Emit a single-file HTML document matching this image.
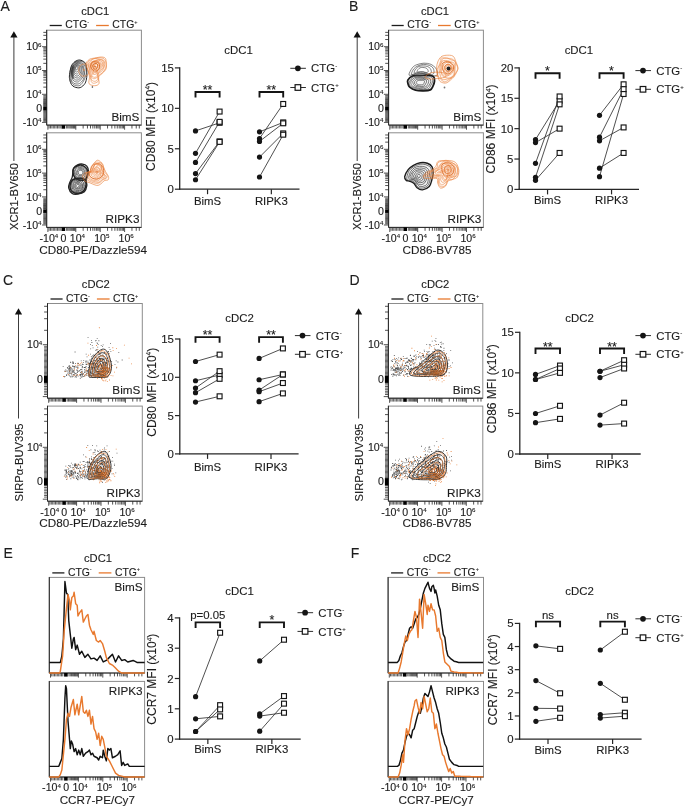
<!DOCTYPE html>
<html><head><meta charset="utf-8"><style>
html,body{margin:0;padding:0;background:#fff;overflow:hidden;}
svg{display:block;font-family:'Liberation Sans',sans-serif;will-change:transform;}
text{stroke:#1c1c1c;stroke-width:0.12px;}
</style></head><body>
<svg width="685" height="808" viewBox="0 0 685 808">
<rect width="685" height="808" fill="#fff"/>
<text x="0.4" y="10.8" font-size="14" text-anchor="start" fill="#1c1c1c" >A</text>
<text x="95.2" y="15" font-size="11.2" text-anchor="middle" fill="#1c1c1c" >cDC1</text>
<line x1="49.7" y1="25.5" x2="61.8" y2="25.5" stroke="#1c1c1c" stroke-width="1.3" />
<text x="65.3" y="28.4" font-size="10.4" text-anchor="start" fill="#1c1c1c" >CTG<tspan font-size="5.5" dy="-4.4">-</tspan></text>
<line x1="96.1" y1="25.5" x2="108.8" y2="25.5" stroke="#E8792E" stroke-width="1.3" />
<text x="112.3" y="28.4" font-size="10.4" text-anchor="start" fill="#1c1c1c" >CTG<tspan font-size="5.5" dy="-4.4">+</tspan></text>
<rect x="46.7" y="30.2" width="94.7" height="94.9" fill="none" stroke="#8c8c8c" stroke-width="1"/>
<line x1="46.7" y1="29.9" x2="46.7" y2="125.1" stroke="#262626" stroke-width="1" />
<line x1="46.7" y1="125.1" x2="141.4" y2="125.1" stroke="#262626" stroke-width="1" />
<path d="M43.3,39.54h3.4M43.3,35.34h3.4M43.3,32.37h3.4M43.3,63.34h3.4M43.3,59.14h3.4M43.3,56.17h3.4M43.3,53.86h3.4M43.3,51.98h3.4M43.3,50.39h3.4M43.3,49.01h3.4M43.3,47.79h3.4M43.3,87.14h3.4M43.3,82.94h3.4M43.3,79.97h3.4M43.3,77.66h3.4M43.3,75.78h3.4M43.3,74.19h3.4M43.3,72.81h3.4M43.3,71.59h3.4" stroke="#262626" stroke-width="0.8" fill="none"/>
<path d="M42,46.7h4.7M42,70.5h4.7M42,94.3h4.7M42,122.4h4.7" stroke="#262626" stroke-width="0.8" fill="none"/>
<path d="M43.3,95.6h3.4M43.3,96.8h3.4M43.3,97.8h3.4M43.3,98.7h3.4M43.3,99.5h3.4M43.3,100.3h3.4M43.3,101h3.4M43.3,101.7h3.4M43.3,102.3h3.4M43.3,102.9h3.4M43.3,103.5h3.4M43.3,104.1h3.4M43.3,104.7h3.4M43.3,105.3h3.4M43.3,105.9h3.4M43.3,106.5h3.4M43.3,110.4h3.4M43.3,111.4h3.4M43.3,112.3h3.4M43.3,113.2h3.4M43.3,114.1h3.4M43.3,115h3.4M43.3,115.9h3.4M43.3,116.8h3.4M43.3,117.7h3.4M43.3,118.6h3.4M43.3,119.5h3.4M43.3,120.4h3.4M43.3,121.3h3.4" stroke="#333" stroke-width="0.8" fill="none"/>
<rect x="43.2" y="106.9" width="3.5" height="3.4" fill="#000"/>
<text x="41.5" y="50.4" font-size="10.6" text-anchor="end" fill="#1c1c1c" >10<tspan font-size="6.2" dy="-3.8">6</tspan></text>
<text x="41.5" y="74.2" font-size="10.6" text-anchor="end" fill="#1c1c1c" >10<tspan font-size="6.2" dy="-3.8">5</tspan></text>
<text x="41.5" y="98" font-size="10.6" text-anchor="end" fill="#1c1c1c" >10<tspan font-size="6.2" dy="-3.8">4</tspan></text>
<text x="42.1" y="112.3" font-size="10.6" text-anchor="end" fill="#1c1c1c" >0</text>
<text x="41.5" y="126.1" font-size="10.6" text-anchor="end" fill="#1c1c1c" >-10<tspan font-size="6.2" dy="-3.8">4</tspan></text>
<path d="M83.15,125.1v3.4M87.44,125.1v3.4M90.49,125.1v3.4M92.85,125.1v3.4M94.79,125.1v3.4M96.42,125.1v3.4M97.84,125.1v3.4M99.08,125.1v3.4M107.55,125.1v3.4M111.84,125.1v3.4M114.89,125.1v3.4M117.25,125.1v3.4M119.19,125.1v3.4M120.82,125.1v3.4M122.24,125.1v3.4M123.48,125.1v3.4M131.95,125.1v3.4M136.24,125.1v3.4M139.29,125.1v3.4" stroke="#262626" stroke-width="0.8" fill="none"/>
<path d="M75.8,125.1v4.6M100.2,125.1v4.6M124.6,125.1v4.6M47.9,125.1v4.6" stroke="#262626" stroke-width="0.8" fill="none"/>
<path d="M49.1,125.1v3.4M50.5,125.1v3.4M51.9,125.1v3.4M53.3,125.1v3.4M54.7,125.1v3.4M56.1,125.1v3.4M57.5,125.1v3.4M58.9,125.1v3.4M60.2,125.1v3.4M66.4,125.1v3.4M67.7,125.1v3.4M68.9,125.1v3.4M70,125.1v3.4M71,125.1v3.4M71.9,125.1v3.4M72.8,125.1v3.4M73.6,125.1v3.4M74.4,125.1v3.4M75.1,125.1v3.4" stroke="#333" stroke-width="0.8" fill="none"/>
<rect x="61.5" y="125.1" width="3.6" height="3.6" fill="#000"/>
<text x="139.4" y="120.5" font-size="11.7" text-anchor="end" fill="#1c1c1c" >BimS</text>
<rect x="46.7" y="132.8" width="94.7" height="94.6" fill="none" stroke="#8c8c8c" stroke-width="1"/>
<line x1="46.7" y1="132.5" x2="46.7" y2="227.4" stroke="#262626" stroke-width="1" />
<line x1="46.7" y1="227.4" x2="141.4" y2="227.4" stroke="#262626" stroke-width="1" />
<path d="M43.3,142.14h3.4M43.3,137.94h3.4M43.3,134.97h3.4M43.3,165.94h3.4M43.3,161.74h3.4M43.3,158.77h3.4M43.3,156.46h3.4M43.3,154.58h3.4M43.3,152.99h3.4M43.3,151.61h3.4M43.3,150.39h3.4M43.3,189.74h3.4M43.3,185.54h3.4M43.3,182.57h3.4M43.3,180.26h3.4M43.3,178.38h3.4M43.3,176.79h3.4M43.3,175.41h3.4M43.3,174.19h3.4" stroke="#262626" stroke-width="0.8" fill="none"/>
<path d="M42,149.3h4.7M42,173.1h4.7M42,196.9h4.7M42,225h4.7" stroke="#262626" stroke-width="0.8" fill="none"/>
<path d="M43.3,198.2h3.4M43.3,199.4h3.4M43.3,200.4h3.4M43.3,201.3h3.4M43.3,202.1h3.4M43.3,202.9h3.4M43.3,203.6h3.4M43.3,204.3h3.4M43.3,204.9h3.4M43.3,205.5h3.4M43.3,206.1h3.4M43.3,206.7h3.4M43.3,207.3h3.4M43.3,207.9h3.4M43.3,208.5h3.4M43.3,209.1h3.4M43.3,213h3.4M43.3,214h3.4M43.3,214.9h3.4M43.3,215.8h3.4M43.3,216.7h3.4M43.3,217.6h3.4M43.3,218.5h3.4M43.3,219.4h3.4M43.3,220.3h3.4M43.3,221.2h3.4M43.3,222.1h3.4M43.3,223h3.4M43.3,223.9h3.4" stroke="#333" stroke-width="0.8" fill="none"/>
<rect x="43.2" y="209.5" width="3.5" height="3.4" fill="#000"/>
<text x="41.5" y="153" font-size="10.6" text-anchor="end" fill="#1c1c1c" >10<tspan font-size="6.2" dy="-3.8">6</tspan></text>
<text x="41.5" y="176.8" font-size="10.6" text-anchor="end" fill="#1c1c1c" >10<tspan font-size="6.2" dy="-3.8">5</tspan></text>
<text x="41.5" y="200.6" font-size="10.6" text-anchor="end" fill="#1c1c1c" >10<tspan font-size="6.2" dy="-3.8">4</tspan></text>
<text x="42.1" y="214.9" font-size="10.6" text-anchor="end" fill="#1c1c1c" >0</text>
<text x="41.5" y="228.7" font-size="10.6" text-anchor="end" fill="#1c1c1c" >-10<tspan font-size="6.2" dy="-3.8">4</tspan></text>
<path d="M83.15,227.4v3.4M87.44,227.4v3.4M90.49,227.4v3.4M92.85,227.4v3.4M94.79,227.4v3.4M96.42,227.4v3.4M97.84,227.4v3.4M99.08,227.4v3.4M107.55,227.4v3.4M111.84,227.4v3.4M114.89,227.4v3.4M117.25,227.4v3.4M119.19,227.4v3.4M120.82,227.4v3.4M122.24,227.4v3.4M123.48,227.4v3.4M131.95,227.4v3.4M136.24,227.4v3.4M139.29,227.4v3.4" stroke="#262626" stroke-width="0.8" fill="none"/>
<path d="M75.8,227.4v4.6M100.2,227.4v4.6M124.6,227.4v4.6M47.9,227.4v4.6" stroke="#262626" stroke-width="0.8" fill="none"/>
<path d="M49.1,227.4v3.4M50.5,227.4v3.4M51.9,227.4v3.4M53.3,227.4v3.4M54.7,227.4v3.4M56.1,227.4v3.4M57.5,227.4v3.4M58.9,227.4v3.4M60.2,227.4v3.4M66.4,227.4v3.4M67.7,227.4v3.4M68.9,227.4v3.4M70,227.4v3.4M71,227.4v3.4M71.9,227.4v3.4M72.8,227.4v3.4M73.6,227.4v3.4M74.4,227.4v3.4M75.1,227.4v3.4" stroke="#333" stroke-width="0.8" fill="none"/>
<rect x="61.5" y="227.4" width="3.6" height="3.6" fill="#000"/>
<text x="48.9" y="241.8" font-size="10.6" text-anchor="middle" fill="#1c1c1c" >-10<tspan font-size="6.2" dy="-3.8">4</tspan></text>
<text x="63.5" y="241.8" font-size="10.6" text-anchor="middle" fill="#1c1c1c" >0</text>
<text x="77.4" y="241.8" font-size="10.6" text-anchor="middle" fill="#1c1c1c" >10<tspan font-size="6.2" dy="-3.8">4</tspan></text>
<text x="101.8" y="241.8" font-size="10.6" text-anchor="middle" fill="#1c1c1c" >10<tspan font-size="6.2" dy="-3.8">5</tspan></text>
<text x="126.2" y="241.8" font-size="10.6" text-anchor="middle" fill="#1c1c1c" >10<tspan font-size="6.2" dy="-3.8">6</tspan></text>
<text x="139.4" y="222.8" font-size="11.7" text-anchor="end" fill="#1c1c1c" >RIPK3</text>
<line x1="13.9" y1="36.2" x2="13.9" y2="161" stroke="#3c3c3c" stroke-width="1" />
<path d="M10.3,37.5 L13.9,31.2 L17.5,37.5 Z" fill="#111"/>
<text x="0" y="0" font-size="11.2" text-anchor="middle" fill="#1c1c1c" transform="translate(17.9,196.5) rotate(-90)">XCR1-BV650</text>
<text x="93.2" y="253.9" font-size="11.7" text-anchor="middle" fill="#1c1c1c" >CD80-PE/Dazzle594</text>
<text x="349.1" y="10.8" font-size="14" text-anchor="start" fill="#1c1c1c" >B</text>
<text x="435" y="15" font-size="11.2" text-anchor="middle" fill="#1c1c1c" >cDC1</text>
<line x1="391.6" y1="25.5" x2="403.7" y2="25.5" stroke="#1c1c1c" stroke-width="1.3" />
<text x="407.2" y="28.4" font-size="10.4" text-anchor="start" fill="#1c1c1c" >CTG<tspan font-size="5.5" dy="-4.4">-</tspan></text>
<line x1="438" y1="25.5" x2="450.7" y2="25.5" stroke="#E8792E" stroke-width="1.3" />
<text x="454.2" y="28.4" font-size="10.4" text-anchor="start" fill="#1c1c1c" >CTG<tspan font-size="5.5" dy="-4.4">+</tspan></text>
<rect x="388.6" y="30.2" width="94.8" height="94.9" fill="none" stroke="#8c8c8c" stroke-width="1"/>
<line x1="388.6" y1="29.9" x2="388.6" y2="125.1" stroke="#262626" stroke-width="1" />
<line x1="388.6" y1="125.1" x2="483.4" y2="125.1" stroke="#262626" stroke-width="1" />
<path d="M385.2,39.54h3.4M385.2,35.34h3.4M385.2,32.37h3.4M385.2,63.34h3.4M385.2,59.14h3.4M385.2,56.17h3.4M385.2,53.86h3.4M385.2,51.98h3.4M385.2,50.39h3.4M385.2,49.01h3.4M385.2,47.79h3.4M385.2,87.14h3.4M385.2,82.94h3.4M385.2,79.97h3.4M385.2,77.66h3.4M385.2,75.78h3.4M385.2,74.19h3.4M385.2,72.81h3.4M385.2,71.59h3.4" stroke="#262626" stroke-width="0.8" fill="none"/>
<path d="M383.9,46.7h4.7M383.9,70.5h4.7M383.9,94.3h4.7M383.9,122.4h4.7" stroke="#262626" stroke-width="0.8" fill="none"/>
<path d="M385.2,95.6h3.4M385.2,96.8h3.4M385.2,97.8h3.4M385.2,98.7h3.4M385.2,99.5h3.4M385.2,100.3h3.4M385.2,101h3.4M385.2,101.7h3.4M385.2,102.3h3.4M385.2,102.9h3.4M385.2,103.5h3.4M385.2,104.1h3.4M385.2,104.7h3.4M385.2,105.3h3.4M385.2,105.9h3.4M385.2,106.5h3.4M385.2,110.4h3.4M385.2,111.4h3.4M385.2,112.3h3.4M385.2,113.2h3.4M385.2,114.1h3.4M385.2,115h3.4M385.2,115.9h3.4M385.2,116.8h3.4M385.2,117.7h3.4M385.2,118.6h3.4M385.2,119.5h3.4M385.2,120.4h3.4M385.2,121.3h3.4" stroke="#333" stroke-width="0.8" fill="none"/>
<rect x="385.1" y="106.9" width="3.5" height="3.4" fill="#000"/>
<text x="383.4" y="50.4" font-size="10.6" text-anchor="end" fill="#1c1c1c" >10<tspan font-size="6.2" dy="-3.8">6</tspan></text>
<text x="383.4" y="74.2" font-size="10.6" text-anchor="end" fill="#1c1c1c" >10<tspan font-size="6.2" dy="-3.8">5</tspan></text>
<text x="383.4" y="98" font-size="10.6" text-anchor="end" fill="#1c1c1c" >10<tspan font-size="6.2" dy="-3.8">4</tspan></text>
<text x="384" y="112.3" font-size="10.6" text-anchor="end" fill="#1c1c1c" >0</text>
<text x="383.4" y="126.1" font-size="10.6" text-anchor="end" fill="#1c1c1c" >-10<tspan font-size="6.2" dy="-3.8">4</tspan></text>
<path d="M425.05,125.1v3.4M429.34,125.1v3.4M432.39,125.1v3.4M434.75,125.1v3.4M436.69,125.1v3.4M438.32,125.1v3.4M439.74,125.1v3.4M440.98,125.1v3.4M449.45,125.1v3.4M453.74,125.1v3.4M456.79,125.1v3.4M459.15,125.1v3.4M461.09,125.1v3.4M462.72,125.1v3.4M464.14,125.1v3.4M465.38,125.1v3.4M473.85,125.1v3.4M478.14,125.1v3.4M481.19,125.1v3.4" stroke="#262626" stroke-width="0.8" fill="none"/>
<path d="M417.7,125.1v4.6M442.1,125.1v4.6M466.5,125.1v4.6M389.8,125.1v4.6" stroke="#262626" stroke-width="0.8" fill="none"/>
<path d="M391,125.1v3.4M392.4,125.1v3.4M393.8,125.1v3.4M395.2,125.1v3.4M396.6,125.1v3.4M398,125.1v3.4M399.4,125.1v3.4M400.8,125.1v3.4M402.1,125.1v3.4M408.3,125.1v3.4M409.6,125.1v3.4M410.8,125.1v3.4M411.9,125.1v3.4M412.9,125.1v3.4M413.8,125.1v3.4M414.7,125.1v3.4M415.5,125.1v3.4M416.3,125.1v3.4M417,125.1v3.4" stroke="#333" stroke-width="0.8" fill="none"/>
<rect x="403.4" y="125.1" width="3.6" height="3.6" fill="#000"/>
<text x="481.3" y="120.5" font-size="11.7" text-anchor="end" fill="#1c1c1c" >BimS</text>
<rect x="388.6" y="132.8" width="94.8" height="94.6" fill="none" stroke="#8c8c8c" stroke-width="1"/>
<line x1="388.6" y1="132.5" x2="388.6" y2="227.4" stroke="#262626" stroke-width="1" />
<line x1="388.6" y1="227.4" x2="483.4" y2="227.4" stroke="#262626" stroke-width="1" />
<path d="M385.2,142.14h3.4M385.2,137.94h3.4M385.2,134.97h3.4M385.2,165.94h3.4M385.2,161.74h3.4M385.2,158.77h3.4M385.2,156.46h3.4M385.2,154.58h3.4M385.2,152.99h3.4M385.2,151.61h3.4M385.2,150.39h3.4M385.2,189.74h3.4M385.2,185.54h3.4M385.2,182.57h3.4M385.2,180.26h3.4M385.2,178.38h3.4M385.2,176.79h3.4M385.2,175.41h3.4M385.2,174.19h3.4" stroke="#262626" stroke-width="0.8" fill="none"/>
<path d="M383.9,149.3h4.7M383.9,173.1h4.7M383.9,196.9h4.7M383.9,225h4.7" stroke="#262626" stroke-width="0.8" fill="none"/>
<path d="M385.2,198.2h3.4M385.2,199.4h3.4M385.2,200.4h3.4M385.2,201.3h3.4M385.2,202.1h3.4M385.2,202.9h3.4M385.2,203.6h3.4M385.2,204.3h3.4M385.2,204.9h3.4M385.2,205.5h3.4M385.2,206.1h3.4M385.2,206.7h3.4M385.2,207.3h3.4M385.2,207.9h3.4M385.2,208.5h3.4M385.2,209.1h3.4M385.2,213h3.4M385.2,214h3.4M385.2,214.9h3.4M385.2,215.8h3.4M385.2,216.7h3.4M385.2,217.6h3.4M385.2,218.5h3.4M385.2,219.4h3.4M385.2,220.3h3.4M385.2,221.2h3.4M385.2,222.1h3.4M385.2,223h3.4M385.2,223.9h3.4" stroke="#333" stroke-width="0.8" fill="none"/>
<rect x="385.1" y="209.5" width="3.5" height="3.4" fill="#000"/>
<text x="383.4" y="153" font-size="10.6" text-anchor="end" fill="#1c1c1c" >10<tspan font-size="6.2" dy="-3.8">6</tspan></text>
<text x="383.4" y="176.8" font-size="10.6" text-anchor="end" fill="#1c1c1c" >10<tspan font-size="6.2" dy="-3.8">5</tspan></text>
<text x="383.4" y="200.6" font-size="10.6" text-anchor="end" fill="#1c1c1c" >10<tspan font-size="6.2" dy="-3.8">4</tspan></text>
<text x="384" y="214.9" font-size="10.6" text-anchor="end" fill="#1c1c1c" >0</text>
<text x="383.4" y="228.7" font-size="10.6" text-anchor="end" fill="#1c1c1c" >-10<tspan font-size="6.2" dy="-3.8">4</tspan></text>
<path d="M425.05,227.4v3.4M429.34,227.4v3.4M432.39,227.4v3.4M434.75,227.4v3.4M436.69,227.4v3.4M438.32,227.4v3.4M439.74,227.4v3.4M440.98,227.4v3.4M449.45,227.4v3.4M453.74,227.4v3.4M456.79,227.4v3.4M459.15,227.4v3.4M461.09,227.4v3.4M462.72,227.4v3.4M464.14,227.4v3.4M465.38,227.4v3.4M473.85,227.4v3.4M478.14,227.4v3.4M481.19,227.4v3.4" stroke="#262626" stroke-width="0.8" fill="none"/>
<path d="M417.7,227.4v4.6M442.1,227.4v4.6M466.5,227.4v4.6M389.8,227.4v4.6" stroke="#262626" stroke-width="0.8" fill="none"/>
<path d="M391,227.4v3.4M392.4,227.4v3.4M393.8,227.4v3.4M395.2,227.4v3.4M396.6,227.4v3.4M398,227.4v3.4M399.4,227.4v3.4M400.8,227.4v3.4M402.1,227.4v3.4M408.3,227.4v3.4M409.6,227.4v3.4M410.8,227.4v3.4M411.9,227.4v3.4M412.9,227.4v3.4M413.8,227.4v3.4M414.7,227.4v3.4M415.5,227.4v3.4M416.3,227.4v3.4M417,227.4v3.4" stroke="#333" stroke-width="0.8" fill="none"/>
<rect x="403.4" y="227.4" width="3.6" height="3.6" fill="#000"/>
<text x="390.8" y="241.8" font-size="10.6" text-anchor="middle" fill="#1c1c1c" >-10<tspan font-size="6.2" dy="-3.8">4</tspan></text>
<text x="405.4" y="241.8" font-size="10.6" text-anchor="middle" fill="#1c1c1c" >0</text>
<text x="419.3" y="241.8" font-size="10.6" text-anchor="middle" fill="#1c1c1c" >10<tspan font-size="6.2" dy="-3.8">4</tspan></text>
<text x="443.7" y="241.8" font-size="10.6" text-anchor="middle" fill="#1c1c1c" >10<tspan font-size="6.2" dy="-3.8">5</tspan></text>
<text x="468.1" y="241.8" font-size="10.6" text-anchor="middle" fill="#1c1c1c" >10<tspan font-size="6.2" dy="-3.8">6</tspan></text>
<text x="481.3" y="222.8" font-size="11.7" text-anchor="end" fill="#1c1c1c" >RIPK3</text>
<line x1="357.2" y1="36.2" x2="357.2" y2="161" stroke="#3c3c3c" stroke-width="1" />
<path d="M353.6,37.5 L357.2,31.2 L360.8,37.5 Z" fill="#111"/>
<text x="0" y="0" font-size="11.2" text-anchor="middle" fill="#1c1c1c" transform="translate(361.2,196.5) rotate(-90)">XCR1-BV650</text>
<text x="437" y="253.9" font-size="11.7" text-anchor="middle" fill="#1c1c1c" >CD86-BV785</text>
<text x="2.9" y="285.2" font-size="14" text-anchor="start" fill="#1c1c1c" >C</text>
<text x="95.8" y="288.2" font-size="11.2" text-anchor="middle" fill="#1c1c1c" >cDC2</text>
<line x1="50.5" y1="299" x2="62.6" y2="299" stroke="#1c1c1c" stroke-width="1.3" />
<text x="66.1" y="301.9" font-size="10.4" text-anchor="start" fill="#1c1c1c" >CTG<tspan font-size="5.5" dy="-4.4">-</tspan></text>
<line x1="96.9" y1="299" x2="109.6" y2="299" stroke="#E8792E" stroke-width="1.3" />
<text x="113.1" y="301.9" font-size="10.4" text-anchor="start" fill="#1c1c1c" >CTG<tspan font-size="5.5" dy="-4.4">+</tspan></text>
<rect x="47.5" y="303.5" width="94.8" height="94.7" fill="none" stroke="#8c8c8c" stroke-width="1"/>
<line x1="47.5" y1="303.2" x2="47.5" y2="398.2" stroke="#262626" stroke-width="1" />
<line x1="47.5" y1="398.2" x2="142.3" y2="398.2" stroke="#262626" stroke-width="1" />
<path d="M44.1,306.3h3.4M44.1,312h3.4M44.1,318.7h3.4M44.1,330.3h3.4" stroke="#262626" stroke-width="0.8" fill="none"/>
<path d="M42.8,344.7h4.7M42.8,396.6h4.7" stroke="#262626" stroke-width="0.8" fill="none"/>
<path d="M44.1,346.3h3.4M44.1,347.8h3.4M44.1,349.2h3.4M44.1,350.6h3.4M44.1,351.9h3.4M44.1,353.2h3.4M44.1,354.4h3.4M44.1,355.6h3.4M44.1,356.8h3.4M44.1,358h3.4M44.1,359.2h3.4M44.1,360.4h3.4M44.1,361.6h3.4M44.1,362.8h3.4M44.1,364h3.4M44.1,365.2h3.4M44.1,366.4h3.4M44.1,367.6h3.4M44.1,368.8h3.4M44.1,370h3.4M44.1,371.2h3.4M44.1,372.4h3.4M44.1,373.6h3.4M44.1,374.8h3.4M44.1,383.3h3.4M44.1,384.9h3.4M44.1,386.5h3.4M44.1,388.1h3.4M44.1,389.7h3.4M44.1,391.3h3.4M44.1,392.9h3.4M44.1,394.5h3.4" stroke="#333" stroke-width="0.8" fill="none"/>
<rect x="44" y="375.5" width="3.5" height="7.4" fill="#000"/>
<text x="42.3" y="348.4" font-size="10.6" text-anchor="end" fill="#1c1c1c" >10<tspan font-size="6.2" dy="-3.8">4</tspan></text>
<text x="42.9" y="382.8" font-size="10.6" text-anchor="end" fill="#1c1c1c" >0</text>
<path d="M83.95,398.2v3.4M88.24,398.2v3.4M91.29,398.2v3.4M93.65,398.2v3.4M95.59,398.2v3.4M97.22,398.2v3.4M98.64,398.2v3.4M99.88,398.2v3.4M108.35,398.2v3.4M112.64,398.2v3.4M115.69,398.2v3.4M118.05,398.2v3.4M119.99,398.2v3.4M121.62,398.2v3.4M123.04,398.2v3.4M124.28,398.2v3.4M132.75,398.2v3.4M137.04,398.2v3.4M140.09,398.2v3.4" stroke="#262626" stroke-width="0.8" fill="none"/>
<path d="M76.6,398.2v4.6M101,398.2v4.6M125.4,398.2v4.6M48.7,398.2v4.6" stroke="#262626" stroke-width="0.8" fill="none"/>
<path d="M49.9,398.2v3.4M51.3,398.2v3.4M52.7,398.2v3.4M54.1,398.2v3.4M55.5,398.2v3.4M56.9,398.2v3.4M58.3,398.2v3.4M59.7,398.2v3.4M61,398.2v3.4M67.2,398.2v3.4M68.5,398.2v3.4M69.7,398.2v3.4M70.8,398.2v3.4M71.8,398.2v3.4M72.7,398.2v3.4M73.6,398.2v3.4M74.4,398.2v3.4M75.2,398.2v3.4M75.9,398.2v3.4" stroke="#333" stroke-width="0.8" fill="none"/>
<rect x="62.3" y="398.2" width="3.6" height="3.6" fill="#000"/>
<text x="140.3" y="393.6" font-size="11.7" text-anchor="end" fill="#1c1c1c" >BimS</text>
<rect x="47.5" y="406.1" width="94.8" height="95.1" fill="none" stroke="#8c8c8c" stroke-width="1"/>
<line x1="47.5" y1="405.8" x2="47.5" y2="501.2" stroke="#262626" stroke-width="1" />
<line x1="47.5" y1="501.2" x2="142.3" y2="501.2" stroke="#262626" stroke-width="1" />
<path d="M44.1,408.9h3.4M44.1,414.6h3.4M44.1,421.3h3.4M44.1,432.9h3.4" stroke="#262626" stroke-width="0.8" fill="none"/>
<path d="M42.8,447.3h4.7M42.8,499.2h4.7" stroke="#262626" stroke-width="0.8" fill="none"/>
<path d="M44.1,448.9h3.4M44.1,450.4h3.4M44.1,451.8h3.4M44.1,453.2h3.4M44.1,454.5h3.4M44.1,455.8h3.4M44.1,457h3.4M44.1,458.2h3.4M44.1,459.4h3.4M44.1,460.6h3.4M44.1,461.8h3.4M44.1,463h3.4M44.1,464.2h3.4M44.1,465.4h3.4M44.1,466.6h3.4M44.1,467.8h3.4M44.1,469h3.4M44.1,470.2h3.4M44.1,471.4h3.4M44.1,472.6h3.4M44.1,473.8h3.4M44.1,475h3.4M44.1,476.2h3.4M44.1,477.4h3.4M44.1,485.9h3.4M44.1,487.5h3.4M44.1,489.1h3.4M44.1,490.7h3.4M44.1,492.3h3.4M44.1,493.9h3.4M44.1,495.5h3.4M44.1,497.1h3.4" stroke="#333" stroke-width="0.8" fill="none"/>
<rect x="44" y="478.1" width="3.5" height="7.4" fill="#000"/>
<text x="42.3" y="451" font-size="10.6" text-anchor="end" fill="#1c1c1c" >10<tspan font-size="6.2" dy="-3.8">4</tspan></text>
<text x="42.9" y="485.4" font-size="10.6" text-anchor="end" fill="#1c1c1c" >0</text>
<path d="M83.95,501.2v3.4M88.24,501.2v3.4M91.29,501.2v3.4M93.65,501.2v3.4M95.59,501.2v3.4M97.22,501.2v3.4M98.64,501.2v3.4M99.88,501.2v3.4M108.35,501.2v3.4M112.64,501.2v3.4M115.69,501.2v3.4M118.05,501.2v3.4M119.99,501.2v3.4M121.62,501.2v3.4M123.04,501.2v3.4M124.28,501.2v3.4M132.75,501.2v3.4M137.04,501.2v3.4M140.09,501.2v3.4" stroke="#262626" stroke-width="0.8" fill="none"/>
<path d="M76.6,501.2v4.6M101,501.2v4.6M125.4,501.2v4.6M48.7,501.2v4.6" stroke="#262626" stroke-width="0.8" fill="none"/>
<path d="M49.9,501.2v3.4M51.3,501.2v3.4M52.7,501.2v3.4M54.1,501.2v3.4M55.5,501.2v3.4M56.9,501.2v3.4M58.3,501.2v3.4M59.7,501.2v3.4M61,501.2v3.4M67.2,501.2v3.4M68.5,501.2v3.4M69.7,501.2v3.4M70.8,501.2v3.4M71.8,501.2v3.4M72.7,501.2v3.4M73.6,501.2v3.4M74.4,501.2v3.4M75.2,501.2v3.4M75.9,501.2v3.4" stroke="#333" stroke-width="0.8" fill="none"/>
<rect x="62.3" y="501.2" width="3.6" height="3.6" fill="#000"/>
<text x="49.7" y="515.6" font-size="10.6" text-anchor="middle" fill="#1c1c1c" >-10<tspan font-size="6.2" dy="-3.8">4</tspan></text>
<text x="64.3" y="515.6" font-size="10.6" text-anchor="middle" fill="#1c1c1c" >0</text>
<text x="78.2" y="515.6" font-size="10.6" text-anchor="middle" fill="#1c1c1c" >10<tspan font-size="6.2" dy="-3.8">4</tspan></text>
<text x="102.6" y="515.6" font-size="10.6" text-anchor="middle" fill="#1c1c1c" >10<tspan font-size="6.2" dy="-3.8">5</tspan></text>
<text x="127" y="515.6" font-size="10.6" text-anchor="middle" fill="#1c1c1c" >10<tspan font-size="6.2" dy="-3.8">6</tspan></text>
<text x="140.3" y="496.6" font-size="11.7" text-anchor="end" fill="#1c1c1c" >RIPK3</text>
<line x1="18.5" y1="313.2" x2="18.5" y2="418.5" stroke="#3c3c3c" stroke-width="1" />
<path d="M14.9,314.5 L18.5,308.2 L22.1,314.5 Z" fill="#111"/>
<text x="0" y="0" font-size="11.2" text-anchor="middle" fill="#1c1c1c" transform="translate(22.5,462.4) rotate(-90)">SIRPα-BUV395</text>
<text x="93.2" y="526.8" font-size="11.7" text-anchor="middle" fill="#1c1c1c" >CD80-PE/Dazzle594</text>
<text x="349.4" y="285.2" font-size="14" text-anchor="start" fill="#1c1c1c" >D</text>
<text x="435.3" y="287.8" font-size="11.2" text-anchor="middle" fill="#1c1c1c" >cDC2</text>
<line x1="391.4" y1="299" x2="403.5" y2="299" stroke="#1c1c1c" stroke-width="1.3" />
<text x="407" y="301.9" font-size="10.4" text-anchor="start" fill="#1c1c1c" >CTG<tspan font-size="5.5" dy="-4.4">-</tspan></text>
<line x1="437.8" y1="299" x2="450.5" y2="299" stroke="#E8792E" stroke-width="1.3" />
<text x="454" y="301.9" font-size="10.4" text-anchor="start" fill="#1c1c1c" >CTG<tspan font-size="5.5" dy="-4.4">+</tspan></text>
<rect x="388.4" y="303.5" width="94.4" height="94.7" fill="none" stroke="#8c8c8c" stroke-width="1"/>
<line x1="388.4" y1="303.2" x2="388.4" y2="398.2" stroke="#262626" stroke-width="1" />
<line x1="388.4" y1="398.2" x2="482.8" y2="398.2" stroke="#262626" stroke-width="1" />
<path d="M385,306.3h3.4M385,312h3.4M385,318.7h3.4M385,330.3h3.4" stroke="#262626" stroke-width="0.8" fill="none"/>
<path d="M383.7,344.7h4.7M383.7,396.6h4.7" stroke="#262626" stroke-width="0.8" fill="none"/>
<path d="M385,346.3h3.4M385,347.8h3.4M385,349.2h3.4M385,350.6h3.4M385,351.9h3.4M385,353.2h3.4M385,354.4h3.4M385,355.6h3.4M385,356.8h3.4M385,358h3.4M385,359.2h3.4M385,360.4h3.4M385,361.6h3.4M385,362.8h3.4M385,364h3.4M385,365.2h3.4M385,366.4h3.4M385,367.6h3.4M385,368.8h3.4M385,370h3.4M385,371.2h3.4M385,372.4h3.4M385,373.6h3.4M385,374.8h3.4M385,383.3h3.4M385,384.9h3.4M385,386.5h3.4M385,388.1h3.4M385,389.7h3.4M385,391.3h3.4M385,392.9h3.4M385,394.5h3.4" stroke="#333" stroke-width="0.8" fill="none"/>
<rect x="384.9" y="375.5" width="3.5" height="7.4" fill="#000"/>
<text x="383.2" y="348.4" font-size="10.6" text-anchor="end" fill="#1c1c1c" >10<tspan font-size="6.2" dy="-3.8">4</tspan></text>
<text x="383.8" y="382.8" font-size="10.6" text-anchor="end" fill="#1c1c1c" >0</text>
<path d="M424.85,398.2v3.4M429.14,398.2v3.4M432.19,398.2v3.4M434.55,398.2v3.4M436.49,398.2v3.4M438.12,398.2v3.4M439.54,398.2v3.4M440.78,398.2v3.4M449.25,398.2v3.4M453.54,398.2v3.4M456.59,398.2v3.4M458.95,398.2v3.4M460.89,398.2v3.4M462.52,398.2v3.4M463.94,398.2v3.4M465.18,398.2v3.4M473.65,398.2v3.4M477.94,398.2v3.4M480.99,398.2v3.4" stroke="#262626" stroke-width="0.8" fill="none"/>
<path d="M417.5,398.2v4.6M441.9,398.2v4.6M466.3,398.2v4.6M389.6,398.2v4.6" stroke="#262626" stroke-width="0.8" fill="none"/>
<path d="M390.8,398.2v3.4M392.2,398.2v3.4M393.6,398.2v3.4M395,398.2v3.4M396.4,398.2v3.4M397.8,398.2v3.4M399.2,398.2v3.4M400.6,398.2v3.4M401.9,398.2v3.4M408.1,398.2v3.4M409.4,398.2v3.4M410.6,398.2v3.4M411.7,398.2v3.4M412.7,398.2v3.4M413.6,398.2v3.4M414.5,398.2v3.4M415.3,398.2v3.4M416.1,398.2v3.4M416.8,398.2v3.4" stroke="#333" stroke-width="0.8" fill="none"/>
<rect x="403.2" y="398.2" width="3.6" height="3.6" fill="#000"/>
<text x="480.8" y="393.6" font-size="11.7" text-anchor="end" fill="#1c1c1c" >BimS</text>
<rect x="388.4" y="406.1" width="94.4" height="95.1" fill="none" stroke="#8c8c8c" stroke-width="1"/>
<line x1="388.4" y1="405.8" x2="388.4" y2="501.2" stroke="#262626" stroke-width="1" />
<line x1="388.4" y1="501.2" x2="482.8" y2="501.2" stroke="#262626" stroke-width="1" />
<path d="M385,408.9h3.4M385,414.6h3.4M385,421.3h3.4M385,432.9h3.4" stroke="#262626" stroke-width="0.8" fill="none"/>
<path d="M383.7,447.3h4.7M383.7,499.2h4.7" stroke="#262626" stroke-width="0.8" fill="none"/>
<path d="M385,448.9h3.4M385,450.4h3.4M385,451.8h3.4M385,453.2h3.4M385,454.5h3.4M385,455.8h3.4M385,457h3.4M385,458.2h3.4M385,459.4h3.4M385,460.6h3.4M385,461.8h3.4M385,463h3.4M385,464.2h3.4M385,465.4h3.4M385,466.6h3.4M385,467.8h3.4M385,469h3.4M385,470.2h3.4M385,471.4h3.4M385,472.6h3.4M385,473.8h3.4M385,475h3.4M385,476.2h3.4M385,477.4h3.4M385,485.9h3.4M385,487.5h3.4M385,489.1h3.4M385,490.7h3.4M385,492.3h3.4M385,493.9h3.4M385,495.5h3.4M385,497.1h3.4" stroke="#333" stroke-width="0.8" fill="none"/>
<rect x="384.9" y="478.1" width="3.5" height="7.4" fill="#000"/>
<text x="383.2" y="451" font-size="10.6" text-anchor="end" fill="#1c1c1c" >10<tspan font-size="6.2" dy="-3.8">4</tspan></text>
<text x="383.8" y="485.4" font-size="10.6" text-anchor="end" fill="#1c1c1c" >0</text>
<path d="M424.85,501.2v3.4M429.14,501.2v3.4M432.19,501.2v3.4M434.55,501.2v3.4M436.49,501.2v3.4M438.12,501.2v3.4M439.54,501.2v3.4M440.78,501.2v3.4M449.25,501.2v3.4M453.54,501.2v3.4M456.59,501.2v3.4M458.95,501.2v3.4M460.89,501.2v3.4M462.52,501.2v3.4M463.94,501.2v3.4M465.18,501.2v3.4M473.65,501.2v3.4M477.94,501.2v3.4M480.99,501.2v3.4" stroke="#262626" stroke-width="0.8" fill="none"/>
<path d="M417.5,501.2v4.6M441.9,501.2v4.6M466.3,501.2v4.6M389.6,501.2v4.6" stroke="#262626" stroke-width="0.8" fill="none"/>
<path d="M390.8,501.2v3.4M392.2,501.2v3.4M393.6,501.2v3.4M395,501.2v3.4M396.4,501.2v3.4M397.8,501.2v3.4M399.2,501.2v3.4M400.6,501.2v3.4M401.9,501.2v3.4M408.1,501.2v3.4M409.4,501.2v3.4M410.6,501.2v3.4M411.7,501.2v3.4M412.7,501.2v3.4M413.6,501.2v3.4M414.5,501.2v3.4M415.3,501.2v3.4M416.1,501.2v3.4M416.8,501.2v3.4" stroke="#333" stroke-width="0.8" fill="none"/>
<rect x="403.2" y="501.2" width="3.6" height="3.6" fill="#000"/>
<text x="390.6" y="515.6" font-size="10.6" text-anchor="middle" fill="#1c1c1c" >-10<tspan font-size="6.2" dy="-3.8">4</tspan></text>
<text x="405.2" y="515.6" font-size="10.6" text-anchor="middle" fill="#1c1c1c" >0</text>
<text x="419.1" y="515.6" font-size="10.6" text-anchor="middle" fill="#1c1c1c" >10<tspan font-size="6.2" dy="-3.8">4</tspan></text>
<text x="443.5" y="515.6" font-size="10.6" text-anchor="middle" fill="#1c1c1c" >10<tspan font-size="6.2" dy="-3.8">5</tspan></text>
<text x="467.9" y="515.6" font-size="10.6" text-anchor="middle" fill="#1c1c1c" >10<tspan font-size="6.2" dy="-3.8">6</tspan></text>
<text x="480.8" y="496.6" font-size="11.7" text-anchor="end" fill="#1c1c1c" >RIPK3</text>
<line x1="358.6" y1="313.2" x2="358.6" y2="418.5" stroke="#3c3c3c" stroke-width="1" />
<path d="M355,314.5 L358.6,308.2 L362.2,314.5 Z" fill="#111"/>
<text x="0" y="0" font-size="11.2" text-anchor="middle" fill="#1c1c1c" transform="translate(362.6,462.4) rotate(-90)">SIRPα-BUV395</text>
<text x="437" y="526.8" font-size="11.7" text-anchor="middle" fill="#1c1c1c" >CD86-BV785</text>
<text x="3.4" y="558.3" font-size="14" text-anchor="start" fill="#1c1c1c" >E</text>
<text x="98" y="562.4" font-size="11.2" text-anchor="middle" fill="#1c1c1c" >cDC1</text>
<line x1="52.3" y1="572.9" x2="64.4" y2="572.9" stroke="#1c1c1c" stroke-width="1.3" />
<text x="67.9" y="575.8" font-size="10.4" text-anchor="start" fill="#1c1c1c" >CTG<tspan font-size="5.5" dy="-4.4">-</tspan></text>
<line x1="98.7" y1="572.9" x2="111.4" y2="572.9" stroke="#E8792E" stroke-width="1.3" />
<text x="114.9" y="575.8" font-size="10.4" text-anchor="start" fill="#1c1c1c" >CTG<tspan font-size="5.5" dy="-4.4">+</tspan></text>
<rect x="49.3" y="577.4" width="95.3" height="95.6" fill="none" stroke="#8c8c8c" stroke-width="1"/>
<line x1="49.3" y1="577.1" x2="49.3" y2="673" stroke="#262626" stroke-width="1" />
<line x1="49.3" y1="673" x2="144.6" y2="673" stroke="#262626" stroke-width="1" />
<path d="M85.75,673v3.4M90.04,673v3.4M93.09,673v3.4M95.45,673v3.4M97.39,673v3.4M99.02,673v3.4M100.44,673v3.4M101.68,673v3.4M110.15,673v3.4M114.44,673v3.4M117.49,673v3.4M119.85,673v3.4M121.79,673v3.4M123.42,673v3.4M124.84,673v3.4M126.08,673v3.4M134.55,673v3.4M138.84,673v3.4M141.89,673v3.4" stroke="#262626" stroke-width="0.8" fill="none"/>
<path d="M78.4,673v4.6M102.8,673v4.6M127.2,673v4.6M50.5,673v4.6" stroke="#262626" stroke-width="0.8" fill="none"/>
<path d="M51.7,673v3.4M53.1,673v3.4M54.5,673v3.4M55.9,673v3.4M57.3,673v3.4M58.7,673v3.4M60.1,673v3.4M61.5,673v3.4M62.8,673v3.4M69,673v3.4M70.3,673v3.4M71.5,673v3.4M72.6,673v3.4M73.6,673v3.4M74.5,673v3.4M75.4,673v3.4M76.2,673v3.4M77,673v3.4M77.7,673v3.4" stroke="#333" stroke-width="0.8" fill="none"/>
<rect x="64.1" y="673" width="3.6" height="3.6" fill="#000"/>
<text x="142.5" y="591" font-size="11.7" text-anchor="end" fill="#1c1c1c" >BimS</text>
<rect x="49.3" y="681.4" width="95.3" height="95.6" fill="none" stroke="#8c8c8c" stroke-width="1"/>
<line x1="49.3" y1="681.1" x2="49.3" y2="777" stroke="#262626" stroke-width="1" />
<line x1="49.3" y1="777" x2="144.6" y2="777" stroke="#262626" stroke-width="1" />
<path d="M85.75,777v3.4M90.04,777v3.4M93.09,777v3.4M95.45,777v3.4M97.39,777v3.4M99.02,777v3.4M100.44,777v3.4M101.68,777v3.4M110.15,777v3.4M114.44,777v3.4M117.49,777v3.4M119.85,777v3.4M121.79,777v3.4M123.42,777v3.4M124.84,777v3.4M126.08,777v3.4M134.55,777v3.4M138.84,777v3.4M141.89,777v3.4" stroke="#262626" stroke-width="0.8" fill="none"/>
<path d="M78.4,777v4.6M102.8,777v4.6M127.2,777v4.6M50.5,777v4.6" stroke="#262626" stroke-width="0.8" fill="none"/>
<path d="M51.7,777v3.4M53.1,777v3.4M54.5,777v3.4M55.9,777v3.4M57.3,777v3.4M58.7,777v3.4M60.1,777v3.4M61.5,777v3.4M62.8,777v3.4M69,777v3.4M70.3,777v3.4M71.5,777v3.4M72.6,777v3.4M73.6,777v3.4M74.5,777v3.4M75.4,777v3.4M76.2,777v3.4M77,777v3.4M77.7,777v3.4" stroke="#333" stroke-width="0.8" fill="none"/>
<rect x="64.1" y="777" width="3.6" height="3.6" fill="#000"/>
<text x="51.5" y="791.4" font-size="10.6" text-anchor="middle" fill="#1c1c1c" >-10<tspan font-size="6.2" dy="-3.8">4</tspan></text>
<text x="66.1" y="791.4" font-size="10.6" text-anchor="middle" fill="#1c1c1c" >0</text>
<text x="80" y="791.4" font-size="10.6" text-anchor="middle" fill="#1c1c1c" >10<tspan font-size="6.2" dy="-3.8">4</tspan></text>
<text x="104.4" y="791.4" font-size="10.6" text-anchor="middle" fill="#1c1c1c" >10<tspan font-size="6.2" dy="-3.8">5</tspan></text>
<text x="128.8" y="791.4" font-size="10.6" text-anchor="middle" fill="#1c1c1c" >10<tspan font-size="6.2" dy="-3.8">6</tspan></text>
<text x="142.5" y="695" font-size="11.7" text-anchor="end" fill="#1c1c1c" >RIPK3</text>
<text x="97.3" y="804.3" font-size="11.7" text-anchor="middle" fill="#1c1c1c" >CCR7-PE/Cy7</text>
<text x="350.8" y="558.3" font-size="14" text-anchor="start" fill="#1c1c1c" >F</text>
<text x="437" y="562.4" font-size="11.2" text-anchor="middle" fill="#1c1c1c" >cDC2</text>
<line x1="391.1" y1="572.9" x2="403.2" y2="572.9" stroke="#1c1c1c" stroke-width="1.3" />
<text x="406.7" y="575.8" font-size="10.4" text-anchor="start" fill="#1c1c1c" >CTG<tspan font-size="5.5" dy="-4.4">-</tspan></text>
<line x1="437.5" y1="572.9" x2="450.2" y2="572.9" stroke="#E8792E" stroke-width="1.3" />
<text x="453.7" y="575.8" font-size="10.4" text-anchor="start" fill="#1c1c1c" >CTG<tspan font-size="5.5" dy="-4.4">+</tspan></text>
<rect x="388.1" y="577.4" width="95.4" height="95.6" fill="none" stroke="#8c8c8c" stroke-width="1"/>
<line x1="388.1" y1="577.1" x2="388.1" y2="673" stroke="#262626" stroke-width="1" />
<line x1="388.1" y1="673" x2="483.5" y2="673" stroke="#262626" stroke-width="1" />
<path d="M424.55,673v3.4M428.84,673v3.4M431.89,673v3.4M434.25,673v3.4M436.19,673v3.4M437.82,673v3.4M439.24,673v3.4M440.48,673v3.4M448.95,673v3.4M453.24,673v3.4M456.29,673v3.4M458.65,673v3.4M460.59,673v3.4M462.22,673v3.4M463.64,673v3.4M464.88,673v3.4M473.35,673v3.4M477.64,673v3.4M480.69,673v3.4" stroke="#262626" stroke-width="0.8" fill="none"/>
<path d="M417.2,673v4.6M441.6,673v4.6M466,673v4.6M389.3,673v4.6" stroke="#262626" stroke-width="0.8" fill="none"/>
<path d="M390.5,673v3.4M391.9,673v3.4M393.3,673v3.4M394.7,673v3.4M396.1,673v3.4M397.5,673v3.4M398.9,673v3.4M400.3,673v3.4M401.6,673v3.4M407.8,673v3.4M409.1,673v3.4M410.3,673v3.4M411.4,673v3.4M412.4,673v3.4M413.3,673v3.4M414.2,673v3.4M415,673v3.4M415.8,673v3.4M416.5,673v3.4" stroke="#333" stroke-width="0.8" fill="none"/>
<rect x="402.9" y="673" width="3.6" height="3.6" fill="#000"/>
<text x="479.2" y="591" font-size="11.7" text-anchor="end" fill="#1c1c1c" >BimS</text>
<rect x="388.1" y="681.4" width="95.4" height="95.6" fill="none" stroke="#8c8c8c" stroke-width="1"/>
<line x1="388.1" y1="681.1" x2="388.1" y2="777" stroke="#262626" stroke-width="1" />
<line x1="388.1" y1="777" x2="483.5" y2="777" stroke="#262626" stroke-width="1" />
<path d="M424.55,777v3.4M428.84,777v3.4M431.89,777v3.4M434.25,777v3.4M436.19,777v3.4M437.82,777v3.4M439.24,777v3.4M440.48,777v3.4M448.95,777v3.4M453.24,777v3.4M456.29,777v3.4M458.65,777v3.4M460.59,777v3.4M462.22,777v3.4M463.64,777v3.4M464.88,777v3.4M473.35,777v3.4M477.64,777v3.4M480.69,777v3.4" stroke="#262626" stroke-width="0.8" fill="none"/>
<path d="M417.2,777v4.6M441.6,777v4.6M466,777v4.6M389.3,777v4.6" stroke="#262626" stroke-width="0.8" fill="none"/>
<path d="M390.5,777v3.4M391.9,777v3.4M393.3,777v3.4M394.7,777v3.4M396.1,777v3.4M397.5,777v3.4M398.9,777v3.4M400.3,777v3.4M401.6,777v3.4M407.8,777v3.4M409.1,777v3.4M410.3,777v3.4M411.4,777v3.4M412.4,777v3.4M413.3,777v3.4M414.2,777v3.4M415,777v3.4M415.8,777v3.4M416.5,777v3.4" stroke="#333" stroke-width="0.8" fill="none"/>
<rect x="402.9" y="777" width="3.6" height="3.6" fill="#000"/>
<text x="390.3" y="791.4" font-size="10.6" text-anchor="middle" fill="#1c1c1c" >-10<tspan font-size="6.2" dy="-3.8">4</tspan></text>
<text x="404.9" y="791.4" font-size="10.6" text-anchor="middle" fill="#1c1c1c" >0</text>
<text x="418.8" y="791.4" font-size="10.6" text-anchor="middle" fill="#1c1c1c" >10<tspan font-size="6.2" dy="-3.8">4</tspan></text>
<text x="443.2" y="791.4" font-size="10.6" text-anchor="middle" fill="#1c1c1c" >10<tspan font-size="6.2" dy="-3.8">5</tspan></text>
<text x="467.6" y="791.4" font-size="10.6" text-anchor="middle" fill="#1c1c1c" >10<tspan font-size="6.2" dy="-3.8">6</tspan></text>
<text x="479.2" y="695" font-size="11.7" text-anchor="end" fill="#1c1c1c" >RIPK3</text>
<text x="436.2" y="804.3" font-size="11.7" text-anchor="middle" fill="#1c1c1c" >CCR7-PE/Cy7</text>
<path d="M69.55,74.46 C69.84,72.16 70.51,68.11 71.42,65.97 C72.33,63.82 73.63,62.58 75.01,61.59 C76.38,60.6 78.08,59.89 79.68,60.01 C81.29,60.13 83.51,61.24 84.63,62.29 C85.75,63.34 86.02,64.63 86.39,66.3 C86.77,67.97 86.84,70.44 86.89,72.31 C86.94,74.18 87.01,75.68 86.69,77.54 C86.38,79.4 86.07,81.79 84.98,83.46 C83.89,85.14 81.87,87.02 80.15,87.62 C78.43,88.21 76.1,87.52 74.66,87.02 C73.22,86.51 72.36,85.77 71.53,84.56 C70.7,83.35 70.02,81.43 69.69,79.74 C69.36,78.06 69.26,76.76 69.55,74.46Z" fill="none" stroke="#262626" stroke-width="1.0"/>
<path d="M69.85,73.69 C70.07,71.68 70.6,68.37 71.48,66.46 C72.37,64.54 73.8,63.14 75.16,62.21 C76.53,61.28 78.24,60.86 79.66,60.88 C81.08,60.9 82.58,61.31 83.68,62.34 C84.78,63.37 85.76,65.48 86.24,67.05 C86.72,68.61 86.7,70.13 86.55,71.75 C86.4,73.36 85.86,75.17 85.36,76.73 C84.85,78.29 84.44,79.64 83.53,81.1 C82.62,82.55 81.24,84.73 79.9,85.45 C78.55,86.18 76.71,85.75 75.46,85.44 C74.21,85.13 73.28,84.76 72.4,83.6 C71.52,82.45 70.61,80.17 70.18,78.52 C69.76,76.86 69.63,75.7 69.85,73.69Z" fill="none" stroke="#3a3a3a" stroke-width="0.65"/>
<path d="M71.28,73.03 C71.53,71.15 71.85,67.92 72.46,66.21 C73.07,64.5 73.77,63.6 74.95,62.78 C76.13,61.96 78.26,61.25 79.54,61.28 C80.82,61.31 81.67,62 82.6,62.94 C83.54,63.88 84.78,65.57 85.16,66.9 C85.54,68.23 85.04,69.47 84.88,70.92 C84.72,72.36 84.51,74.13 84.22,75.59 C83.94,77.06 83.98,78.38 83.17,79.71 C82.36,81.04 80.72,82.87 79.36,83.55 C78.01,84.22 76.24,84.08 75.04,83.78 C73.85,83.47 72.86,82.74 72.18,81.69 C71.5,80.65 71.11,78.94 70.96,77.49 C70.81,76.05 71.03,74.91 71.28,73.03Z" fill="none" stroke="#3a3a3a" stroke-width="0.65"/>
<path d="M71.42,72.21 C71.54,70.6 72.3,68.1 72.95,66.65 C73.59,65.21 74.33,64.29 75.3,63.53 C76.27,62.78 77.59,62.1 78.77,62.13 C79.95,62.16 81.62,62.88 82.4,63.71 C83.19,64.55 83.24,66.01 83.5,67.14 C83.75,68.27 83.89,69.23 83.93,70.51 C83.97,71.79 84.08,73.53 83.76,74.8 C83.44,76.07 82.86,77 82.01,78.15 C81.16,79.3 79.81,81.1 78.68,81.69 C77.56,82.28 76.23,82.01 75.26,81.7 C74.29,81.4 73.38,80.73 72.88,79.83 C72.37,78.94 72.47,77.59 72.23,76.32 C71.99,75.05 71.3,73.82 71.42,72.21Z" fill="none" stroke="#3a3a3a" stroke-width="0.65"/>
<path d="M72.34,71.92 C72.45,70.45 72.38,67.69 72.96,66.38 C73.54,65.06 74.92,64.65 75.84,64.04 C76.76,63.43 77.53,62.68 78.48,62.74 C79.43,62.81 80.83,63.68 81.52,64.42 C82.2,65.16 82.29,66.18 82.59,67.17 C82.89,68.15 83.32,69.22 83.31,70.3 C83.3,71.38 82.91,72.5 82.54,73.65 C82.17,74.8 81.77,76.19 81.09,77.22 C80.41,78.24 79.41,79.36 78.47,79.8 C77.53,80.24 76.26,80.17 75.44,79.87 C74.61,79.58 74.03,78.8 73.51,78.03 C73,77.26 72.54,76.26 72.34,75.25 C72.15,74.23 72.24,73.4 72.34,71.92Z" fill="none" stroke="#3a3a3a" stroke-width="0.65"/>
<path d="M72.75,70.89 C72.88,69.69 73.21,68.01 73.72,66.91 C74.23,65.82 74.99,64.89 75.79,64.32 C76.59,63.75 77.74,63.47 78.5,63.52 C79.26,63.56 79.8,64.03 80.34,64.57 C80.88,65.11 81.48,65.9 81.74,66.76 C81.99,67.62 81.87,68.75 81.85,69.73 C81.84,70.72 81.87,71.7 81.65,72.68 C81.43,73.66 81.04,74.77 80.52,75.62 C80,76.48 79.32,77.45 78.53,77.8 C77.75,78.16 76.63,78.03 75.83,77.77 C75.04,77.5 74.24,76.82 73.76,76.21 C73.28,75.6 73.1,74.99 72.93,74.1 C72.76,73.21 72.62,72.09 72.75,70.89Z" fill="none" stroke="#3a3a3a" stroke-width="0.65"/>
<path d="M73.73,70.54 C73.76,69.6 73.67,67.84 74.03,66.94 C74.39,66.03 75.23,65.5 75.87,65.12 C76.51,64.73 77.25,64.58 77.87,64.61 C78.5,64.63 79.13,64.8 79.63,65.25 C80.13,65.69 80.62,66.55 80.86,67.25 C81.09,67.95 81.08,68.65 81.06,69.44 C81.05,70.24 80.97,71.26 80.75,72.01 C80.54,72.77 80.19,73.33 79.75,73.98 C79.31,74.63 78.76,75.6 78.11,75.92 C77.46,76.24 76.43,76.08 75.85,75.89 C75.26,75.69 74.91,75.31 74.58,74.76 C74.25,74.22 74.01,73.32 73.86,72.62 C73.72,71.91 73.7,71.49 73.73,70.54Z" fill="none" stroke="#3a3a3a" stroke-width="0.65"/>
<path d="M74.35,69.71 C74.39,68.97 74.33,67.73 74.63,67.07 C74.94,66.41 75.67,66.06 76.18,65.73 C76.69,65.4 77.19,65.09 77.68,65.1 C78.16,65.11 78.76,65.42 79.1,65.79 C79.44,66.16 79.62,66.76 79.73,67.29 C79.84,67.83 79.81,68.41 79.78,69 C79.74,69.59 79.63,70.29 79.51,70.85 C79.38,71.4 79.33,71.81 79.02,72.31 C78.71,72.8 78.16,73.54 77.67,73.81 C77.17,74.08 76.53,74.1 76.06,73.94 C75.59,73.79 75.12,73.28 74.85,72.87 C74.57,72.46 74.47,72.03 74.39,71.5 C74.3,70.97 74.31,70.45 74.35,69.71Z" fill="none" stroke="#3a3a3a" stroke-width="0.65"/>
<path d="M74.93,68.93 C74.99,68.44 75.19,67.65 75.39,67.21 C75.6,66.77 75.86,66.5 76.16,66.28 C76.47,66.06 76.89,65.9 77.22,65.9 C77.56,65.9 77.91,66.04 78.18,66.29 C78.44,66.53 78.68,67.01 78.81,67.37 C78.94,67.73 78.95,68.06 78.93,68.45 C78.92,68.85 78.82,69.34 78.7,69.75 C78.57,70.15 78.39,70.51 78.16,70.87 C77.94,71.24 77.66,71.75 77.34,71.93 C77.01,72.11 76.55,72.07 76.22,71.95 C75.89,71.84 75.55,71.54 75.36,71.24 C75.17,70.94 75.15,70.56 75.07,70.17 C75,69.79 74.88,69.42 74.93,68.93Z" fill="none" stroke="#3a3a3a" stroke-width="0.65"/>
<path d="M75.64,68.32 C75.66,68.04 75.75,67.57 75.86,67.32 C75.97,67.07 76.11,66.94 76.3,66.82 C76.48,66.7 76.79,66.6 76.98,66.59 C77.16,66.59 77.28,66.66 77.41,66.78 C77.54,66.91 77.71,67.11 77.78,67.32 C77.85,67.54 77.84,67.8 77.82,68.05 C77.8,68.29 77.75,68.58 77.68,68.79 C77.61,69.01 77.53,69.14 77.4,69.32 C77.28,69.49 77.09,69.75 76.91,69.84 C76.74,69.93 76.54,69.92 76.36,69.87 C76.18,69.82 75.96,69.69 75.86,69.55 C75.75,69.4 75.77,69.2 75.74,68.99 C75.7,68.79 75.62,68.6 75.64,68.32Z" fill="none" stroke="#3a3a3a" stroke-width="0.65"/>
<path d="M70.3,73 C70.3,68 72,65.5 73.8,65.5 L73.8,79 C72,79 70.3,77 70.3,73Z" fill="#222" fill-opacity="0.45"/>
<path d="M86.5,64 C89,59.5 95,57.5 101,57 C105.5,59 107,63.5 106,69.5 C104,72.5 100,74 96,75 C92,75 88,73 87.2,70 Z" fill="#E8792E" fill-opacity="0.1"/>
<path d="M85.83,64.38 C85.97,62.33 87.84,60.51 89.27,59.46 C90.7,58.41 92.37,58.49 94.43,58.09 C96.49,57.68 99.77,56.96 101.62,57.02 C103.46,57.09 104.78,57.44 105.51,58.47 C106.24,59.51 105.9,61.55 106.01,63.24 C106.12,64.94 106.74,67.02 106.17,68.64 C105.6,70.26 103.87,71.72 102.59,72.96 C101.3,74.21 99.06,74.33 98.47,76.08 C97.87,77.84 99.61,81.87 99,83.48 C98.38,85.09 96.4,85.7 94.75,85.73 C93.1,85.76 89.94,85.07 89.07,83.66 C88.19,82.24 89.61,79.22 89.5,77.23 C89.38,75.24 89.01,73.88 88.4,71.74 C87.79,69.59 85.69,66.43 85.83,64.38Z" fill="none" stroke="#E8792E" stroke-width="0.6"/>
<path d="M86.89,64.67 C87.03,62.98 87.72,61.9 89.07,60.85 C90.43,59.8 93.17,58.89 95.02,58.39 C96.87,57.89 98.7,57.75 100.19,57.82 C101.67,57.89 102.88,57.92 103.93,58.81 C104.98,59.7 106.23,61.57 106.49,63.19 C106.74,64.8 106.15,66.81 105.44,68.5 C104.72,70.19 103.25,72.02 102.2,73.3 C101.15,74.58 99.85,74.83 99.14,76.19 C98.43,77.56 98.87,80.32 97.93,81.5 C97,82.68 94.66,83.29 93.54,83.28 C92.42,83.27 91.65,82.44 91.22,81.45 C90.79,80.45 91.44,79.05 90.95,77.31 C90.45,75.57 88.92,73.12 88.24,71.02 C87.57,68.91 86.75,66.37 86.89,64.67Z" fill="none" stroke="#EC8845" stroke-width="0.6"/>
<path d="M88.44,64.03 C88.7,62.4 90.26,61.42 91.27,60.49 C92.27,59.56 92.96,58.62 94.47,58.45 C95.97,58.28 98.78,59.17 100.28,59.48 C101.78,59.78 102.73,59.47 103.47,60.26 C104.22,61.05 104.75,62.8 104.74,64.21 C104.74,65.62 104.09,67.44 103.44,68.72 C102.78,69.99 101.74,71.02 100.81,71.89 C99.88,72.76 98.44,72.6 97.86,73.93 C97.28,75.26 97.95,78.62 97.34,79.85 C96.72,81.08 95.24,81.38 94.18,81.3 C93.12,81.21 91.63,80.27 90.97,79.34 C90.31,78.41 90.4,77.24 90.2,75.73 C89.99,74.23 90.04,72.27 89.74,70.32 C89.45,68.37 88.19,65.67 88.44,64.03Z" fill="none" stroke="#EC8845" stroke-width="0.6"/>
<path d="M89.78,64.56 C89.95,63.13 90.87,62.54 91.77,61.88 C92.68,61.21 93.82,60.92 95.19,60.56 C96.57,60.19 98.73,59.62 100.03,59.67 C101.34,59.73 102.45,60.24 102.99,60.9 C103.54,61.56 103.27,62.52 103.32,63.63 C103.38,64.75 103.96,66.34 103.32,67.61 C102.69,68.87 100.32,70.28 99.5,71.21 C98.68,72.13 98.7,72.24 98.42,73.15 C98.14,74.06 98.51,75.73 97.82,76.65 C97.14,77.57 95.31,78.54 94.31,78.68 C93.3,78.82 92.36,78.34 91.8,77.49 C91.25,76.65 91.16,74.81 90.99,73.64 C90.81,72.46 90.95,71.94 90.75,70.43 C90.55,68.91 89.61,65.98 89.78,64.56Z" fill="none" stroke="#EC8845" stroke-width="0.6"/>
<path d="M90.82,64.4 C90.9,63.34 90.92,62.94 91.69,62.37 C92.46,61.79 94.35,61.33 95.45,60.95 C96.56,60.57 97.27,59.91 98.33,60.07 C99.4,60.23 101.11,61.19 101.85,61.89 C102.59,62.59 102.79,63.29 102.76,64.25 C102.73,65.22 102.15,66.78 101.66,67.68 C101.18,68.58 100.5,69.01 99.85,69.67 C99.2,70.33 98.16,70.79 97.76,71.64 C97.37,72.5 97.91,73.84 97.46,74.79 C97.01,75.73 95.97,77.1 95.06,77.31 C94.15,77.52 92.44,76.77 92,76.03 C91.56,75.29 92.56,74.09 92.43,72.88 C92.3,71.66 91.48,70.16 91.21,68.75 C90.94,67.33 90.74,65.46 90.82,64.4Z" fill="none" stroke="#EC8845" stroke-width="0.6"/>
<path d="M91.46,64.96 C91.72,63.93 92.48,62.72 93.1,62.08 C93.71,61.44 94.35,61.25 95.15,61.1 C95.95,60.96 97.07,60.96 97.9,61.2 C98.73,61.44 99.55,62.07 100.12,62.53 C100.68,62.99 101.2,63.21 101.3,63.95 C101.4,64.68 101.14,66.15 100.72,66.94 C100.31,67.74 99.41,68.16 98.81,68.72 C98.2,69.29 97.42,69.51 97.09,70.33 C96.76,71.15 97.15,72.99 96.82,73.63 C96.49,74.28 95.68,74.08 95.11,74.18 C94.54,74.29 93.7,74.73 93.39,74.26 C93.07,73.79 93.52,72.37 93.21,71.37 C92.91,70.36 91.85,69.31 91.55,68.25 C91.26,67.18 91.2,65.99 91.46,64.96Z" fill="none" stroke="#EC8845" stroke-width="0.6"/>
<path d="M92.24,64.83 C92.23,64.12 92.69,63.56 93.23,63.16 C93.76,62.76 94.72,62.66 95.46,62.42 C96.2,62.19 97.03,61.72 97.68,61.77 C98.33,61.81 98.93,62.26 99.36,62.69 C99.8,63.11 100.23,63.64 100.28,64.31 C100.32,64.97 99.92,66.09 99.63,66.67 C99.33,67.25 98.91,67.34 98.5,67.79 C98.09,68.24 97.43,68.68 97.16,69.36 C96.89,70.03 97.23,71.33 96.9,71.86 C96.56,72.4 95.65,72.56 95.14,72.58 C94.63,72.59 94.15,72.37 93.84,71.93 C93.54,71.49 93.42,70.69 93.33,69.94 C93.23,69.19 93.45,68.28 93.26,67.43 C93.08,66.58 92.25,65.54 92.24,64.83Z" fill="none" stroke="#EC8845" stroke-width="0.6"/>
<path d="M93.47,65 C93.49,64.39 93.66,63.67 94.01,63.37 C94.35,63.08 94.96,63.31 95.53,63.24 C96.09,63.16 96.92,62.93 97.41,62.92 C97.91,62.92 98.25,62.94 98.5,63.22 C98.74,63.49 98.88,64.11 98.89,64.59 C98.91,65.07 98.81,65.69 98.57,66.1 C98.34,66.5 97.83,66.71 97.49,67.04 C97.15,67.36 96.72,67.59 96.54,68.04 C96.35,68.49 96.53,69.33 96.38,69.72 C96.23,70.1 95.97,70.37 95.65,70.37 C95.33,70.37 94.67,70.07 94.44,69.73 C94.21,69.39 94.37,68.77 94.28,68.32 C94.18,67.87 94.02,67.59 93.89,67.03 C93.76,66.48 93.45,65.61 93.47,65Z" fill="none" stroke="#EC8845" stroke-width="0.6"/>
<path d="M94.45,64.84 C94.5,64.52 94.69,64.39 94.95,64.24 C95.2,64.09 95.66,64.02 95.97,63.96 C96.27,63.9 96.54,63.84 96.79,63.88 C97.04,63.92 97.32,64.05 97.48,64.21 C97.63,64.37 97.72,64.56 97.71,64.83 C97.7,65.1 97.56,65.55 97.42,65.8 C97.28,66.05 97.01,66.12 96.87,66.31 C96.72,66.5 96.62,66.73 96.55,66.94 C96.48,67.15 96.6,67.37 96.45,67.55 C96.3,67.73 95.87,67.99 95.64,68.02 C95.41,68.05 95.17,67.94 95.07,67.74 C94.97,67.54 95.11,67.08 95.04,66.82 C94.97,66.56 94.76,66.51 94.67,66.18 C94.57,65.85 94.4,65.17 94.45,64.84Z" fill="none" stroke="#EC8845" stroke-width="0.6"/>
<path d="M92.46,62.14 C93.45,61.48 95.4,61.75 96.52,62 C97.64,62.25 98.75,62.48 99.18,63.62 C99.62,64.76 99.78,67.58 99.15,68.85 C98.52,70.11 96.59,71.24 95.39,71.23 C94.19,71.23 92.76,69.7 91.96,68.82 C91.16,67.94 90.52,67.05 90.6,65.93 C90.68,64.82 91.47,62.8 92.46,62.14Z" fill="none" stroke="#d9661c" stroke-width="0.9"/>
<path d="M93.42,64.5 C94.01,64.08 95.52,63.34 96.24,63.45 C96.95,63.56 97.58,64.44 97.73,65.15 C97.88,65.86 97.56,67.03 97.13,67.73 C96.71,68.43 95.84,69.29 95.2,69.35 C94.55,69.4 93.69,68.61 93.29,68.05 C92.88,67.49 92.72,66.57 92.74,65.98 C92.76,65.38 92.84,64.92 93.42,64.5Z" fill="none" stroke="#d9661c" stroke-width="0.9"/>
<path d="M94.66,66.03 C94.8,65.96 95.07,65.92 95.21,65.95 C95.35,65.99 95.46,66.09 95.52,66.23 C95.57,66.38 95.63,66.67 95.53,66.82 C95.44,66.97 95.11,67.15 94.96,67.14 C94.8,67.13 94.69,66.89 94.6,66.76 C94.51,66.64 94.4,66.51 94.41,66.38 C94.42,66.26 94.53,66.1 94.66,66.03Z" fill="none" stroke="#d9661c" stroke-width="0.9"/>
<path d="M80.42,65.45 C81.7,64.3 84.95,63.67 86.39,64.08 C87.84,64.5 88.82,66.17 89.09,67.92 C89.36,69.68 89.26,73.29 88.03,74.63 C86.8,75.97 83.24,76.56 81.69,75.94 C80.14,75.33 78.93,72.7 78.72,70.96 C78.51,69.21 79.15,66.59 80.42,65.45Z" fill="none" stroke="#E58A4A" stroke-width="0.6"/>
<path d="M83.46,69.35 C83.6,69.22 84.08,69.26 84.27,69.33 C84.45,69.4 84.57,69.59 84.6,69.79 C84.63,69.99 84.6,70.39 84.46,70.55 C84.33,70.7 83.97,70.8 83.79,70.73 C83.62,70.66 83.47,70.36 83.42,70.13 C83.36,69.9 83.32,69.48 83.46,69.35Z" fill="none" stroke="#E58A4A" stroke-width="0.6"/>
<circle cx="92.4" cy="87" r="0.8" fill="#333"/>
<path d="M74,169 C74.62,167.83 75.83,166.62 77,166 C78.17,165.38 79.67,165.22 81,165.3 C82.33,165.38 83.87,165.72 85,166.5 C86.13,167.28 87.38,168.58 87.8,170 C88.22,171.42 87.88,173.5 87.5,175 C87.12,176.5 86.42,178.17 85.5,179 C84.58,179.83 83.42,179.92 82,180 C80.58,180.08 78.33,180 77,179.5 C75.67,179 74.62,178.08 74,177 C73.38,175.92 73.3,174.33 73.3,173 C73.3,171.67 73.38,170.17 74,169Z" fill="#000" fill-opacity="0.03" stroke="none"/>
<path d="M73.51,168.61 C74.16,167.5 75.71,166.8 76.89,166.18 C78.08,165.57 79.33,164.82 80.64,164.91 C81.95,165.01 83.6,165.87 84.73,166.76 C85.87,167.65 86.96,168.93 87.45,170.24 C87.94,171.55 87.98,173.19 87.66,174.64 C87.34,176.09 86.49,177.97 85.54,178.95 C84.58,179.92 83.4,180.48 81.91,180.5 C80.42,180.51 77.84,179.62 76.59,179.02 C75.35,178.42 75.04,177.93 74.44,176.9 C73.84,175.87 73.15,174.21 73,172.83 C72.84,171.45 72.86,169.72 73.51,168.61Z" fill="none" stroke="#222" stroke-width="1.5"/>
<path d="M74.79,169.88 C75.26,168.88 76.21,167.26 77.24,166.67 C78.28,166.08 79.75,166.19 81,166.35 C82.26,166.51 83.82,167.01 84.76,167.63 C85.7,168.26 86.31,168.86 86.65,170.1 C87,171.34 87.19,173.7 86.81,175.07 C86.43,176.44 85.18,177.62 84.4,178.29 C83.61,178.96 83.3,179 82.11,179.08 C80.92,179.16 78.41,179.27 77.25,178.78 C76.08,178.28 75.58,177.12 75.11,176.11 C74.64,175.09 74.48,173.73 74.43,172.69 C74.38,171.65 74.33,170.89 74.79,169.88Z" fill="none" stroke="#444" stroke-width="0.7"/>
<path d="M75.49,169.86 C75.96,169.02 76.95,168.13 77.86,167.75 C78.77,167.36 79.93,167.43 80.97,167.56 C82,167.69 83.21,167.96 84.07,168.52 C84.93,169.08 85.89,169.98 86.11,170.91 C86.33,171.83 85.72,173.02 85.4,174.07 C85.08,175.12 84.8,176.62 84.19,177.21 C83.57,177.8 82.78,177.5 81.71,177.61 C80.63,177.71 78.73,178.13 77.76,177.84 C76.79,177.56 76.35,176.72 75.89,175.88 C75.44,175.04 75.09,173.79 75.02,172.79 C74.96,171.78 75.02,170.7 75.49,169.86Z" fill="none" stroke="#444" stroke-width="0.7"/>
<path d="M76.97,170.56 C77.39,169.86 78.12,168.9 78.76,168.55 C79.39,168.21 80.04,168.39 80.76,168.5 C81.48,168.6 82.41,168.8 83.08,169.19 C83.75,169.58 84.56,169.99 84.77,170.83 C84.98,171.67 84.59,173.35 84.33,174.23 C84.06,175.11 83.69,175.64 83.18,176.09 C82.67,176.55 82.03,176.9 81.27,176.97 C80.52,177.05 79.43,176.83 78.68,176.55 C77.92,176.26 77.14,175.92 76.73,175.28 C76.32,174.64 76.16,173.5 76.2,172.72 C76.24,171.93 76.54,171.25 76.97,170.56Z" fill="none" stroke="#444" stroke-width="0.7"/>
<path d="M77.69,171.02 C77.96,170.47 78.28,169.73 78.76,169.47 C79.24,169.2 79.93,169.33 80.56,169.43 C81.2,169.53 82.02,169.76 82.56,170.07 C83.11,170.38 83.64,170.67 83.83,171.29 C84.02,171.92 83.9,173.17 83.7,173.81 C83.5,174.46 83.07,174.83 82.63,175.14 C82.2,175.46 81.74,175.67 81.11,175.7 C80.47,175.74 79.42,175.56 78.82,175.38 C78.21,175.2 77.76,175.08 77.47,174.64 C77.19,174.21 77.1,173.37 77.13,172.77 C77.17,172.17 77.42,171.57 77.69,171.02Z" fill="none" stroke="#444" stroke-width="0.7"/>
<path d="M78.46,171.36 C78.65,170.99 79.2,170.66 79.55,170.49 C79.9,170.32 80.16,170.29 80.56,170.33 C80.95,170.36 81.53,170.47 81.91,170.71 C82.28,170.94 82.68,171.29 82.8,171.72 C82.91,172.16 82.74,172.85 82.61,173.32 C82.47,173.78 82.27,174.29 81.99,174.52 C81.71,174.74 81.38,174.61 80.94,174.64 C80.5,174.67 79.72,174.79 79.34,174.68 C78.95,174.58 78.78,174.32 78.62,173.98 C78.47,173.65 78.42,173.11 78.4,172.67 C78.37,172.24 78.27,171.72 78.46,171.36Z" fill="none" stroke="#444" stroke-width="0.7"/>
<path d="M73,180 C74.25,179.17 76.33,178.25 78,178 C79.67,177.75 81.7,177.83 83,178.5 C84.3,179.17 85.38,180.67 85.8,182 C86.22,183.33 85.97,185 85.5,186.5 C85.03,188 84.25,189.85 83,191 C81.75,192.15 79.75,193.23 78,193.4 C76.25,193.57 73.87,192.98 72.5,192 C71.13,191.02 70.13,189 69.8,187.5 C69.47,186 69.97,184.25 70.5,183 C71.03,181.75 71.75,180.83 73,180Z" fill="#000" fill-opacity="0.05" stroke="none"/>
<path d="M72.88,179.73 C74.05,178.95 75.97,178.59 77.67,178.41 C79.37,178.24 81.71,178.11 83.08,178.69 C84.44,179.27 85.41,180.57 85.85,181.88 C86.3,183.2 86.16,185.03 85.73,186.58 C85.3,188.12 84.51,190.03 83.28,191.16 C82.05,192.29 80.19,193.26 78.34,193.34 C76.48,193.42 73.54,192.68 72.16,191.65 C70.77,190.62 70.27,188.59 70.02,187.17 C69.77,185.75 70.18,184.36 70.65,183.12 C71.13,181.88 71.71,180.52 72.88,179.73Z" fill="none" stroke="#222" stroke-width="1.6"/>
<path d="M73.22,181.05 C74.28,180.32 75.97,179.68 77.53,179.38 C79.09,179.09 81.34,178.7 82.56,179.25 C83.79,179.81 84.63,181.51 84.89,182.73 C85.15,183.96 84.6,185.25 84.11,186.58 C83.62,187.91 82.94,189.65 81.94,190.69 C80.94,191.73 79.62,192.77 78.1,192.83 C76.57,192.89 73.97,191.95 72.78,191.04 C71.59,190.14 71.2,188.61 70.93,187.39 C70.66,186.18 70.78,184.79 71.16,183.74 C71.54,182.68 72.16,181.77 73.22,181.05Z" fill="none" stroke="#3a3a3a" stroke-width="0.75"/>
<path d="M74.45,181.45 C75.37,180.92 76.44,180.4 77.61,180.26 C78.78,180.12 80.47,180.16 81.47,180.62 C82.46,181.08 83.32,182.08 83.58,182.99 C83.84,183.9 83.36,184.96 83.02,186.1 C82.67,187.24 82.37,188.92 81.5,189.83 C80.64,190.75 79.09,191.47 77.81,191.61 C76.54,191.75 74.84,191.45 73.86,190.68 C72.89,189.91 72.26,188.17 71.97,186.97 C71.67,185.77 71.69,184.4 72.1,183.48 C72.52,182.56 73.54,181.99 74.45,181.45Z" fill="none" stroke="#3a3a3a" stroke-width="0.75"/>
<path d="M74.52,182.62 C75.32,182.15 77.02,181.52 78.02,181.35 C79.03,181.18 79.86,181.18 80.57,181.6 C81.27,182.01 81.95,183.02 82.26,183.83 C82.56,184.64 82.63,185.6 82.39,186.45 C82.16,187.3 81.6,188.24 80.87,188.95 C80.13,189.66 79.1,190.62 78.01,190.72 C76.92,190.82 75.18,190.18 74.35,189.56 C73.51,188.94 73.2,187.91 73.02,187.01 C72.84,186.11 73,184.9 73.25,184.17 C73.5,183.44 73.73,183.09 74.52,182.62Z" fill="none" stroke="#3a3a3a" stroke-width="0.75"/>
<path d="M75.62,183.1 C76.2,182.72 76.87,182.42 77.6,182.35 C78.32,182.29 79.35,182.36 79.96,182.69 C80.58,183.02 81.09,183.71 81.29,184.33 C81.49,184.95 81.36,185.73 81.18,186.41 C80.99,187.1 80.78,187.96 80.18,188.44 C79.59,188.92 78.47,189.26 77.6,189.3 C76.73,189.33 75.55,189.12 74.95,188.65 C74.35,188.18 74.12,187.17 73.98,186.5 C73.84,185.83 73.84,185.2 74.11,184.63 C74.38,184.06 75.04,183.48 75.62,183.1Z" fill="none" stroke="#3a3a3a" stroke-width="0.75"/>
<path d="M75.89,183.94 C76.28,183.69 77.02,183.44 77.58,183.39 C78.13,183.35 78.75,183.44 79.21,183.67 C79.66,183.89 80.14,184.32 80.3,184.74 C80.46,185.15 80.32,185.66 80.18,186.17 C80.05,186.68 79.89,187.44 79.49,187.8 C79.09,188.16 78.38,188.25 77.77,188.31 C77.17,188.37 76.33,188.45 75.86,188.15 C75.4,187.85 75.09,187.05 74.98,186.5 C74.87,185.96 75.07,185.32 75.22,184.89 C75.37,184.47 75.49,184.19 75.89,183.94Z" fill="none" stroke="#3a3a3a" stroke-width="0.75"/>
<path d="M76.65,184.86 C76.87,184.68 77.19,184.47 77.51,184.4 C77.84,184.34 78.34,184.32 78.62,184.47 C78.9,184.62 79.1,185.02 79.2,185.28 C79.29,185.55 79.29,185.76 79.18,186.06 C79.07,186.36 78.79,186.82 78.53,187.07 C78.27,187.32 77.95,187.53 77.62,187.55 C77.3,187.56 76.85,187.37 76.57,187.16 C76.3,186.94 76.05,186.55 75.98,186.26 C75.91,185.97 76.05,185.67 76.16,185.44 C76.27,185.2 76.42,185.03 76.65,184.86Z" fill="none" stroke="#3a3a3a" stroke-width="0.75"/>
<path d="M73.77,167.99 C74.56,166.66 76.12,165.48 77.58,164.84 C79.05,164.19 81.04,163.9 82.57,164.11 C84.11,164.32 85.81,165.01 86.78,166.12 C87.76,167.22 88.29,169.08 88.41,170.74 C88.54,172.41 87.92,174.53 87.54,176.12 C87.16,177.72 86.25,178.7 86.14,180.3 C86.02,181.89 87.13,183.81 86.84,185.71 C86.54,187.61 85.89,190.32 84.35,191.72 C82.8,193.12 79.6,193.82 77.57,194.11 C75.55,194.39 73.68,194.48 72.2,193.42 C70.72,192.36 69.08,189.58 68.67,187.75 C68.27,185.93 69.2,184.16 69.78,182.46 C70.35,180.77 71.58,179.2 72.09,177.59 C72.61,175.98 72.57,174.42 72.85,172.82 C73.13,171.22 72.98,169.32 73.77,167.99Z" fill="none" stroke="#222" stroke-width="1.3"/>
<path d="M98.3,160.2 C99.47,160.28 101.05,160.87 102,162 C102.95,163.13 103.53,165.33 104,167 C104.47,168.67 104.22,170.5 104.8,172 C105.38,173.5 106.97,174.73 107.5,176 C108.03,177.27 108.58,178.77 108,179.6 C107.42,180.43 105.33,180.27 104,181 C102.67,181.73 101.37,183.38 100,184 C98.63,184.62 97.47,184.87 95.8,184.7 C94.13,184.53 91.8,183.7 90,183 C88.2,182.3 86.12,181.67 85,180.5 C83.88,179.33 83.3,177.33 83.3,176 C83.3,174.67 83.97,173.33 85,172.5 C86.03,171.67 88.33,172.08 89.5,171 C90.67,169.92 91.08,167.58 92,166 C92.92,164.42 93.95,162.47 95,161.5 C96.05,160.53 97.13,160.12 98.3,160.2Z" fill="#E8792E" fill-opacity="0.05" stroke="none"/>
<path d="M97.79,160.2 C98.86,160.28 100.38,161.49 101.32,162.64 C102.27,163.79 102.74,165.58 103.46,167.1 C104.18,168.63 104.82,170.24 105.65,171.79 C106.48,173.35 108.03,175.12 108.44,176.46 C108.84,177.81 108.81,179.15 108.1,179.86 C107.39,180.57 105.36,180.06 104.17,180.72 C102.99,181.38 102.23,183.03 100.99,183.81 C99.76,184.59 98.76,185.62 96.77,185.41 C94.78,185.19 91.03,183.23 89.06,182.52 C87.09,181.8 86.02,182.18 84.96,181.13 C83.89,180.08 82.69,177.57 82.66,176.23 C82.62,174.89 83.45,173.86 84.73,173.07 C86.02,172.29 89.24,172.62 90.35,171.52 C91.46,170.43 90.63,168.08 91.39,166.52 C92.14,164.96 93.81,163.23 94.88,162.17 C95.94,161.12 96.71,160.13 97.79,160.2Z" fill="none" stroke="#E8792E" stroke-width="0.6"/>
<path d="M98.1,162.22 C99.27,162.39 101.36,162.69 102.32,163.68 C103.27,164.66 103.51,166.83 103.81,168.12 C104.11,169.41 103.54,170.19 104.11,171.42 C104.67,172.65 106.91,174.29 107.21,175.5 C107.51,176.7 106.62,177.98 105.93,178.65 C105.24,179.31 103.99,178.92 103.08,179.48 C102.17,180.03 101.56,181.34 100.49,181.99 C99.42,182.64 98.37,183.47 96.65,183.39 C94.94,183.32 91.93,182.29 90.2,181.54 C88.46,180.79 87.05,179.84 86.23,178.88 C85.41,177.93 85.12,176.81 85.28,175.83 C85.43,174.85 86.25,173.67 87.18,173.03 C88.1,172.39 89.81,173.01 90.83,171.99 C91.86,170.98 92.58,168.47 93.32,166.92 C94.06,165.37 94.49,163.48 95.29,162.7 C96.09,161.91 96.93,162.06 98.1,162.22Z" fill="none" stroke="#EC8845" stroke-width="0.6"/>
<path d="M98.5,163.46 C99.51,163.49 100.88,163.98 101.42,164.73 C101.95,165.48 101.55,166.74 101.72,167.98 C101.89,169.21 101.84,170.93 102.44,172.13 C103.04,173.34 104.7,174.32 105.31,175.21 C105.93,176.11 106.55,176.84 106.14,177.5 C105.72,178.16 104.02,178.39 102.82,179.15 C101.61,179.92 100.13,181.66 98.89,182.11 C97.65,182.56 96.58,182.08 95.37,181.85 C94.15,181.62 92.76,181.25 91.6,180.73 C90.43,180.21 89.17,179.7 88.39,178.71 C87.61,177.72 87.05,175.94 86.92,174.8 C86.79,173.65 86.87,172.46 87.61,171.84 C88.35,171.22 90.38,171.95 91.37,171.1 C92.36,170.24 92.87,167.81 93.54,166.72 C94.21,165.62 94.56,165.07 95.38,164.53 C96.21,163.98 97.5,163.43 98.5,163.46Z" fill="none" stroke="#EC8845" stroke-width="0.6"/>
<path d="M97.22,164.31 C98.15,164.5 99.83,164.88 100.59,165.6 C101.35,166.33 101.39,167.63 101.77,168.65 C102.14,169.67 102.42,170.67 102.84,171.71 C103.27,172.75 104,174.01 104.31,174.91 C104.61,175.8 105.22,176.48 104.68,177.06 C104.13,177.64 102.04,177.84 101.04,178.4 C100.05,178.96 99.41,180 98.71,180.42 C98.02,180.83 97.94,180.97 96.85,180.88 C95.76,180.78 93.52,180.42 92.18,179.85 C90.84,179.28 89.52,178.28 88.81,177.45 C88.1,176.63 87.85,175.73 87.92,174.89 C87.98,174.04 88.55,172.94 89.21,172.41 C89.87,171.87 91.15,172.37 91.85,171.66 C92.55,170.94 92.89,169.32 93.41,168.12 C93.94,166.93 94.36,165.11 95,164.47 C95.63,163.83 96.28,164.12 97.22,164.31Z" fill="none" stroke="#EC8845" stroke-width="0.6"/>
<path d="M98.14,165.07 C98.7,165.02 99.19,165.24 99.7,165.9 C100.22,166.56 101.02,168.03 101.22,169.01 C101.41,169.98 100.51,170.83 100.86,171.75 C101.22,172.67 103.07,173.69 103.36,174.53 C103.65,175.36 103.09,176.35 102.6,176.76 C102.12,177.18 101.09,176.64 100.44,177.02 C99.79,177.4 99.47,178.63 98.72,179.04 C97.97,179.45 96.91,179.58 95.93,179.48 C94.94,179.37 93.69,178.86 92.83,178.43 C91.97,177.99 91.43,177.53 90.76,176.86 C90.08,176.19 88.86,175.15 88.77,174.43 C88.68,173.71 89.48,173.11 90.21,172.54 C90.93,171.97 92.44,171.62 93.12,171 C93.8,170.38 93.74,169.59 94.28,168.8 C94.82,168.01 95.71,166.87 96.36,166.25 C97,165.63 97.58,165.13 98.14,165.07Z" fill="none" stroke="#EC8845" stroke-width="0.6"/>
<path d="M97.69,166.93 C98.09,167.07 98.52,167.33 98.94,167.82 C99.37,168.31 100.01,169.17 100.22,169.87 C100.43,170.57 99.96,171.41 100.2,172.02 C100.44,172.63 101.29,172.92 101.64,173.54 C102,174.15 102.6,175.38 102.35,175.73 C102.09,176.09 100.71,175.45 100.11,175.67 C99.52,175.89 99.39,176.7 98.79,177.06 C98.18,177.41 97.24,177.77 96.47,177.77 C95.7,177.78 94.97,177.41 94.17,177.09 C93.37,176.77 92.18,176.34 91.69,175.84 C91.21,175.34 91.3,174.65 91.27,174.09 C91.23,173.53 91.01,172.92 91.47,172.49 C91.93,172.07 93.54,172.13 94.03,171.54 C94.51,170.94 93.96,169.66 94.38,168.91 C94.79,168.16 95.97,167.34 96.52,167.01 C97.07,166.68 97.28,166.8 97.69,166.93Z" fill="none" stroke="#EC8845" stroke-width="0.6"/>
<path d="M97.65,167.78 C98.06,167.81 98.19,168 98.51,168.37 C98.84,168.74 99.41,169.38 99.59,170.02 C99.78,170.66 99.47,171.71 99.63,172.21 C99.8,172.71 100.46,172.59 100.59,173.03 C100.72,173.46 100.64,174.52 100.41,174.81 C100.19,175.1 99.64,174.53 99.24,174.78 C98.85,175.02 98.5,176.06 98.04,176.27 C97.57,176.49 97.06,176.16 96.46,176.07 C95.85,175.98 94.96,175.97 94.41,175.72 C93.85,175.48 93.42,174.98 93.11,174.61 C92.8,174.23 92.54,173.9 92.52,173.48 C92.49,173.06 92.69,172.39 92.96,172.09 C93.23,171.79 93.75,172 94.13,171.66 C94.51,171.33 94.92,170.66 95.24,170.08 C95.55,169.51 95.62,168.59 96.02,168.2 C96.42,167.82 97.23,167.75 97.65,167.78Z" fill="none" stroke="#EC8845" stroke-width="0.6"/>
<path d="M97.08,169.28 C97.34,169.28 97.7,169.47 97.95,169.72 C98.2,169.96 98.46,170.36 98.58,170.77 C98.7,171.19 98.51,171.87 98.65,172.19 C98.79,172.52 99.25,172.46 99.41,172.74 C99.56,173.02 99.7,173.62 99.57,173.87 C99.43,174.12 98.89,174.09 98.6,174.25 C98.32,174.41 98.2,174.74 97.85,174.84 C97.5,174.95 96.91,174.95 96.51,174.88 C96.1,174.8 95.77,174.52 95.39,174.38 C95.02,174.24 94.48,174.26 94.24,174.03 C94,173.81 93.95,173.37 93.97,173.04 C93.98,172.7 94.13,172.23 94.35,172.02 C94.58,171.81 95.06,172.03 95.33,171.77 C95.6,171.51 95.79,170.79 95.97,170.45 C96.15,170.1 96.21,169.88 96.39,169.68 C96.58,169.49 96.82,169.27 97.08,169.28Z" fill="none" stroke="#EC8845" stroke-width="0.6"/>
<path d="M97.21,170.52 C97.35,170.53 97.55,170.72 97.66,170.87 C97.78,171.01 97.85,171.21 97.88,171.39 C97.9,171.57 97.75,171.74 97.83,171.94 C97.9,172.13 98.26,172.44 98.32,172.58 C98.39,172.73 98.33,172.7 98.24,172.8 C98.15,172.9 97.96,173.06 97.8,173.19 C97.65,173.31 97.44,173.47 97.29,173.54 C97.15,173.61 97.09,173.64 96.92,173.61 C96.76,173.58 96.52,173.46 96.28,173.36 C96.04,173.26 95.65,173.14 95.49,173 C95.33,172.86 95.33,172.67 95.33,172.52 C95.34,172.37 95.42,172.23 95.52,172.12 C95.63,172 95.85,171.97 95.99,171.81 C96.12,171.66 96.19,171.36 96.33,171.2 C96.47,171.04 96.67,170.94 96.82,170.83 C96.97,170.72 97.07,170.51 97.21,170.52Z" fill="none" stroke="#EC8845" stroke-width="0.6"/>
<path d="M92.48,165.55 C94.07,163.58 97.4,163.43 99.23,163.98 C101.05,164.54 102.91,166.96 103.44,168.91 C103.97,170.85 103.58,173.99 102.42,175.66 C101.26,177.33 98.62,178.88 96.49,178.91 C94.37,178.94 90.35,178.07 89.68,175.85 C89.01,173.62 90.89,167.53 92.48,165.55Z" fill="none" stroke="#dd6a22" stroke-width="0.8"/>
<path d="M96.42,171.22 C96.59,170.97 97.02,170.92 97.23,170.98 C97.44,171.04 97.61,171.36 97.67,171.6 C97.73,171.85 97.69,172.25 97.57,172.45 C97.44,172.66 97.14,172.82 96.91,172.83 C96.69,172.84 96.29,172.8 96.2,172.53 C96.12,172.26 96.25,171.48 96.42,171.22Z" fill="none" stroke="#dd6a22" stroke-width="0.8"/>
<path d="M408.99,75.06 C408.51,73.98 411.01,69.55 412.31,67.82 C413.61,66.09 414.87,65.47 416.82,64.69 C418.77,63.92 421.64,63.22 423.99,63.16 C426.33,63.1 428.96,63.5 430.91,64.33 C432.85,65.16 434.54,66.49 435.67,68.13 C436.8,69.77 438.12,72.9 437.69,74.19 C437.27,75.47 435.43,75.93 433.13,75.84 C430.84,75.75 426.92,73.9 423.93,73.64 C420.95,73.39 417.72,74.06 415.23,74.3 C412.74,74.53 409.48,76.14 408.99,75.06Z" fill="none" stroke="#333" stroke-width="0.6"/>
<path d="M411.43,74.38 C411.02,73.63 412.76,70.21 413.87,68.78 C414.98,67.35 416.46,66.54 418.09,65.81 C419.73,65.08 421.82,64.45 423.7,64.38 C425.58,64.32 427.8,64.79 429.37,65.41 C430.94,66.03 432.37,66.82 433.13,68.1 C433.88,69.39 434.34,71.99 433.89,73.09 C433.43,74.19 432.08,74.62 430.41,74.71 C428.74,74.79 426.23,73.84 423.88,73.6 C421.53,73.36 418.41,73.16 416.34,73.29 C414.26,73.42 411.84,75.14 411.43,74.38Z" fill="none" stroke="#333" stroke-width="0.6"/>
<path d="M414.11,72.74 C413.81,72.11 415,69.93 415.83,68.87 C416.66,67.82 417.84,66.91 419.07,66.42 C420.3,65.93 421.81,65.92 423.19,65.93 C424.57,65.94 426.15,66.04 427.34,66.48 C428.53,66.92 429.68,67.56 430.34,68.56 C430.99,69.56 431.57,71.66 431.29,72.49 C431.02,73.32 429.98,73.57 428.68,73.54 C427.37,73.52 425.32,72.47 423.47,72.32 C421.63,72.17 419.18,72.55 417.62,72.62 C416.06,72.69 414.41,73.36 414.11,72.74Z" fill="none" stroke="#333" stroke-width="0.6"/>
<path d="M416.97,71.86 C416.78,71.48 417.58,70.05 418.11,69.38 C418.63,68.7 419.36,68.1 420.14,67.79 C420.92,67.47 421.86,67.45 422.78,67.47 C423.7,67.49 424.9,67.63 425.68,67.92 C426.47,68.22 427.05,68.65 427.47,69.24 C427.89,69.84 428.41,70.95 428.22,71.5 C428.02,72.04 427.18,72.53 426.28,72.54 C425.38,72.55 424.01,71.7 422.83,71.56 C421.65,71.42 420.17,71.65 419.19,71.7 C418.22,71.75 417.15,72.25 416.97,71.86Z" fill="none" stroke="#333" stroke-width="0.6"/>
<path d="M408,80 C408.88,78.58 411,76.33 413,75.5 C415,74.67 417.5,75 420,75 C422.5,75 425.67,75.17 428,75.5 C430.33,75.83 432.83,76.08 434,77 C435.17,77.92 435.17,79.5 435,81 C434.83,82.5 433.83,84.5 433,86 C432.17,87.5 431.5,89.18 430,90 C428.5,90.82 426.33,90.9 424,90.9 C421.67,90.9 418.33,90.57 416,90 C413.67,89.43 411.38,88.5 410,87.5 C408.62,86.5 408.03,85.25 407.7,84 C407.37,82.75 407.12,81.42 408,80Z" fill="#000" fill-opacity="0.04" stroke="none"/>
<path d="M407.82,80.12 C408.56,78.79 410.43,76.75 412.51,75.98 C414.59,75.21 417.78,75.63 420.32,75.5 C422.86,75.37 425.56,75 427.76,75.2 C429.97,75.4 432.43,75.7 433.55,76.69 C434.68,77.69 434.64,79.59 434.52,81.19 C434.41,82.8 433.58,84.87 432.87,86.32 C432.16,87.76 431.79,89.11 430.26,89.85 C428.73,90.59 426.12,90.7 423.67,90.75 C421.21,90.8 417.86,90.75 415.53,90.15 C413.2,89.55 410.93,88.18 409.69,87.15 C408.45,86.11 408.4,85.11 408.09,83.94 C407.78,82.77 407.09,81.45 407.82,80.12Z" fill="none" stroke="#1a1a1a" stroke-width="1.8"/>
<path d="M410.06,80.76 C410.89,79.5 412.52,77.09 414.12,76.26 C415.73,75.44 417.54,75.79 419.7,75.83 C421.86,75.87 425.06,76.24 427.08,76.49 C429.11,76.74 430.92,76.58 431.87,77.35 C432.81,78.13 432.95,79.79 432.77,81.12 C432.6,82.44 431.53,84 430.81,85.29 C430.08,86.59 429.65,88.13 428.42,88.88 C427.19,89.63 425.36,89.8 423.43,89.78 C421.51,89.76 418.92,89.3 416.86,88.77 C414.8,88.25 412.33,87.45 411.05,86.63 C409.77,85.81 409.34,84.83 409.18,83.86 C409.01,82.88 409.24,82.03 410.06,80.76Z" fill="none" stroke="#444" stroke-width="0.7"/>
<path d="M411.34,80.57 C411.96,79.57 413.21,78.2 414.67,77.64 C416.13,77.08 418.22,77.18 420.09,77.19 C421.96,77.2 424.3,77.53 425.91,77.72 C427.52,77.9 428.93,77.67 429.75,78.32 C430.56,78.96 430.84,80.45 430.78,81.56 C430.72,82.68 429.98,84 429.36,85.02 C428.74,86.05 428.1,87.07 427.06,87.72 C426.03,88.36 424.81,88.87 423.15,88.9 C421.49,88.92 418.89,88.33 417.12,87.88 C415.35,87.42 413.56,86.87 412.53,86.17 C411.5,85.47 411.13,84.6 410.94,83.67 C410.74,82.74 410.72,81.58 411.34,80.57Z" fill="none" stroke="#444" stroke-width="0.7"/>
<path d="M412.91,81.03 C413.42,80.17 414.97,78.83 416.15,78.33 C417.34,77.83 418.61,77.99 420.02,78.04 C421.43,78.1 423.28,78.4 424.63,78.65 C425.98,78.91 427.45,79.09 428.12,79.58 C428.78,80.07 428.73,80.78 428.65,81.6 C428.56,82.43 428.08,83.68 427.62,84.53 C427.17,85.38 426.83,86.26 425.9,86.73 C424.97,87.19 423.45,87.33 422.04,87.33 C420.63,87.32 418.72,87.01 417.43,86.7 C416.13,86.4 414.98,86.05 414.26,85.51 C413.54,84.97 413.33,84.22 413.1,83.47 C412.88,82.73 412.4,81.89 412.91,81.03Z" fill="none" stroke="#444" stroke-width="0.7"/>
<path d="M414.74,81.33 C415.15,80.72 416.06,79.68 416.91,79.33 C417.76,78.97 418.71,79.21 419.83,79.22 C420.94,79.22 422.5,79.19 423.58,79.34 C424.65,79.48 425.78,79.65 426.27,80.09 C426.76,80.54 426.64,81.35 426.52,81.99 C426.39,82.64 425.88,83.29 425.51,83.94 C425.14,84.59 424.96,85.46 424.32,85.88 C423.68,86.29 422.69,86.42 421.65,86.41 C420.61,86.39 419.08,86.04 418.07,85.78 C417.06,85.51 416.18,85.27 415.59,84.81 C414.99,84.35 414.62,83.59 414.48,83.01 C414.34,82.43 414.34,81.95 414.74,81.33Z" fill="none" stroke="#444" stroke-width="0.7"/>
<path d="M416.47,81.84 C416.73,81.42 417.34,80.79 417.92,80.52 C418.51,80.25 419.22,80.27 419.97,80.23 C420.71,80.2 421.68,80.21 422.4,80.29 C423.12,80.37 423.97,80.4 424.3,80.72 C424.63,81.03 424.44,81.72 424.37,82.17 C424.3,82.63 424.1,83.03 423.89,83.44 C423.68,83.86 423.57,84.42 423.12,84.66 C422.67,84.9 421.92,84.86 421.19,84.87 C420.45,84.89 419.38,84.91 418.69,84.74 C418.01,84.58 417.44,84.18 417.06,83.89 C416.68,83.6 416.49,83.34 416.39,82.99 C416.29,82.65 416.22,82.25 416.47,81.84Z" fill="none" stroke="#444" stroke-width="0.7"/>
<path d="M441,57 C442.25,56.1 444.17,55.6 446,55.6 C447.83,55.6 450.33,56.1 452,57 C453.67,57.9 455.05,59.33 456,61 C456.95,62.67 457.53,65 457.7,67 C457.87,69 457.62,71.17 457,73 C456.38,74.83 455.5,76.38 454,78 C452.5,79.62 450,82.03 448,82.7 C446,83.37 443.75,82.78 442,82 C440.25,81.22 438.45,79.67 437.5,78 C436.55,76.33 436.38,74 436.3,72 C436.22,70 436.63,67.83 437,66 C437.37,64.17 437.83,62.5 438.5,61 C439.17,59.5 439.75,57.9 441,57Z" fill="#E8792E" fill-opacity="0.05" stroke="none"/>
<path d="M441.02,56.87 C442.42,55.76 444.18,55.41 446.16,55.28 C448.15,55.14 451.32,54.97 452.94,56.05 C454.55,57.12 455.02,59.72 455.86,61.74 C456.7,63.75 457.91,66.33 458,68.14 C458.09,69.95 457.17,71.13 456.41,72.6 C455.65,74.07 455.05,75.28 453.45,76.97 C451.85,78.66 448.81,81.86 446.81,82.74 C444.81,83.61 442.77,82.78 441.43,82.22 C440.1,81.66 439.52,81.17 438.79,79.39 C438.07,77.6 437.43,73.57 437.08,71.53 C436.73,69.48 436.56,68.72 436.67,67.12 C436.79,65.51 437.03,63.61 437.75,61.91 C438.48,60.2 439.62,57.97 441.02,56.87Z" fill="none" stroke="#E8792E" stroke-width="0.6"/>
<path d="M441.19,58.14 C442.13,57.72 444.58,58 446.42,58.16 C448.25,58.33 450.8,58.56 452.19,59.11 C453.59,59.66 453.9,60.07 454.8,61.45 C455.7,62.83 457.31,65.7 457.61,67.38 C457.91,69.05 457.5,69.94 456.61,71.5 C455.73,73.07 453.81,75.27 452.3,76.77 C450.8,78.28 449.04,79.76 447.57,80.56 C446.11,81.35 445.09,82.33 443.5,81.56 C441.91,80.8 439.13,77.75 438.02,75.96 C436.92,74.17 436.73,72.49 436.87,70.83 C437,69.16 438.17,67.68 438.82,65.98 C439.48,64.28 440.4,61.93 440.79,60.63 C441.19,59.32 440.25,58.55 441.19,58.14Z" fill="none" stroke="#EC8845" stroke-width="0.6"/>
<path d="M442.73,58.73 C443.72,57.99 445.99,58.01 447.31,58.18 C448.63,58.34 449.35,59.14 450.66,59.71 C451.97,60.28 454.43,60.17 455.16,61.59 C455.9,63.01 455.12,66.62 455.09,68.21 C455.05,69.8 455.18,69.68 454.96,71.13 C454.73,72.57 454.9,75.59 453.73,76.89 C452.56,78.18 449.84,78.47 447.95,78.91 C446.06,79.36 443.64,79.97 442.4,79.56 C441.16,79.15 441.01,77.87 440.51,76.43 C440.01,74.99 439.64,72.53 439.4,70.91 C439.16,69.29 438.74,68.1 439.07,66.71 C439.39,65.33 440.73,63.92 441.34,62.59 C441.95,61.25 441.73,59.46 442.73,58.73Z" fill="none" stroke="#EC8845" stroke-width="0.6"/>
<path d="M443.5,60.59 C444.54,60.26 446.28,60.53 447.43,60.71 C448.58,60.89 449.31,61.23 450.42,61.66 C451.54,62.09 453.48,62.26 454.11,63.3 C454.74,64.33 454.17,66.44 454.2,67.84 C454.23,69.24 454.46,70.36 454.27,71.69 C454.09,73.01 454.07,74.71 453.11,75.77 C452.16,76.83 450.15,77.89 448.55,78.05 C446.95,78.21 444.66,77.36 443.52,76.75 C442.38,76.14 442.21,75.45 441.73,74.41 C441.26,73.36 440.91,71.68 440.67,70.48 C440.42,69.27 440.17,68.47 440.26,67.17 C440.35,65.87 440.64,63.77 441.18,62.67 C441.72,61.57 442.46,60.91 443.5,60.59Z" fill="none" stroke="#EC8845" stroke-width="0.6"/>
<path d="M445.08,61.9 C445.65,61.54 446.06,61.63 446.88,61.73 C447.7,61.83 449.11,62.03 450.01,62.52 C450.91,63.01 451.61,63.9 452.28,64.66 C452.95,65.41 453.91,65.89 454.05,67.05 C454.18,68.2 453.49,70.45 453.08,71.56 C452.66,72.67 452.49,72.99 451.57,73.71 C450.64,74.44 448.54,75.39 447.54,75.91 C446.54,76.43 446.42,77.13 445.56,76.83 C444.7,76.52 443.12,75.02 442.37,74.08 C441.63,73.13 441.11,72.26 441.09,71.16 C441.07,70.05 441.87,68.67 442.26,67.46 C442.66,66.25 442.99,64.82 443.46,63.89 C443.93,62.97 444.51,62.26 445.08,61.9Z" fill="none" stroke="#EC8845" stroke-width="0.6"/>
<path d="M445.37,63.29 C445.92,62.89 446.3,62.34 447.13,62.28 C447.96,62.22 449.63,62.48 450.35,62.93 C451.07,63.38 451.09,64.17 451.45,64.97 C451.82,65.78 452.46,66.73 452.55,67.75 C452.64,68.78 452.32,70.23 451.98,71.12 C451.63,72.02 451.03,72.53 450.47,73.15 C449.9,73.77 449.45,74.53 448.6,74.84 C447.74,75.15 446.11,75.4 445.32,75.01 C444.54,74.61 444.17,73.25 443.86,72.46 C443.56,71.66 443.64,71 443.49,70.25 C443.33,69.5 442.86,68.88 442.91,67.95 C442.97,67.02 443.42,65.46 443.83,64.68 C444.24,63.9 444.82,63.69 445.37,63.29Z" fill="none" stroke="#EC8845" stroke-width="0.6"/>
<path d="M446.39,64.83 C446.87,64.51 447.06,64.2 447.62,64.16 C448.17,64.12 449.19,64.28 449.7,64.6 C450.2,64.92 450.36,65.57 450.65,66.08 C450.95,66.6 451.39,67.03 451.49,67.67 C451.59,68.32 451.51,69.29 451.26,69.94 C451,70.58 450.46,71.01 449.95,71.52 C449.43,72.03 448.77,72.8 448.15,72.99 C447.53,73.18 446.78,72.9 446.22,72.66 C445.65,72.43 445.1,72.05 444.75,71.58 C444.41,71.11 444.16,70.55 444.15,69.84 C444.15,69.12 444.62,67.91 444.72,67.29 C444.82,66.66 444.46,66.51 444.74,66.1 C445.01,65.69 445.91,65.15 446.39,64.83Z" fill="none" stroke="#EC8845" stroke-width="0.6"/>
<path d="M446.69,65.64 C446.93,65.43 447.37,65.4 447.78,65.39 C448.19,65.37 448.75,65.28 449.14,65.55 C449.53,65.83 449.93,66.63 450.12,67.01 C450.32,67.4 450.28,67.42 450.29,67.85 C450.31,68.27 450.34,69.07 450.23,69.56 C450.12,70.06 449.94,70.44 449.65,70.82 C449.37,71.21 448.98,71.7 448.53,71.87 C448.09,72.03 447.37,72.07 446.99,71.84 C446.62,71.6 446.51,70.83 446.28,70.45 C446.06,70.06 445.68,69.97 445.62,69.54 C445.57,69.11 445.83,68.35 445.95,67.86 C446.07,67.38 446.22,67 446.34,66.63 C446.46,66.26 446.45,65.84 446.69,65.64Z" fill="none" stroke="#EC8845" stroke-width="0.6"/>
<path d="M447.72,66.98 C447.83,66.86 447.87,67.01 448.07,67.05 C448.26,67.09 448.65,67.11 448.89,67.21 C449.14,67.32 449.41,67.51 449.54,67.68 C449.67,67.86 449.66,68.04 449.65,68.25 C449.65,68.46 449.59,68.69 449.52,68.95 C449.46,69.21 449.48,69.59 449.27,69.81 C449.06,70.02 448.52,70.14 448.28,70.22 C448.04,70.29 448.02,70.38 447.83,70.28 C447.64,70.18 447.29,69.87 447.15,69.62 C447,69.37 446.99,68.98 446.97,68.77 C446.95,68.56 446.95,68.53 447.02,68.36 C447.09,68.19 447.28,67.99 447.39,67.76 C447.51,67.54 447.61,67.1 447.72,66.98Z" fill="none" stroke="#EC8845" stroke-width="0.6"/>
<path d="M424.99,76.57 C425.47,75.54 428.96,73.53 431.34,72.81 C433.72,72.08 436.92,72.09 439.28,72.24 C441.64,72.39 444.63,72.85 445.5,73.69 C446.37,74.54 446.19,76.46 444.51,77.29 C442.83,78.12 438.11,78.4 435.45,78.68 C432.78,78.96 430.24,79.31 428.5,78.96 C426.76,78.61 424.52,77.6 424.99,76.57Z" fill="none" stroke="#E8792E" stroke-width="0.6"/>
<path d="M435.58,76.08 C435.66,75.96 436.06,75.71 436.35,75.63 C436.63,75.55 437.02,75.54 437.3,75.57 C437.57,75.6 437.9,75.7 437.99,75.81 C438.07,75.92 438.01,76.15 437.81,76.25 C437.62,76.36 437.14,76.43 436.82,76.44 C436.5,76.46 436.09,76.41 435.88,76.35 C435.68,76.29 435.51,76.2 435.58,76.08Z" fill="none" stroke="#E8792E" stroke-width="0.6"/>
<path d="M442.64,62.99 C443.72,61.72 447.23,61.59 449.01,61.97 C450.78,62.35 452.7,63.84 453.31,65.29 C453.92,66.74 453.66,69.22 452.68,70.66 C451.7,72.1 449.1,74.11 447.41,73.93 C445.73,73.76 443.38,71.42 442.58,69.6 C441.79,67.78 441.57,64.26 442.64,62.99Z" fill="none" stroke="#d9661c" stroke-width="0.8"/>
<path d="M445.31,65.61 C445.9,64.8 447.63,64.21 448.57,64.35 C449.5,64.49 450.56,65.53 450.92,66.46 C451.28,67.38 451.31,69.08 450.74,69.89 C450.16,70.7 448.43,71.41 447.48,71.3 C446.54,71.19 445.42,70.18 445.06,69.23 C444.7,68.28 444.73,66.43 445.31,65.61Z" fill="none" stroke="#d9661c" stroke-width="0.8"/>
<path d="M447.84,67.85 C447.97,67.67 448.39,67.61 448.59,67.65 C448.78,67.69 448.95,67.9 449.03,68.1 C449.1,68.29 449.16,68.65 449.03,68.82 C448.9,68.99 448.46,69.15 448.26,69.14 C448.06,69.12 447.91,68.95 447.84,68.74 C447.77,68.52 447.72,68.03 447.84,67.85Z" fill="none" stroke="#d9661c" stroke-width="0.8"/>
<circle cx="448.5" cy="68.5" r="1.9" fill="#222"/>
<circle cx="444.5" cy="87.5" r="0.9" fill="#777"/>
<path d="M405.1,177 C405.43,175.33 406.68,172 408,170 C409.32,168 411,166.2 413,165 C415,163.8 417.67,163.05 420,162.8 C422.33,162.55 425,162.8 427,163.5 C429,164.2 430.97,165.42 432,167 C433.03,168.58 433.2,170.83 433.2,173 C433.2,175.17 432.7,177.67 432,180 C431.3,182.33 430.67,185.35 429,187 C427.33,188.65 424,189.73 422,189.9 C420,190.07 418.33,189.15 417,188 C415.67,186.85 415.17,184.17 414,183 C412.83,181.83 411.33,181.5 410,181 C408.67,180.5 406.82,180.67 406,180 C405.18,179.33 404.77,178.67 405.1,177Z" fill="#000" fill-opacity="0.05" stroke="none"/>
<path d="M404.68,176.67 C405,174.89 406.72,171.55 408.18,169.66 C409.64,167.77 411.44,166.49 413.45,165.34 C415.46,164.2 417.93,163.12 420.24,162.77 C422.56,162.42 425.35,162.56 427.33,163.24 C429.3,163.93 431.13,165.17 432.1,166.87 C433.08,168.57 433.25,171.23 433.19,173.46 C433.13,175.69 432.37,178.07 431.72,180.25 C431.06,182.44 430.8,184.99 429.27,186.59 C427.73,188.19 424.53,189.65 422.49,189.85 C420.46,190.05 418.45,188.87 417.04,187.8 C415.64,186.74 415.26,184.55 414.06,183.46 C412.86,182.37 411.14,181.75 409.85,181.23 C408.55,180.72 407.15,181.13 406.28,180.37 C405.42,179.61 404.37,178.46 404.68,176.67Z" fill="none" stroke="#1e1e1e" stroke-width="1.4"/>
<path d="M406.95,176.81 C407.24,175.28 408.07,172.34 409.18,170.65 C410.28,168.97 411.76,167.79 413.58,166.72 C415.4,165.65 418.07,164.55 420.1,164.21 C422.12,163.87 423.96,164.08 425.73,164.67 C427.49,165.26 429.76,166.34 430.68,167.75 C431.6,169.15 431.36,171.08 431.26,173.1 C431.15,175.12 430.64,177.78 430.04,179.88 C429.43,181.99 428.99,184.35 427.62,185.73 C426.26,187.12 423.54,188.01 421.85,188.17 C420.16,188.34 418.67,187.73 417.47,186.73 C416.27,185.73 415.67,183.21 414.66,182.18 C413.65,181.14 412.61,180.91 411.41,180.53 C410.2,180.14 408.18,180.46 407.43,179.85 C406.69,179.23 406.66,178.35 406.95,176.81Z" fill="none" stroke="#3a3a3a" stroke-width="0.7"/>
<path d="M408.71,177.09 C408.94,175.81 409.84,173.01 410.76,171.47 C411.69,169.93 412.84,168.72 414.27,167.86 C415.71,167 417.59,166.45 419.38,166.29 C421.17,166.14 423.52,166.42 425.02,166.93 C426.52,167.43 427.64,168.17 428.39,169.32 C429.15,170.47 429.52,172.28 429.54,173.83 C429.57,175.38 429.01,176.84 428.54,178.63 C428.06,180.41 427.96,183.19 426.68,184.54 C425.4,185.88 422.4,186.7 420.86,186.71 C419.33,186.73 418.39,185.55 417.45,184.61 C416.51,183.68 416.13,181.95 415.23,181.09 C414.33,180.23 413.02,179.78 412.04,179.45 C411.07,179.12 409.95,179.5 409.39,179.11 C408.84,178.71 408.48,178.36 408.71,177.09Z" fill="none" stroke="#3a3a3a" stroke-width="0.7"/>
<path d="M409.99,176.67 C410.17,175.72 411.09,173.8 411.91,172.56 C412.73,171.33 413.61,170.02 414.89,169.26 C416.18,168.51 418.16,168.16 419.62,168.02 C421.08,167.88 422.47,168.08 423.65,168.44 C424.83,168.8 426.03,169.19 426.71,170.18 C427.39,171.17 427.7,173.03 427.73,174.38 C427.75,175.73 427.34,176.89 426.85,178.29 C426.36,179.69 425.78,181.72 424.79,182.8 C423.8,183.87 422.12,184.62 420.91,184.74 C419.7,184.85 418.45,184.25 417.56,183.49 C416.66,182.73 416.26,180.9 415.52,180.19 C414.77,179.49 413.84,179.59 413.06,179.26 C412.27,178.93 411.32,178.64 410.81,178.21 C410.3,177.78 409.8,177.61 409.99,176.67Z" fill="none" stroke="#3a3a3a" stroke-width="0.7"/>
<path d="M411.87,176.73 C412.02,175.87 412.38,173.88 413.07,172.85 C413.76,171.82 414.94,171.08 416,170.54 C417.06,170 418.33,169.69 419.45,169.6 C420.56,169.52 421.77,169.73 422.71,170.03 C423.65,170.33 424.6,170.66 425.09,171.43 C425.59,172.2 425.68,173.55 425.67,174.64 C425.66,175.72 425.32,176.8 425.01,177.96 C424.71,179.12 424.67,180.78 423.86,181.58 C423.05,182.37 421.14,182.65 420.15,182.74 C419.16,182.83 418.55,182.67 417.91,182.14 C417.28,181.6 416.97,180.15 416.33,179.53 C415.69,178.91 414.77,178.66 414.08,178.41 C413.38,178.15 412.54,178.27 412.18,177.99 C411.81,177.71 411.72,177.58 411.87,176.73Z" fill="none" stroke="#3a3a3a" stroke-width="0.7"/>
<path d="M413.44,176.41 C413.54,175.82 414.1,174.72 414.59,173.95 C415.08,173.17 415.65,172.24 416.37,171.74 C417.09,171.25 418.03,171.04 418.92,170.98 C419.82,170.92 420.96,171.08 421.73,171.38 C422.5,171.67 423.16,172.18 423.54,172.75 C423.93,173.31 424.06,173.96 424.04,174.77 C424.01,175.59 423.66,176.75 423.4,177.63 C423.14,178.5 423.07,179.45 422.48,180.05 C421.9,180.65 420.66,181.17 419.88,181.24 C419.09,181.3 418.28,180.86 417.79,180.44 C417.3,180.02 417.33,179.16 416.93,178.72 C416.53,178.28 415.9,178 415.41,177.79 C414.92,177.59 414.32,177.74 413.99,177.51 C413.67,177.28 413.34,177.01 413.44,176.41Z" fill="none" stroke="#3a3a3a" stroke-width="0.7"/>
<path d="M415.33,176.36 C415.42,175.92 415.7,174.97 416.02,174.45 C416.34,173.93 416.8,173.52 417.26,173.24 C417.72,172.96 418.24,172.82 418.8,172.76 C419.36,172.7 420.11,172.72 420.63,172.87 C421.15,173.03 421.67,173.28 421.93,173.68 C422.19,174.09 422.2,174.77 422.19,175.32 C422.18,175.87 422.05,176.41 421.89,176.97 C421.72,177.53 421.6,178.24 421.18,178.66 C420.76,179.08 419.85,179.46 419.36,179.49 C418.86,179.52 418.54,179.12 418.22,178.84 C417.9,178.56 417.73,178.1 417.42,177.82 C417.11,177.53 416.7,177.27 416.37,177.14 C416.04,177.02 415.63,177.19 415.45,177.06 C415.28,176.93 415.24,176.79 415.33,176.36Z" fill="none" stroke="#3a3a3a" stroke-width="0.7"/>
<path d="M416.86,176.15 C416.88,175.96 417.04,175.59 417.2,175.34 C417.35,175.09 417.54,174.79 417.79,174.64 C418.05,174.48 418.44,174.43 418.72,174.4 C419,174.38 419.23,174.38 419.47,174.47 C419.71,174.57 420.04,174.78 420.17,174.96 C420.29,175.15 420.25,175.34 420.24,175.58 C420.24,175.83 420.22,176.15 420.14,176.43 C420.07,176.72 419.98,177.12 419.79,177.32 C419.59,177.52 419.2,177.61 418.97,177.62 C418.73,177.63 418.53,177.52 418.37,177.39 C418.2,177.26 418.12,176.96 417.97,176.82 C417.83,176.69 417.64,176.63 417.49,176.57 C417.33,176.51 417.16,176.55 417.05,176.48 C416.95,176.41 416.83,176.34 416.86,176.15Z" fill="none" stroke="#3a3a3a" stroke-width="0.7"/>
<path d="M438,162 C439.5,160.95 442.67,159.95 445,159.7 C447.33,159.45 450,159.78 452,160.5 C454,161.22 455.78,162.42 457,164 C458.22,165.58 459.13,168 459.3,170 C459.47,172 458.88,174.33 458,176 C457.12,177.67 455.67,179.17 454,180 C452.33,180.83 449.33,180 448,181 C446.67,182 447.17,184.87 446,186 C444.83,187.13 442.33,188.13 441,187.8 C439.67,187.47 438.67,185.47 438,184 C437.33,182.53 438.33,180 437,179 C435.67,178 432.33,178.33 430,178 C427.67,177.67 423.83,177.83 423,177 C422.17,176.17 423.5,174.17 425,173 C426.5,171.83 430.17,171.17 432,170 C433.83,168.83 435,167.33 436,166 C437,164.67 436.5,163.05 438,162Z" fill="#E8792E" fill-opacity="0.05" stroke="none"/>
<path d="M438.19,161.27 C439.92,160.32 443.83,160.78 446.12,160.72 C448.4,160.66 450.22,160.46 451.92,160.89 C453.62,161.33 455.17,161.74 456.31,163.33 C457.46,164.93 458.63,168.16 458.79,170.46 C458.96,172.76 458.28,175.66 457.31,177.13 C456.34,178.6 454.68,178.51 452.97,179.26 C451.25,180.02 448.23,180.54 447.01,181.65 C445.8,182.76 446.75,184.85 445.68,185.93 C444.61,187.01 441.9,188.57 440.58,188.13 C439.26,187.69 438.39,184.9 437.77,183.3 C437.14,181.7 438.28,179.28 436.83,178.53 C435.38,177.78 431.3,178.97 429.07,178.78 C426.83,178.59 423.96,178.4 423.43,177.4 C422.91,176.39 424.54,174.01 425.92,172.75 C427.3,171.48 430.07,170.87 431.71,169.82 C433.35,168.76 434.69,167.83 435.77,166.41 C436.85,164.98 436.47,162.22 438.19,161.27Z" fill="none" stroke="#E8792E" stroke-width="0.6"/>
<path d="M437.91,162.7 C439.2,161.6 443.26,160.51 445.37,160.37 C447.48,160.23 448.96,161.15 450.57,161.87 C452.19,162.6 453.91,163.54 455.06,164.73 C456.2,165.91 457.23,167.37 457.44,168.99 C457.66,170.62 457.13,172.73 456.33,174.47 C455.53,176.21 453.96,178.56 452.66,179.42 C451.35,180.28 449.52,178.8 448.49,179.63 C447.47,180.45 447.66,183.17 446.53,184.38 C445.39,185.59 443.01,187.03 441.68,186.87 C440.36,186.72 439.1,184.82 438.57,183.43 C438.04,182.04 439.8,179.7 438.49,178.52 C437.18,177.33 433.03,176.74 430.69,176.32 C428.35,175.89 424.84,176.45 424.43,175.98 C424.02,175.52 426.57,174.65 428.21,173.52 C429.86,172.39 432.73,170.26 434.3,169.17 C435.86,168.09 437.02,168.06 437.62,166.99 C438.22,165.91 436.62,163.81 437.91,162.7Z" fill="none" stroke="#EC8845" stroke-width="0.6"/>
<path d="M440.55,164.13 C441.6,163.07 443.02,161.31 444.89,161.09 C446.76,160.88 449.93,162.16 451.78,162.82 C453.63,163.48 454.99,163.99 456,165.07 C457.01,166.15 457.69,167.55 457.84,169.3 C458,171.05 457.82,174.25 456.93,175.57 C456.04,176.89 453.99,176.6 452.51,177.21 C451.04,177.82 449.16,178.41 448.09,179.21 C447.03,180.02 447.13,181.06 446.1,182.02 C445.08,182.97 443.1,184.93 441.94,184.95 C440.79,184.96 439.71,183.49 439.17,182.11 C438.62,180.73 439.73,177.46 438.67,176.67 C437.6,175.88 434.44,177.6 432.77,177.36 C431.1,177.13 429.34,176.06 428.66,175.28 C427.99,174.51 427.51,173.75 428.72,172.71 C429.92,171.67 434.23,169.93 435.88,169.06 C437.52,168.18 437.82,168.29 438.6,167.47 C439.38,166.65 439.5,165.19 440.55,164.13Z" fill="none" stroke="#EC8845" stroke-width="0.6"/>
<path d="M440.86,164.46 C441.94,163.72 444.8,162.43 446.4,162.28 C447.99,162.13 449.1,162.97 450.44,163.56 C451.78,164.15 453.57,164.62 454.45,165.82 C455.33,167.02 455.66,169.29 455.7,170.74 C455.75,172.2 455.17,173.52 454.71,174.54 C454.24,175.57 454.15,176.44 452.91,176.9 C451.66,177.36 448.42,176.66 447.24,177.3 C446.07,177.93 446.66,179.87 445.85,180.71 C445.05,181.55 443.27,182.46 442.41,182.31 C441.55,182.16 441.03,180.75 440.71,179.8 C440.4,178.86 441.36,177.39 440.51,176.66 C439.65,175.93 437.25,175.69 435.6,175.42 C433.95,175.15 431.36,175.57 430.61,175.03 C429.86,174.49 430.15,172.99 431.11,172.2 C432.08,171.41 434.92,171.21 436.39,170.3 C437.85,169.39 439.17,167.71 439.92,166.73 C440.66,165.76 439.78,165.21 440.86,164.46Z" fill="none" stroke="#EC8845" stroke-width="0.6"/>
<path d="M441.82,165.06 C442.62,164.4 444.55,163.08 445.88,163.06 C447.2,163.04 448.45,164.4 449.78,164.94 C451.1,165.47 452.94,165.47 453.83,166.26 C454.72,167.04 455.03,168.32 455.12,169.66 C455.22,171 454.91,173.25 454.4,174.31 C453.88,175.37 453,175.54 452.05,176.04 C451.1,176.54 449.69,176.72 448.71,177.31 C447.72,177.91 446.98,179.08 446.14,179.61 C445.3,180.15 444.34,180.78 443.67,180.51 C442.99,180.24 442.42,178.75 442.08,178 C441.75,177.25 442.61,176.48 441.66,176 C440.72,175.53 437.94,175.41 436.4,175.15 C434.86,174.9 432.79,174.9 432.44,174.46 C432.08,174.03 433.23,173.31 434.27,172.52 C435.32,171.74 437.57,170.68 438.69,169.76 C439.82,168.85 440.51,167.83 441.03,167.05 C441.55,166.26 441.01,165.73 441.82,165.06Z" fill="none" stroke="#EC8845" stroke-width="0.6"/>
<path d="M443.15,165.81 C443.85,165.18 445.09,164.47 446.18,164.41 C447.27,164.36 448.71,165.14 449.7,165.51 C450.68,165.87 451.49,165.93 452.1,166.61 C452.72,167.28 453.18,168.49 453.4,169.58 C453.61,170.68 453.75,172.17 453.39,173.17 C453.04,174.18 452.18,175.29 451.27,175.6 C450.36,175.92 448.72,174.62 447.94,175.06 C447.16,175.49 447.14,177.44 446.6,178.2 C446.05,178.96 445.3,179.84 444.69,179.61 C444.07,179.38 443.27,177.57 442.9,176.82 C442.54,176.07 443.21,175.5 442.49,175.13 C441.77,174.77 439.72,174.86 438.6,174.62 C437.47,174.37 436.11,174.26 435.72,173.67 C435.32,173.08 435.62,171.78 436.22,171.08 C436.83,170.37 438.38,169.91 439.34,169.44 C440.31,168.96 441.37,168.82 442,168.22 C442.64,167.61 442.46,166.44 443.15,165.81Z" fill="none" stroke="#EC8845" stroke-width="0.6"/>
<path d="M444.36,166.79 C445.11,166.3 446.43,165.84 447.25,165.65 C448.07,165.45 448.58,165.32 449.29,165.64 C450,165.95 450.87,166.86 451.51,167.55 C452.15,168.24 453.09,168.94 453.15,169.8 C453.21,170.66 452.33,171.97 451.87,172.7 C451.41,173.43 451.07,173.83 450.37,174.19 C449.67,174.56 448.12,174.45 447.65,174.9 C447.19,175.34 447.94,176.48 447.59,176.87 C447.24,177.25 446.24,177.4 445.54,177.19 C444.84,176.98 443.68,176.18 443.4,175.59 C443.12,175.01 444.37,174.13 443.85,173.69 C443.32,173.25 441.35,173.1 440.26,172.96 C439.18,172.82 437.56,173.06 437.33,172.83 C437.11,172.61 438.2,172.05 438.92,171.62 C439.63,171.19 441.01,170.75 441.64,170.25 C442.28,169.75 442.28,169.2 442.73,168.62 C443.19,168.05 443.6,167.29 444.36,166.79Z" fill="none" stroke="#EC8845" stroke-width="0.6"/>
<path d="M444.64,167.5 C445.01,167.18 445.98,167.12 446.7,167.05 C447.42,166.98 448.27,166.88 448.98,167.07 C449.69,167.27 450.51,167.74 450.96,168.22 C451.42,168.69 451.63,169.23 451.7,169.9 C451.77,170.57 451.66,171.62 451.38,172.23 C451.09,172.83 450.5,173.37 449.98,173.52 C449.46,173.67 448.68,172.93 448.26,173.13 C447.85,173.34 447.89,174.34 447.5,174.74 C447.11,175.14 446.31,175.63 445.91,175.52 C445.52,175.41 445.29,174.58 445.11,174.07 C444.94,173.57 445.39,172.82 444.87,172.49 C444.35,172.17 442.82,172.13 441.98,172.15 C441.14,172.16 439.99,172.72 439.83,172.58 C439.66,172.43 440.52,171.67 441,171.26 C441.48,170.86 442.14,170.53 442.71,170.14 C443.29,169.75 444.12,169.35 444.44,168.91 C444.76,168.47 444.26,167.81 444.64,167.5Z" fill="none" stroke="#EC8845" stroke-width="0.6"/>
<path d="M445.7,168.5 C446.02,168.26 446.96,167.96 447.47,167.85 C447.98,167.75 448.32,167.74 448.76,167.88 C449.2,168.02 449.81,168.31 450.09,168.7 C450.38,169.09 450.45,169.75 450.45,170.22 C450.46,170.68 450.37,171.17 450.14,171.49 C449.91,171.82 449.41,172.09 449.07,172.19 C448.73,172.3 448.35,171.94 448.11,172.14 C447.88,172.34 447.93,173.07 447.67,173.37 C447.41,173.67 446.88,173.96 446.54,173.94 C446.2,173.93 445.81,173.64 445.63,173.28 C445.45,172.92 445.73,172.06 445.47,171.77 C445.21,171.48 444.57,171.53 444.05,171.51 C443.53,171.5 442.56,171.8 442.35,171.66 C442.14,171.52 442.39,170.96 442.78,170.67 C443.18,170.39 444.26,170.2 444.72,169.98 C445.18,169.75 445.39,169.55 445.55,169.3 C445.72,169.06 445.38,168.75 445.7,168.5Z" fill="none" stroke="#EC8845" stroke-width="0.6"/>
<path d="M446.7,168.92 C446.91,168.83 447.41,168.87 447.72,168.87 C448.03,168.87 448.35,168.83 448.58,168.92 C448.81,169.01 448.94,169.22 449.08,169.41 C449.22,169.6 449.39,169.88 449.43,170.08 C449.46,170.27 449.42,170.4 449.32,170.59 C449.21,170.78 449.03,171.11 448.79,171.22 C448.55,171.33 448.02,171.13 447.86,171.25 C447.7,171.37 447.94,171.79 447.82,171.93 C447.71,172.07 447.35,172.1 447.18,172.07 C447.01,172.05 446.88,171.95 446.82,171.79 C446.76,171.63 446.97,171.25 446.82,171.1 C446.67,170.94 446.23,170.88 445.91,170.84 C445.59,170.8 444.99,170.96 444.9,170.86 C444.8,170.76 445.15,170.39 445.33,170.25 C445.51,170.11 445.78,170.14 445.98,170 C446.17,169.86 446.38,169.6 446.5,169.42 C446.62,169.24 446.5,169.01 446.7,168.92Z" fill="none" stroke="#EC8845" stroke-width="0.6"/>
<path d="M442.65,164.12 C443.91,162.81 447.76,162.58 449.67,163.21 C451.58,163.84 453.7,166.08 454.11,167.88 C454.52,169.69 453.54,172.71 452.12,174.07 C450.69,175.42 447.21,176.54 445.54,176.03 C443.88,175.52 442.6,173.01 442.12,171.02 C441.64,169.03 441.39,165.42 442.65,164.12Z" fill="none" stroke="#dd6a22" stroke-width="0.8"/>
<path d="M445.41,166.77 C446.17,166 448.09,165.55 449.05,165.93 C450.01,166.31 450.94,167.99 451.15,169.05 C451.37,170.12 451.06,171.58 450.35,172.3 C449.63,173.02 447.82,173.65 446.85,173.36 C445.87,173.07 444.72,171.68 444.48,170.58 C444.25,169.48 444.65,167.55 445.41,166.77Z" fill="none" stroke="#dd6a22" stroke-width="0.8"/>
<path d="M447.36,169.29 C447.52,169.14 448.03,169.11 448.26,169.18 C448.48,169.25 448.66,169.49 448.69,169.71 C448.72,169.93 448.61,170.33 448.46,170.5 C448.31,170.68 447.96,170.82 447.76,170.75 C447.56,170.68 447.34,170.35 447.27,170.11 C447.2,169.87 447.19,169.45 447.36,169.29Z" fill="none" stroke="#dd6a22" stroke-width="0.8"/>
<path d="M82.12,364.07h0.8v0.8h-0.8zM76.23,369.82h0.8v0.8h-0.8zM77.53,362.87h0.8v0.8h-0.8zM89.86,359.44h0.8v0.8h-0.8zM93.32,363.15h0.8v0.8h-0.8zM99.51,359.7h0.8v0.8h-0.8zM85.63,360.55h0.8v0.8h-0.8zM103.39,362.99h0.8v0.8h-0.8zM72.8,363.14h0.8v0.8h-0.8zM99.69,371.56h0.8v0.8h-0.8zM68.76,373.17h0.8v0.8h-0.8zM84.18,374.98h0.8v0.8h-0.8zM70.34,362.16h0.8v0.8h-0.8zM90.85,371.82h0.8v0.8h-0.8zM73.88,367h0.8v0.8h-0.8zM81.96,373.32h0.8v0.8h-0.8zM90.66,374.91h0.8v0.8h-0.8zM103.52,367.32h0.8v0.8h-0.8zM89.5,368.64h0.8v0.8h-0.8zM79.51,375h0.8v0.8h-0.8zM72.8,374.14h0.8v0.8h-0.8zM101.91,363.36h0.8v0.8h-0.8zM68.8,366.36h0.8v0.8h-0.8zM101.15,366.14h0.8v0.8h-0.8zM96.97,371.12h0.8v0.8h-0.8zM86.76,370.36h0.8v0.8h-0.8zM101.79,368.45h0.8v0.8h-0.8zM87.71,369.88h0.8v0.8h-0.8zM66.14,375.14h0.8v0.8h-0.8zM84.66,371.85h0.8v0.8h-0.8zM82,375.63h0.8v0.8h-0.8zM79.98,372.17h0.8v0.8h-0.8zM104.45,376.45h0.8v0.8h-0.8zM80.04,364.68h0.8v0.8h-0.8zM84.42,369.1h0.8v0.8h-0.8zM73.62,371.78h0.8v0.8h-0.8zM73.13,362.72h0.8v0.8h-0.8zM104.03,364.36h0.8v0.8h-0.8zM93.54,367.23h0.8v0.8h-0.8zM70.44,370.24h0.8v0.8h-0.8zM97.73,372.71h0.8v0.8h-0.8zM90.26,372.24h0.8v0.8h-0.8zM80.81,360.44h0.8v0.8h-0.8zM90.58,367.19h0.8v0.8h-0.8zM108.59,357.55h0.8v0.8h-0.8zM73.86,371.67h0.8v0.8h-0.8zM90.83,363.28h0.8v0.8h-0.8zM89.25,375.03h0.8v0.8h-0.8zM85.35,361.06h0.8v0.8h-0.8zM102.63,361.68h0.8v0.8h-0.8zM102.32,372.22h0.8v0.8h-0.8zM76.74,374.06h0.8v0.8h-0.8zM87.53,362.21h0.8v0.8h-0.8zM68.67,373.34h0.8v0.8h-0.8zM95.93,369.75h0.8v0.8h-0.8zM68.48,368.68h0.8v0.8h-0.8zM102.28,375.96h0.8v0.8h-0.8zM73.17,361.81h0.8v0.8h-0.8zM81.77,367.17h0.8v0.8h-0.8zM75.96,374.71h0.8v0.8h-0.8zM90.84,375.76h0.8v0.8h-0.8zM89.31,375.56h0.8v0.8h-0.8zM102.17,374.14h0.8v0.8h-0.8zM98.88,377.08h0.8v0.8h-0.8zM81.84,374.71h0.8v0.8h-0.8zM76.11,376.6h0.8v0.8h-0.8zM96.79,358.16h0.8v0.8h-0.8zM99.1,376.53h0.8v0.8h-0.8zM92.64,362.64h0.8v0.8h-0.8zM103.92,368.44h0.8v0.8h-0.8zM97.73,360.01h0.8v0.8h-0.8zM72.53,374.67h0.8v0.8h-0.8zM92.4,366.6h0.8v0.8h-0.8zM102.75,359.53h0.8v0.8h-0.8zM92.08,371.25h0.8v0.8h-0.8zM84.96,366.79h0.8v0.8h-0.8zM90.71,360.9h0.8v0.8h-0.8zM66.95,367.37h0.8v0.8h-0.8zM77.53,363.22h0.8v0.8h-0.8zM68.27,365.81h0.8v0.8h-0.8zM85.79,363.92h0.8v0.8h-0.8zM87.91,367.4h0.8v0.8h-0.8zM83.14,376.14h0.8v0.8h-0.8zM85.85,360.86h0.8v0.8h-0.8zM92.12,368.2h0.8v0.8h-0.8zM80.15,368.95h0.8v0.8h-0.8zM88.24,362.7h0.8v0.8h-0.8zM81.75,370.81h0.8v0.8h-0.8zM88.59,363.53h0.8v0.8h-0.8zM64.01,376.39h0.8v0.8h-0.8zM88.79,363.17h0.8v0.8h-0.8zM69.42,367.32h0.8v0.8h-0.8zM91.05,376.26h0.8v0.8h-0.8zM91.18,368.81h0.8v0.8h-0.8zM76.84,372.18h0.8v0.8h-0.8zM99.19,376.75h0.8v0.8h-0.8zM96.03,359.1h0.8v0.8h-0.8zM97,367.92h0.8v0.8h-0.8zM76.9,371.97h0.8v0.8h-0.8zM76.86,373.92h0.8v0.8h-0.8zM67.37,367.35h0.8v0.8h-0.8zM101.9,376.21h0.8v0.8h-0.8zM71.15,374.45h0.8v0.8h-0.8zM92.19,372.95h0.8v0.8h-0.8zM92.86,374.15h0.8v0.8h-0.8zM65.7,370.62h0.8v0.8h-0.8zM98.42,361.69h0.8v0.8h-0.8zM98.08,371.01h0.8v0.8h-0.8zM99.01,361.06h0.8v0.8h-0.8zM82.96,362.29h0.8v0.8h-0.8zM62.74,365.9h0.8v0.8h-0.8zM94.57,369.29h0.8v0.8h-0.8zM91.43,373.59h0.8v0.8h-0.8zM94.32,375.37h0.8v0.8h-0.8zM100.08,359.75h0.8v0.8h-0.8zM98.13,364.95h0.8v0.8h-0.8zM85.75,370.51h0.8v0.8h-0.8zM81.53,374.5h0.8v0.8h-0.8zM88.27,372.39h0.8v0.8h-0.8zM92.72,362.51h0.8v0.8h-0.8zM104.27,375.54h0.8v0.8h-0.8zM87.77,370.17h0.8v0.8h-0.8zM92.71,366.46h0.8v0.8h-0.8zM99.32,370.41h0.8v0.8h-0.8zM72.23,361.54h0.8v0.8h-0.8zM84.2,367.08h0.8v0.8h-0.8zM97.92,366.11h0.8v0.8h-0.8zM78.04,363.14h0.8v0.8h-0.8zM106.58,360.5h0.8v0.8h-0.8zM99.72,376.54h0.8v0.8h-0.8zM82.78,363.9h0.8v0.8h-0.8zM74.42,372.83h0.8v0.8h-0.8zM97.73,364.81h0.8v0.8h-0.8zM95.18,376.55h0.8v0.8h-0.8zM70.57,367.25h0.8v0.8h-0.8zM81.64,368.77h0.8v0.8h-0.8zM98.43,375.81h0.8v0.8h-0.8zM74.98,376.32h0.8v0.8h-0.8zM99.58,357.83h0.8v0.8h-0.8zM65.41,369.49h0.8v0.8h-0.8zM64.58,376.19h0.8v0.8h-0.8zM73.77,367.95h0.8v0.8h-0.8zM76.47,375.03h0.8v0.8h-0.8zM73.63,366.56h0.8v0.8h-0.8zM100.13,368.28h0.8v0.8h-0.8zM79.86,377.86h0.8v0.8h-0.8zM77.52,365.34h0.8v0.8h-0.8zM99.39,373.72h0.8v0.8h-0.8zM103.08,358.53h0.8v0.8h-0.8zM75.3,373.02h0.8v0.8h-0.8zM103.86,366.66h0.8v0.8h-0.8zM77.73,375.67h0.8v0.8h-0.8zM106.71,377.15h0.8v0.8h-0.8zM71.94,376.53h0.8v0.8h-0.8zM72.06,365.55h0.8v0.8h-0.8zM81.43,376.98h0.8v0.8h-0.8zM101.41,364.57h0.8v0.8h-0.8zM106.79,359.9h0.8v0.8h-0.8zM64.22,370.79h0.8v0.8h-0.8zM73.67,373.91h0.8v0.8h-0.8zM84.84,374.03h0.8v0.8h-0.8zM69.82,367.03h0.8v0.8h-0.8zM66.31,374.33h0.8v0.8h-0.8zM98.48,376.34h0.8v0.8h-0.8zM94.1,359.9h0.8v0.8h-0.8zM80.21,374.48h0.8v0.8h-0.8zM80.69,373.97h0.8v0.8h-0.8zM88.87,366.05h0.8v0.8h-0.8zM87.4,372.76h0.8v0.8h-0.8zM74.68,376.72h0.8v0.8h-0.8zM93.22,367.2h0.8v0.8h-0.8zM84.14,372.03h0.8v0.8h-0.8zM83.35,359.9h0.8v0.8h-0.8zM69.99,366.65h0.8v0.8h-0.8zM89.75,363.45h0.8v0.8h-0.8zM77.11,370.58h0.8v0.8h-0.8zM102.99,368.17h0.8v0.8h-0.8zM86.62,363.75h0.8v0.8h-0.8zM100.79,368.27h0.8v0.8h-0.8zM80.32,375.59h0.8v0.8h-0.8zM83.21,373.29h0.8v0.8h-0.8zM98.25,377.2h0.8v0.8h-0.8zM89.61,372.48h0.8v0.8h-0.8zM77.63,365.57h0.8v0.8h-0.8zM76.95,366.75h0.8v0.8h-0.8zM92.04,367.34h0.8v0.8h-0.8zM100.3,374.71h0.8v0.8h-0.8zM91.93,373.48h0.8v0.8h-0.8zM103.53,369.61h0.8v0.8h-0.8zM105.57,371h0.8v0.8h-0.8zM88.75,371.14h0.8v0.8h-0.8zM89.36,373.66h0.8v0.8h-0.8zM101.28,375.33h0.8v0.8h-0.8zM91.02,363.36h0.8v0.8h-0.8zM75.13,363.18h0.8v0.8h-0.8zM85.6,363.82h0.8v0.8h-0.8zM75.75,373h0.8v0.8h-0.8zM105.09,361.91h0.8v0.8h-0.8zM103.15,374.66h0.8v0.8h-0.8zM97.11,361.18h0.8v0.8h-0.8zM86.04,373.48h0.8v0.8h-0.8zM87.86,367.07h0.8v0.8h-0.8zM99.47,372.38h0.8v0.8h-0.8zM99.73,377.07h0.8v0.8h-0.8zM93.47,372.65h0.8v0.8h-0.8zM69.01,371.44h0.8v0.8h-0.8zM98.33,373.07h0.8v0.8h-0.8zM103.91,362.25h0.8v0.8h-0.8zM89.56,375.79h0.8v0.8h-0.8zM85.88,364.14h0.8v0.8h-0.8zM76.61,369.6h0.8v0.8h-0.8zM100.55,361.32h0.8v0.8h-0.8zM83.66,376.29h0.8v0.8h-0.8zM66.54,374.53h0.8v0.8h-0.8zM106.67,370.38h0.8v0.8h-0.8zM98.23,373.12h0.8v0.8h-0.8zM95.16,371h0.8v0.8h-0.8zM103.14,362.25h0.8v0.8h-0.8zM80.96,373.41h0.8v0.8h-0.8zM70.27,361.78h0.8v0.8h-0.8zM97.36,358.37h0.8v0.8h-0.8zM74.37,374.8h0.8v0.8h-0.8zM90.71,374.94h0.8v0.8h-0.8zM87.45,374.68h0.8v0.8h-0.8zM97.11,373.76h0.8v0.8h-0.8zM89.19,368.76h0.8v0.8h-0.8zM67.74,368.29h0.8v0.8h-0.8zM72.43,366.27h0.8v0.8h-0.8zM95.05,365.56h0.8v0.8h-0.8zM103.61,371.41h0.8v0.8h-0.8zM80.02,374.01h0.8v0.8h-0.8zM73.58,371.98h0.8v0.8h-0.8zM85.78,375.15h0.8v0.8h-0.8zM103.75,366.66h0.8v0.8h-0.8zM74.28,366.13h0.8v0.8h-0.8zM84.58,370.44h0.8v0.8h-0.8zM68.67,374.86h0.8v0.8h-0.8zM80.93,369.3h0.8v0.8h-0.8zM69.53,375.7h0.8v0.8h-0.8zM94.67,360.01h0.8v0.8h-0.8zM87.57,374.74h0.8v0.8h-0.8zM92.46,370.4h0.8v0.8h-0.8zM77.65,367.68h0.8v0.8h-0.8zM82.12,373.9h0.8v0.8h-0.8zM69.23,367.98h0.8v0.8h-0.8zM73.44,365.85h0.8v0.8h-0.8zM99.4,373.07h0.8v0.8h-0.8zM88.75,362.68h0.8v0.8h-0.8zM67.28,372.63h0.8v0.8h-0.8zM98.09,372.03h0.8v0.8h-0.8zM93.19,374.84h0.8v0.8h-0.8zM87.51,360.8h0.8v0.8h-0.8zM102.02,371.62h0.8v0.8h-0.8zM81.96,371.78h0.8v0.8h-0.8zM94.45,367.87h0.8v0.8h-0.8zM85.4,367.5h0.8v0.8h-0.8zM77.63,367.28h0.8v0.8h-0.8zM88.84,363.39h0.8v0.8h-0.8zM88.21,368.9h0.8v0.8h-0.8zM98.71,357.87h0.8v0.8h-0.8zM65.32,371.3h0.8v0.8h-0.8zM73.59,369.91h0.8v0.8h-0.8zM81.87,366.01h0.8v0.8h-0.8zM84.44,370.68h0.8v0.8h-0.8zM75.73,366.89h0.8v0.8h-0.8zM80.67,372.5h0.8v0.8h-0.8zM97.11,363.71h0.8v0.8h-0.8zM79.55,370.57h0.8v0.8h-0.8zM94.95,369.45h0.8v0.8h-0.8zM102.01,361.51h0.8v0.8h-0.8zM72.54,371.35h0.8v0.8h-0.8zM86.51,372.82h0.8v0.8h-0.8zM73.75,366.36h0.8v0.8h-0.8zM77.76,363.32h0.8v0.8h-0.8zM81.98,366.42h0.8v0.8h-0.8zM83.65,367.02h0.8v0.8h-0.8zM96.95,375.5h0.8v0.8h-0.8zM96.74,376.42h0.8v0.8h-0.8zM69.5,368.61h0.8v0.8h-0.8zM101.56,365.05h0.8v0.8h-0.8zM70.46,376.58h0.8v0.8h-0.8zM75.62,366.15h0.8v0.8h-0.8zM97.85,360.12h0.8v0.8h-0.8zM70.64,376.18h0.8v0.8h-0.8zM104.54,357.89h0.8v0.8h-0.8zM77.79,371.32h0.8v0.8h-0.8zM104.25,369.96h0.8v0.8h-0.8zM104.69,358.32h0.8v0.8h-0.8zM81.2,370.89h0.8v0.8h-0.8zM87.61,370.79h0.8v0.8h-0.8zM99.21,367.45h0.8v0.8h-0.8zM72.27,362.59h0.8v0.8h-0.8zM93.35,364.15h0.8v0.8h-0.8zM105.35,363.58h0.8v0.8h-0.8zM82.2,363.75h0.8v0.8h-0.8zM99.95,374.6h0.8v0.8h-0.8zM69.17,371.39h0.8v0.8h-0.8zM69.29,365.35h0.8v0.8h-0.8zM106.06,364.81h0.8v0.8h-0.8zM92.39,371.91h0.8v0.8h-0.8zM85.56,361.99h0.8v0.8h-0.8zM81.37,364.79h0.8v0.8h-0.8zM85.76,365.95h0.8v0.8h-0.8zM93.07,373.53h0.8v0.8h-0.8zM78.72,370.34h0.8v0.8h-0.8zM105.27,369.76h0.8v0.8h-0.8zM72.42,371.07h0.8v0.8h-0.8zM100.01,362.89h0.8v0.8h-0.8zM81.35,376.5h0.8v0.8h-0.8zM72.68,376.25h0.8v0.8h-0.8zM98.47,373.18h0.8v0.8h-0.8zM84.42,369.16h0.8v0.8h-0.8zM106.25,359.58h0.8v0.8h-0.8zM99.68,372.53h0.8v0.8h-0.8zM97.23,372.5h0.8v0.8h-0.8zM97.31,366.64h0.8v0.8h-0.8zM99.87,359.13h0.8v0.8h-0.8zM99.02,358.51h0.8v0.8h-0.8zM99.75,360.21h0.8v0.8h-0.8zM91.16,373.37h0.8v0.8h-0.8zM102.34,367.84h0.8v0.8h-0.8zM89.38,374.56h0.8v0.8h-0.8zM101.53,365.8h0.8v0.8h-0.8zM105.9,362.03h0.8v0.8h-0.8zM100.62,358.15h0.8v0.8h-0.8zM106.21,362.83h0.8v0.8h-0.8zM108.67,347.16h0.8v0.8h-0.8zM97.02,359.5h0.8v0.8h-0.8zM102.24,360.17h0.8v0.8h-0.8zM116.09,367.45h0.8v0.8h-0.8zM103.96,365.5h0.8v0.8h-0.8zM107.41,367.24h0.8v0.8h-0.8zM101.76,365.02h0.8v0.8h-0.8zM95.79,372.51h0.8v0.8h-0.8zM90.31,348.53h0.8v0.8h-0.8zM106.72,360.33h0.8v0.8h-0.8zM96.01,360.45h0.8v0.8h-0.8zM95.23,370.29h0.8v0.8h-0.8zM89.51,359.61h0.8v0.8h-0.8zM93.33,354.47h0.8v0.8h-0.8zM94.95,366.59h0.8v0.8h-0.8zM100.64,363.71h0.8v0.8h-0.8zM90.93,356.35h0.8v0.8h-0.8zM95.01,365.44h0.8v0.8h-0.8zM99.77,368.55h0.8v0.8h-0.8zM99.37,357.72h0.8v0.8h-0.8zM111.26,361.13h0.8v0.8h-0.8zM99.75,362.52h0.8v0.8h-0.8zM86.63,356.42h0.8v0.8h-0.8zM101.06,377.87h0.8v0.8h-0.8zM93.67,364.91h0.8v0.8h-0.8zM104.11,351.91h0.8v0.8h-0.8zM103.75,359.24h0.8v0.8h-0.8zM93.57,367.49h0.8v0.8h-0.8zM100.56,359.12h0.8v0.8h-0.8zM105.28,363.64h0.8v0.8h-0.8zM121.74,359.59h0.8v0.8h-0.8zM97.26,362.51h0.8v0.8h-0.8zM91.29,360.87h0.8v0.8h-0.8zM110.47,350.94h0.8v0.8h-0.8zM105.31,364.88h0.8v0.8h-0.8zM110.52,364.45h0.8v0.8h-0.8zM106.97,357.85h0.8v0.8h-0.8zM91.49,358.12h0.8v0.8h-0.8zM94.94,363.23h0.8v0.8h-0.8zM118.41,352.23h0.8v0.8h-0.8zM103.38,371.59h0.8v0.8h-0.8zM117.52,361.59h0.8v0.8h-0.8zM96.75,366.56h0.8v0.8h-0.8zM103.43,358.96h0.8v0.8h-0.8zM99.66,353.34h0.8v0.8h-0.8zM102.1,346.05h0.8v0.8h-0.8zM94.7,363.96h0.8v0.8h-0.8zM102.13,359.87h0.8v0.8h-0.8zM85.76,353.78h0.8v0.8h-0.8zM103.47,370.78h0.8v0.8h-0.8zM104.73,361.65h0.8v0.8h-0.8zM103.65,352.35h0.8v0.8h-0.8zM94.45,362.74h0.8v0.8h-0.8zM99.34,364.07h0.8v0.8h-0.8zM90.91,363.73h0.8v0.8h-0.8zM103.45,364.44h0.8v0.8h-0.8zM102.5,371.19h0.8v0.8h-0.8zM100.52,360.11h0.8v0.8h-0.8zM105.8,351.54h0.8v0.8h-0.8zM109.65,361.08h0.8v0.8h-0.8zM98.08,352.35h0.8v0.8h-0.8zM115.76,360.49h0.8v0.8h-0.8zM100.51,360.53h0.8v0.8h-0.8zM102.69,370.02h0.8v0.8h-0.8zM102.79,355.4h0.8v0.8h-0.8zM96.99,362.81h0.8v0.8h-0.8zM98.37,355.79h0.8v0.8h-0.8zM104.27,368.13h0.8v0.8h-0.8zM95.27,374.66h0.8v0.8h-0.8zM100.3,367.6h0.8v0.8h-0.8zM93.38,362.49h0.8v0.8h-0.8zM102.73,344.49h0.8v0.8h-0.8zM106.32,366.75h0.8v0.8h-0.8zM107.72,371.16h0.8v0.8h-0.8zM97.5,359.94h0.8v0.8h-0.8zM95.44,350.03h0.8v0.8h-0.8zM89.28,363.16h0.8v0.8h-0.8zM88.48,364.61h0.8v0.8h-0.8zM102.4,368.25h0.8v0.8h-0.8zM105.48,352.66h0.8v0.8h-0.8zM90.23,353.65h0.8v0.8h-0.8zM98.04,367.09h0.8v0.8h-0.8zM102.77,356.77h0.8v0.8h-0.8zM94.4,369.68h0.8v0.8h-0.8zM101.97,359.09h0.8v0.8h-0.8zM87.57,370.93h0.8v0.8h-0.8zM95.49,357.09h0.8v0.8h-0.8zM100.11,359.46h0.8v0.8h-0.8zM105.88,363.05h0.8v0.8h-0.8zM100.21,363.62h0.8v0.8h-0.8zM95.68,366.79h0.8v0.8h-0.8zM99.79,352.5h0.8v0.8h-0.8zM114.59,364.26h0.8v0.8h-0.8zM92.71,355.48h0.8v0.8h-0.8zM100.37,354.64h0.8v0.8h-0.8zM108.05,351.09h0.8v0.8h-0.8zM109.63,348.89h0.8v0.8h-0.8zM96.01,363.04h0.8v0.8h-0.8zM101.7,366.81h0.8v0.8h-0.8zM106.22,354.3h0.8v0.8h-0.8zM91.43,361.24h0.8v0.8h-0.8zM86.62,371.4h0.8v0.8h-0.8zM98.92,353.96h0.8v0.8h-0.8zM97.33,365.79h0.8v0.8h-0.8zM107.13,370.91h0.8v0.8h-0.8zM102.39,354.45h0.8v0.8h-0.8zM101.62,349.67h0.8v0.8h-0.8zM95.24,340.55h0.8v0.8h-0.8zM96.63,342.49h0.8v0.8h-0.8zM96.77,338.21h0.8v0.8h-0.8zM100.79,345.32h0.8v0.8h-0.8zM101.53,351.96h0.8v0.8h-0.8zM97.24,343.01h0.8v0.8h-0.8zM97.84,351.82h0.8v0.8h-0.8zM101.04,349.66h0.8v0.8h-0.8zM97.35,346.77h0.8v0.8h-0.8zM74.66,351.61h0.8v0.8h-0.8zM95.72,340.06h0.8v0.8h-0.8zM97.77,344.29h0.8v0.8h-0.8zM91.49,342.08h0.8v0.8h-0.8zM95.83,349.39h0.8v0.8h-0.8zM92.66,347.55h0.8v0.8h-0.8zM98.49,340.35h0.8v0.8h-0.8zM96.7,349.36h0.8v0.8h-0.8zM87.64,336.9h0.8v0.8h-0.8zM92.1,355.47h0.8v0.8h-0.8zM90.98,340.04h0.8v0.8h-0.8zM91.87,344.9h0.8v0.8h-0.8zM90.14,344.25h0.8v0.8h-0.8zM109.98,343.32h0.8v0.8h-0.8zM97.76,351.07h0.8v0.8h-0.8z" fill="#404040"/>
<path d="M106.96,373.12h0.84v0.84h-0.84zM102.96,373.55h0.84v0.84h-0.84zM109.38,368.44h0.84v0.84h-0.84zM98.47,360.53h0.84v0.84h-0.84zM97.03,378h0.84v0.84h-0.84zM98.03,367.03h0.84v0.84h-0.84zM101.96,379.75h0.84v0.84h-0.84zM101.86,371.67h0.84v0.84h-0.84zM98.26,370.79h0.84v0.84h-0.84zM106.34,358.29h0.84v0.84h-0.84zM101.56,369.84h0.84v0.84h-0.84zM105.39,368.55h0.84v0.84h-0.84zM107.26,364.08h0.84v0.84h-0.84zM101.85,364.44h0.84v0.84h-0.84zM98.14,375.63h0.84v0.84h-0.84zM101.59,371.15h0.84v0.84h-0.84zM106.25,375.47h0.84v0.84h-0.84zM114.19,371.76h0.84v0.84h-0.84zM94.1,372.97h0.84v0.84h-0.84zM99.6,373.09h0.84v0.84h-0.84zM99.99,372.54h0.84v0.84h-0.84zM103.67,376.28h0.84v0.84h-0.84zM98.23,374.22h0.84v0.84h-0.84zM107.69,376.07h0.84v0.84h-0.84zM92,364.51h0.84v0.84h-0.84zM100.51,368.51h0.84v0.84h-0.84zM102.33,378.38h0.84v0.84h-0.84zM97.14,371.82h0.84v0.84h-0.84zM104.85,364.1h0.84v0.84h-0.84zM103.21,373.86h0.84v0.84h-0.84zM103.88,371.42h0.84v0.84h-0.84zM97.77,374.78h0.84v0.84h-0.84zM92.94,374.63h0.84v0.84h-0.84zM104.85,371.16h0.84v0.84h-0.84zM99.59,377.03h0.84v0.84h-0.84zM104.8,368.43h0.84v0.84h-0.84zM110.63,375.21h0.84v0.84h-0.84zM97.66,374.85h0.84v0.84h-0.84zM98,376.16h0.84v0.84h-0.84zM106.52,370.19h0.84v0.84h-0.84zM105.97,367.97h0.84v0.84h-0.84zM108.54,367.47h0.84v0.84h-0.84zM98.25,371.37h0.84v0.84h-0.84zM102.62,363.65h0.84v0.84h-0.84zM95.38,375.35h0.84v0.84h-0.84zM105.33,373.69h0.84v0.84h-0.84zM104.91,372.9h0.84v0.84h-0.84zM101.29,371.24h0.84v0.84h-0.84zM104.87,380.43h0.84v0.84h-0.84zM103.5,370.83h0.84v0.84h-0.84zM105.97,367.4h0.84v0.84h-0.84zM103.43,371.18h0.84v0.84h-0.84zM103.36,368.5h0.84v0.84h-0.84zM104.99,371.09h0.84v0.84h-0.84zM105.85,366.55h0.84v0.84h-0.84zM93.27,367.17h0.84v0.84h-0.84zM95.7,366.41h0.84v0.84h-0.84zM105.04,375.6h0.84v0.84h-0.84zM107.53,370.34h0.84v0.84h-0.84zM100.33,368.19h0.84v0.84h-0.84zM99.34,365.89h0.84v0.84h-0.84zM112.52,375.41h0.84v0.84h-0.84zM97.79,374.68h0.84v0.84h-0.84zM96.86,369.13h0.84v0.84h-0.84zM101.75,372.33h0.84v0.84h-0.84zM102.1,362.74h0.84v0.84h-0.84zM109.06,372.7h0.84v0.84h-0.84zM106.88,371.74h0.84v0.84h-0.84zM106.87,381.03h0.84v0.84h-0.84zM102.29,366.76h0.84v0.84h-0.84zM100,374.18h0.84v0.84h-0.84zM100.03,374.01h0.84v0.84h-0.84zM104.89,371.88h0.84v0.84h-0.84zM109.61,369.88h0.84v0.84h-0.84zM105.04,367.23h0.84v0.84h-0.84zM106.39,368.63h0.84v0.84h-0.84zM97.71,360.92h0.84v0.84h-0.84zM100.18,373.72h0.84v0.84h-0.84zM104.19,365.99h0.84v0.84h-0.84zM97.37,370.9h0.84v0.84h-0.84zM103.05,370.46h0.84v0.84h-0.84zM100.66,376.78h0.84v0.84h-0.84zM108.04,370.76h0.84v0.84h-0.84zM103.46,372.04h0.84v0.84h-0.84zM99.75,365.65h0.84v0.84h-0.84zM102.63,372.8h0.84v0.84h-0.84zM97.06,375.47h0.84v0.84h-0.84zM98.92,362.96h0.84v0.84h-0.84zM98.12,366.61h0.84v0.84h-0.84zM107.82,368.14h0.84v0.84h-0.84zM100.11,370.16h0.84v0.84h-0.84zM95.97,375.15h0.84v0.84h-0.84zM99.23,365.12h0.84v0.84h-0.84zM105.79,371.17h0.84v0.84h-0.84zM102.55,373.31h0.84v0.84h-0.84zM107.13,366.91h0.84v0.84h-0.84zM100.95,365.2h0.84v0.84h-0.84zM94.96,364.51h0.84v0.84h-0.84zM103.14,376.04h0.84v0.84h-0.84zM99.72,372.97h0.84v0.84h-0.84zM102.01,370.35h0.84v0.84h-0.84zM104.6,368.97h0.84v0.84h-0.84zM101.07,373.97h0.84v0.84h-0.84zM112.21,364.9h0.84v0.84h-0.84zM107.63,374.58h0.84v0.84h-0.84zM89.54,368.54h0.84v0.84h-0.84zM104.54,375.73h0.84v0.84h-0.84zM98.73,370.43h0.84v0.84h-0.84zM96.25,371h0.84v0.84h-0.84zM109.02,379.57h0.84v0.84h-0.84zM98.94,370.57h0.84v0.84h-0.84zM96.02,375.21h0.84v0.84h-0.84zM108.06,372.16h0.84v0.84h-0.84zM101.07,374.4h0.84v0.84h-0.84zM102.07,365.3h0.84v0.84h-0.84zM103.73,373.08h0.84v0.84h-0.84zM98.69,372.49h0.84v0.84h-0.84zM104.27,370.7h0.84v0.84h-0.84zM102.29,373.58h0.84v0.84h-0.84zM102.21,377.18h0.84v0.84h-0.84zM105.62,379.53h0.84v0.84h-0.84zM105,375.05h0.84v0.84h-0.84zM104.43,371.32h0.84v0.84h-0.84zM101.44,370.57h0.84v0.84h-0.84zM105.59,371.01h0.84v0.84h-0.84zM103.32,380.34h0.84v0.84h-0.84zM107.67,369.25h0.84v0.84h-0.84zM101.5,371.82h0.84v0.84h-0.84zM102.4,369.7h0.84v0.84h-0.84zM106.4,377.17h0.84v0.84h-0.84zM103.14,374.36h0.84v0.84h-0.84zM105.25,376.71h0.84v0.84h-0.84zM102.02,370.8h0.84v0.84h-0.84zM103.94,372.12h0.84v0.84h-0.84zM107.85,368.7h0.84v0.84h-0.84zM103.72,374.42h0.84v0.84h-0.84zM102.93,368.24h0.84v0.84h-0.84zM97.64,363.88h0.84v0.84h-0.84zM104.39,376.43h0.84v0.84h-0.84zM104.14,377.7h0.84v0.84h-0.84zM101.53,370.54h0.84v0.84h-0.84zM103.6,367.29h0.84v0.84h-0.84zM95.05,374.75h0.84v0.84h-0.84zM105.41,374.48h0.84v0.84h-0.84zM101.5,376.26h0.84v0.84h-0.84zM103.58,370.34h0.84v0.84h-0.84zM98.58,372.19h0.84v0.84h-0.84zM100.81,369.53h0.84v0.84h-0.84zM96.79,375.84h0.84v0.84h-0.84zM106.75,372.48h0.84v0.84h-0.84zM105.06,367.74h0.84v0.84h-0.84zM107.46,374.33h0.84v0.84h-0.84zM103.18,370.2h0.84v0.84h-0.84zM100.3,376.27h0.84v0.84h-0.84zM108.23,368.33h0.84v0.84h-0.84zM109.54,370.61h0.84v0.84h-0.84zM101.03,378.29h0.84v0.84h-0.84zM108.01,372.06h0.84v0.84h-0.84zM93.84,370.78h0.84v0.84h-0.84zM102.41,373.64h0.84v0.84h-0.84zM98.97,372.46h0.84v0.84h-0.84zM101.21,373.35h0.84v0.84h-0.84zM100.34,374.33h0.84v0.84h-0.84zM103.34,368.23h0.84v0.84h-0.84zM103.25,371.01h0.84v0.84h-0.84zM102.37,367.69h0.84v0.84h-0.84zM106.78,370.53h0.84v0.84h-0.84zM101.26,377.13h0.84v0.84h-0.84zM106.08,370.15h0.84v0.84h-0.84zM110.45,366.01h0.84v0.84h-0.84zM103.01,369.56h0.84v0.84h-0.84zM102.65,370.73h0.84v0.84h-0.84zM105.08,372.78h0.84v0.84h-0.84zM102.59,374.95h0.84v0.84h-0.84zM103.13,369.18h0.84v0.84h-0.84zM110.22,369.34h0.84v0.84h-0.84zM101.17,373h0.84v0.84h-0.84zM103.76,377.5h0.84v0.84h-0.84zM101.61,367.94h0.84v0.84h-0.84zM100.8,367.12h0.84v0.84h-0.84zM64.76,371.19h0.84v0.84h-0.84zM85.94,373.55h0.84v0.84h-0.84zM92.52,369.37h0.84v0.84h-0.84zM93.28,376.95h0.84v0.84h-0.84zM81.27,371.76h0.84v0.84h-0.84zM78.88,363.97h0.84v0.84h-0.84zM99.43,374.13h0.84v0.84h-0.84zM99.82,364.57h0.84v0.84h-0.84zM104.39,362.09h0.84v0.84h-0.84zM96.5,358.43h0.84v0.84h-0.84zM78.78,365.26h0.84v0.84h-0.84zM98.5,365.82h0.84v0.84h-0.84zM85.6,370.43h0.84v0.84h-0.84zM81.36,362.23h0.84v0.84h-0.84zM96.63,358.3h0.84v0.84h-0.84zM91.23,363.79h0.84v0.84h-0.84zM83.21,373.86h0.84v0.84h-0.84zM74.04,369.32h0.84v0.84h-0.84zM87.25,363.72h0.84v0.84h-0.84zM74.61,374.66h0.84v0.84h-0.84zM73.39,375.25h0.84v0.84h-0.84zM103.29,371.99h0.84v0.84h-0.84zM86.19,369.64h0.84v0.84h-0.84zM102.87,369.01h0.84v0.84h-0.84zM68.98,370.35h0.84v0.84h-0.84zM77.4,363.62h0.84v0.84h-0.84zM89.42,369.74h0.84v0.84h-0.84zM81.13,371.94h0.84v0.84h-0.84zM70.93,372.68h0.84v0.84h-0.84zM87.88,362.99h0.84v0.84h-0.84zM84.48,375.71h0.84v0.84h-0.84zM95.48,365.41h0.84v0.84h-0.84zM88.13,372.83h0.84v0.84h-0.84zM89.36,365.03h0.84v0.84h-0.84zM100.88,358.74h0.84v0.84h-0.84zM80.34,362.89h0.84v0.84h-0.84zM68.03,373.98h0.84v0.84h-0.84zM104.47,367.85h0.84v0.84h-0.84zM96.23,363.04h0.84v0.84h-0.84zM63.13,376.09h0.84v0.84h-0.84zM101.91,366.67h0.84v0.84h-0.84zM104.45,366.52h0.84v0.84h-0.84zM105.4,375.64h0.84v0.84h-0.84zM103.28,375.02h0.84v0.84h-0.84zM85.47,374.71h0.84v0.84h-0.84zM77.41,363.2h0.84v0.84h-0.84zM77.14,374.59h0.84v0.84h-0.84zM88.5,374.51h0.84v0.84h-0.84zM86.31,368.46h0.84v0.84h-0.84zM91.66,362.8h0.84v0.84h-0.84zM100.4,359.95h0.84v0.84h-0.84zM91.91,374.74h0.84v0.84h-0.84zM97.06,373.82h0.84v0.84h-0.84zM77.19,367.82h0.84v0.84h-0.84zM95.44,360.86h0.84v0.84h-0.84zM95.56,361.26h0.84v0.84h-0.84zM69.96,367.28h0.84v0.84h-0.84zM79.11,374.23h0.84v0.84h-0.84zM90.11,364.53h0.84v0.84h-0.84zM101.45,377.71h0.84v0.84h-0.84zM104.06,349.25h0.84v0.84h-0.84zM96.12,345.06h0.84v0.84h-0.84zM112.4,347.31h0.84v0.84h-0.84zM99.83,353.48h0.84v0.84h-0.84zM96.71,356.61h0.84v0.84h-0.84zM87.52,342.63h0.84v0.84h-0.84zM116.34,366.87h0.84v0.84h-0.84zM112.71,350.02h0.84v0.84h-0.84zM75.29,364.88h0.84v0.84h-0.84zM101.65,355.55h0.84v0.84h-0.84zM123.93,344.76h0.84v0.84h-0.84zM97.48,348.89h0.84v0.84h-0.84zM100.98,349.66h0.84v0.84h-0.84zM89.48,363.9h0.84v0.84h-0.84zM105.25,353.16h0.84v0.84h-0.84zM98.89,327.31h0.84v0.84h-0.84zM107.24,352.59h0.84v0.84h-0.84zM103.05,367.61h0.84v0.84h-0.84zM88.23,354.81h0.84v0.84h-0.84zM100.82,365.4h0.84v0.84h-0.84zM128.64,357.65h0.84v0.84h-0.84zM116.02,348.14h0.84v0.84h-0.84zM104.22,356.09h0.84v0.84h-0.84zM108.89,353.17h0.84v0.84h-0.84zM131.06,363.53h0.84v0.84h-0.84z" fill="#E8792E"/>
<path d="M88.97,376.04 C88.77,374.81 88.77,372.39 89.05,369.97 C89.34,367.56 89.71,364.03 90.69,361.54 C91.66,359.04 93.47,356.79 94.9,355 C96.33,353.22 97.85,351.82 99.28,350.84 C100.7,349.86 102.16,349 103.47,349.11 C104.78,349.23 106.12,350.11 107.16,351.53 C108.2,352.95 109,355.19 109.72,357.63 C110.44,360.07 111.42,363.56 111.48,366.18 C111.53,368.8 110.89,371.58 110.05,373.36 C109.22,375.15 108.4,376.22 106.45,376.88 C104.5,377.53 101.07,377.21 98.36,377.29 C95.65,377.37 91.77,377.54 90.2,377.33 C88.64,377.12 89.16,377.26 88.97,376.04Z" fill="none" stroke="#262626" stroke-width="0.95"/>
<path d="M90.24,374.85 C90.07,373.77 90.55,371.36 90.95,369.33 C91.36,367.31 91.88,364.78 92.66,362.7 C93.44,360.63 94.57,358.3 95.62,356.86 C96.68,355.43 97.84,354.78 98.98,354.09 C100.12,353.41 101.36,352.72 102.46,352.76 C103.56,352.8 104.65,353.21 105.57,354.35 C106.5,355.48 107.32,357.58 107.99,359.58 C108.66,361.58 109.52,364.28 109.62,366.34 C109.72,368.39 109.41,370.42 108.58,371.92 C107.76,373.42 106.32,374.62 104.67,375.33 C103.02,376.03 100.82,376.07 98.7,376.15 C96.58,376.22 93.37,376.01 91.96,375.79 C90.55,375.58 90.41,375.93 90.24,374.85Z" fill="none" stroke="#262626" stroke-width="0.75"/>
<path d="M92.02,373.23 C91.92,372.37 92.29,370.66 92.6,369.12 C92.91,367.57 93.23,365.55 93.87,363.95 C94.51,362.34 95.57,360.68 96.43,359.48 C97.29,358.28 98.14,357.35 99.02,356.73 C99.9,356.1 100.78,355.71 101.73,355.74 C102.67,355.76 103.84,355.95 104.7,356.88 C105.56,357.82 106.43,359.72 106.88,361.34 C107.34,362.97 107.4,364.97 107.41,366.62 C107.41,368.27 107.49,369.97 106.91,371.25 C106.34,372.52 105.34,373.68 103.95,374.26 C102.57,374.83 100.41,374.68 98.61,374.69 C96.81,374.69 94.26,374.52 93.16,374.27 C92.06,374.03 92.11,374.09 92.02,373.23Z" fill="none" stroke="#262626" stroke-width="0.75"/>
<path d="M94.04,372.02 C93.91,371.4 94,370.24 94.21,369.07 C94.42,367.9 94.76,366.27 95.31,364.99 C95.85,363.7 96.82,362.28 97.49,361.34 C98.16,360.4 98.63,359.86 99.35,359.35 C100.06,358.85 101.03,358.25 101.78,358.31 C102.53,358.36 103.3,358.96 103.85,359.67 C104.4,360.38 104.75,361.34 105.08,362.57 C105.41,363.8 105.78,365.73 105.82,367.06 C105.85,368.39 105.77,369.67 105.28,370.56 C104.8,371.45 103.95,372.01 102.91,372.42 C101.87,372.83 100.33,372.95 99.02,373.02 C97.71,373.09 95.87,373.01 95.04,372.84 C94.21,372.67 94.18,372.65 94.04,372.02Z" fill="none" stroke="#262626" stroke-width="0.75"/>
<path d="M95.88,371.05 C95.82,370.65 95.72,369.75 95.86,368.88 C96.01,368.01 96.37,366.76 96.76,365.83 C97.16,364.89 97.76,363.9 98.24,363.27 C98.72,362.63 99.16,362.31 99.64,362.02 C100.13,361.72 100.67,361.47 101.15,361.49 C101.63,361.51 102.11,361.63 102.52,362.13 C102.93,362.63 103.37,363.62 103.6,364.49 C103.82,365.36 103.88,366.45 103.89,367.32 C103.9,368.2 103.98,369.09 103.66,369.75 C103.34,370.42 102.72,371.01 101.98,371.32 C101.24,371.62 100.17,371.6 99.21,371.6 C98.25,371.59 96.78,371.4 96.22,371.31 C95.67,371.22 95.94,371.46 95.88,371.05Z" fill="none" stroke="#262626" stroke-width="0.75"/>
<path d="M97.72,369.68 C97.7,369.46 97.78,368.95 97.87,368.48 C97.96,368 98.05,367.34 98.25,366.83 C98.44,366.33 98.79,365.82 99.05,365.45 C99.31,365.07 99.55,364.77 99.8,364.57 C100.04,364.38 100.27,364.23 100.53,364.28 C100.8,364.33 101.17,364.58 101.4,364.88 C101.64,365.18 101.81,365.63 101.95,366.08 C102.09,366.53 102.24,367.07 102.26,367.57 C102.27,368.07 102.2,368.72 102.03,369.1 C101.87,369.48 101.69,369.72 101.28,369.85 C100.87,369.98 100.12,369.89 99.57,369.88 C99.02,369.86 98.29,369.79 97.98,369.76 C97.67,369.72 97.74,369.89 97.72,369.68Z" fill="none" stroke="#262626" stroke-width="0.75"/>
<path d="M88.95,375.83 C88.77,374.9 89.04,372.6 89.57,370.33 C90.11,368.07 91.19,364.64 92.17,362.24 C93.14,359.84 94.28,357.54 95.42,355.94 C96.55,354.34 97.71,353.52 98.99,352.65 C100.27,351.78 101.84,350.6 103.09,350.74 C104.34,350.87 105.45,352.19 106.48,353.47 C107.52,354.75 108.71,356.31 109.29,358.42 C109.88,360.54 109.96,363.74 110.01,366.15 C110.07,368.57 110.34,371.27 109.62,372.92 C108.9,374.57 107.53,375.47 105.69,376.06 C103.86,376.65 101.11,376.49 98.6,376.47 C96.09,376.45 92.25,376.04 90.64,375.94 C89.03,375.83 89.13,376.76 88.95,375.83Z" fill="none" stroke="#E8792E" stroke-width="0.6"/>
<path d="M92.38,373.99 C92.25,373.19 92.51,371.5 92.81,369.88 C93.11,368.25 93.56,365.93 94.19,364.22 C94.83,362.52 95.66,360.88 96.61,359.62 C97.57,358.37 98.91,357.34 99.93,356.69 C100.94,356.05 101.79,355.65 102.69,355.77 C103.6,355.89 104.58,356.45 105.36,357.4 C106.14,358.36 107.02,359.87 107.38,361.49 C107.75,363.11 107.62,365.4 107.56,367.12 C107.5,368.84 107.52,370.59 107.04,371.81 C106.56,373.03 106.08,373.95 104.69,374.45 C103.3,374.96 100.54,374.8 98.7,374.84 C96.85,374.89 94.68,374.86 93.63,374.72 C92.58,374.57 92.52,374.8 92.38,373.99Z" fill="none" stroke="#E8792E" stroke-width="0.6"/>
<path d="M95.46,372.38 C95.43,371.85 95.47,370.48 95.59,369.41 C95.72,368.34 95.81,367.07 96.2,365.96 C96.6,364.84 97.32,363.64 97.97,362.74 C98.62,361.84 99.49,360.99 100.11,360.55 C100.73,360.11 101.15,360.01 101.71,360.1 C102.28,360.19 102.97,360.5 103.51,361.11 C104.04,361.71 104.58,362.63 104.9,363.72 C105.22,364.81 105.44,366.45 105.44,367.66 C105.43,368.87 105.22,370.17 104.86,370.98 C104.51,371.79 104.19,372.24 103.33,372.52 C102.46,372.8 100.95,372.63 99.69,372.65 C98.43,372.67 96.48,372.69 95.78,372.64 C95.07,372.6 95.49,372.92 95.46,372.38Z" fill="none" stroke="#E8792E" stroke-width="0.6"/>
<path d="M98.19,370.63 C98.14,370.38 98.04,369.88 98.1,369.32 C98.17,368.77 98.34,367.9 98.59,367.29 C98.85,366.68 99.3,366.07 99.62,365.65 C99.94,365.23 100.2,364.97 100.5,364.77 C100.8,364.57 101.12,364.41 101.43,364.46 C101.73,364.5 102.07,364.69 102.34,365.03 C102.61,365.37 102.89,365.94 103.04,366.49 C103.2,367.03 103.27,367.73 103.26,368.3 C103.25,368.86 103.21,369.46 103,369.87 C102.79,370.29 102.48,370.65 102.02,370.81 C101.57,370.97 100.89,370.85 100.29,370.85 C99.69,370.85 98.75,370.87 98.4,370.83 C98.05,370.8 98.24,370.89 98.19,370.63Z" fill="none" stroke="#E8792E" stroke-width="0.6"/>
<path d="M67.63,370.93 C67.72,370.07 70.34,368.41 71.35,368.45 C72.37,368.49 73.82,370.31 73.73,371.17 C73.64,372.02 71.82,373.62 70.81,373.58 C69.79,373.54 67.54,371.78 67.63,370.93Z" fill="none" stroke="#444" stroke-width="0.6"/>
<path d="M69.37,371.13 C69.34,370.72 70.22,369.7 70.78,369.64 C71.33,369.59 72.69,370.39 72.71,370.79 C72.74,371.2 71.5,372.04 70.95,372.09 C70.39,372.15 69.39,371.54 69.37,371.13Z" fill="none" stroke="#444" stroke-width="0.6"/>
<path d="M100.46,474.45h0.8v0.8h-0.8zM103.78,475.29h0.8v0.8h-0.8zM75.31,475.73h0.8v0.8h-0.8zM91.62,464.43h0.8v0.8h-0.8zM100.04,466.87h0.8v0.8h-0.8zM79.85,461.68h0.8v0.8h-0.8zM80.12,475.37h0.8v0.8h-0.8zM97.83,468.34h0.8v0.8h-0.8zM76.27,467.3h0.8v0.8h-0.8zM96.59,467.25h0.8v0.8h-0.8zM89.85,474.37h0.8v0.8h-0.8zM91.04,475.92h0.8v0.8h-0.8zM102.11,460.54h0.8v0.8h-0.8zM96.88,462.05h0.8v0.8h-0.8zM71.22,473.1h0.8v0.8h-0.8zM67.9,473.89h0.8v0.8h-0.8zM104.87,463.02h0.8v0.8h-0.8zM103.1,459.54h0.8v0.8h-0.8zM91.91,467.99h0.8v0.8h-0.8zM73.71,472.69h0.8v0.8h-0.8zM78.26,473.58h0.8v0.8h-0.8zM76,477.5h0.8v0.8h-0.8zM84.07,465.58h0.8v0.8h-0.8zM75,471.94h0.8v0.8h-0.8zM83.49,475.77h0.8v0.8h-0.8zM69.38,474.74h0.8v0.8h-0.8zM86,476.42h0.8v0.8h-0.8zM101.68,462.05h0.8v0.8h-0.8zM105.88,472.66h0.8v0.8h-0.8zM100.71,472.14h0.8v0.8h-0.8zM76.98,472.97h0.8v0.8h-0.8zM90.4,473.87h0.8v0.8h-0.8zM88.82,467.78h0.8v0.8h-0.8zM84.29,467.28h0.8v0.8h-0.8zM89.98,472.98h0.8v0.8h-0.8zM67.76,469.02h0.8v0.8h-0.8zM72.75,472.52h0.8v0.8h-0.8zM95.87,470.88h0.8v0.8h-0.8zM70.42,467.17h0.8v0.8h-0.8zM65.42,465.63h0.8v0.8h-0.8zM97.23,476.23h0.8v0.8h-0.8zM96.8,477.39h0.8v0.8h-0.8zM88.35,462.28h0.8v0.8h-0.8zM86.75,466.56h0.8v0.8h-0.8zM81.49,474.35h0.8v0.8h-0.8zM69.22,465.7h0.8v0.8h-0.8zM93,474.25h0.8v0.8h-0.8zM71.02,473.61h0.8v0.8h-0.8zM105.09,458.31h0.8v0.8h-0.8zM100.01,474.83h0.8v0.8h-0.8zM84.32,476.2h0.8v0.8h-0.8zM79.57,467.43h0.8v0.8h-0.8zM96.33,471.51h0.8v0.8h-0.8zM99.74,469.01h0.8v0.8h-0.8zM66.16,471.33h0.8v0.8h-0.8zM100.92,475.16h0.8v0.8h-0.8zM89.23,461.51h0.8v0.8h-0.8zM103.21,461.18h0.8v0.8h-0.8zM106.72,467.55h0.8v0.8h-0.8zM76.99,479.01h0.8v0.8h-0.8zM83.75,469.63h0.8v0.8h-0.8zM68.06,465.24h0.8v0.8h-0.8zM97.76,477.22h0.8v0.8h-0.8zM91.98,472.77h0.8v0.8h-0.8zM99.81,457.6h0.8v0.8h-0.8zM77.64,479.15h0.8v0.8h-0.8zM77.58,472.4h0.8v0.8h-0.8zM73.61,469.33h0.8v0.8h-0.8zM107.01,462.13h0.8v0.8h-0.8zM96.63,460.12h0.8v0.8h-0.8zM86.11,469.54h0.8v0.8h-0.8zM86.97,477.98h0.8v0.8h-0.8zM84.36,477.01h0.8v0.8h-0.8zM102.26,473.38h0.8v0.8h-0.8zM91.15,458.37h0.8v0.8h-0.8zM103.87,464.75h0.8v0.8h-0.8zM71.28,473.37h0.8v0.8h-0.8zM82.4,472.62h0.8v0.8h-0.8zM95.01,464.98h0.8v0.8h-0.8zM78.02,463.87h0.8v0.8h-0.8zM83.62,461.12h0.8v0.8h-0.8zM89.58,463.17h0.8v0.8h-0.8zM94.13,477.54h0.8v0.8h-0.8zM79.85,472.4h0.8v0.8h-0.8zM95.74,460.61h0.8v0.8h-0.8zM85.65,461.9h0.8v0.8h-0.8zM99.48,471.48h0.8v0.8h-0.8zM89.7,472.69h0.8v0.8h-0.8zM88.61,468.98h0.8v0.8h-0.8zM87.66,469.52h0.8v0.8h-0.8zM71.45,472.73h0.8v0.8h-0.8zM99.17,474.33h0.8v0.8h-0.8zM74.44,471.73h0.8v0.8h-0.8zM100.58,473.01h0.8v0.8h-0.8zM87.69,464.62h0.8v0.8h-0.8zM74.82,464.91h0.8v0.8h-0.8zM89.67,463.74h0.8v0.8h-0.8zM66.18,469.56h0.8v0.8h-0.8zM95.38,460.9h0.8v0.8h-0.8zM81.88,478h0.8v0.8h-0.8zM94.09,476.3h0.8v0.8h-0.8zM102.14,468.89h0.8v0.8h-0.8zM75.29,472.84h0.8v0.8h-0.8zM96.82,458.68h0.8v0.8h-0.8zM96.3,477.34h0.8v0.8h-0.8zM90.77,464.51h0.8v0.8h-0.8zM102.56,458.74h0.8v0.8h-0.8zM82.86,465.28h0.8v0.8h-0.8zM87.38,465.04h0.8v0.8h-0.8zM77.63,479.44h0.8v0.8h-0.8zM87.03,473.9h0.8v0.8h-0.8zM88.8,479.36h0.8v0.8h-0.8zM103.79,479.66h0.8v0.8h-0.8zM100.82,467.41h0.8v0.8h-0.8zM91.91,476.12h0.8v0.8h-0.8zM85.2,474.57h0.8v0.8h-0.8zM75.74,476.48h0.8v0.8h-0.8zM97.39,467h0.8v0.8h-0.8zM79.78,476.72h0.8v0.8h-0.8zM64.64,469.38h0.8v0.8h-0.8zM75.04,465.33h0.8v0.8h-0.8zM94.37,470.25h0.8v0.8h-0.8zM78.23,477.27h0.8v0.8h-0.8zM70.45,478.34h0.8v0.8h-0.8zM103.91,457.42h0.8v0.8h-0.8zM98.33,474.41h0.8v0.8h-0.8zM84.11,468.65h0.8v0.8h-0.8zM68.32,470.66h0.8v0.8h-0.8zM106,466.71h0.8v0.8h-0.8zM100.96,462.94h0.8v0.8h-0.8zM96.79,471.65h0.8v0.8h-0.8zM90.78,468.72h0.8v0.8h-0.8zM100.76,468.04h0.8v0.8h-0.8zM79.74,465.51h0.8v0.8h-0.8zM88.87,462.07h0.8v0.8h-0.8zM106.12,469.38h0.8v0.8h-0.8zM102.24,468.88h0.8v0.8h-0.8zM97.71,474.29h0.8v0.8h-0.8zM96.22,465.66h0.8v0.8h-0.8zM75.26,463.41h0.8v0.8h-0.8zM104.55,473.11h0.8v0.8h-0.8zM72.79,476.76h0.8v0.8h-0.8zM82.01,476.45h0.8v0.8h-0.8zM90.6,463.84h0.8v0.8h-0.8zM91.02,463.89h0.8v0.8h-0.8zM73.93,465.37h0.8v0.8h-0.8zM95.72,474.67h0.8v0.8h-0.8zM99.4,476.65h0.8v0.8h-0.8zM106.3,465.73h0.8v0.8h-0.8zM80.22,476.64h0.8v0.8h-0.8zM103.71,462.12h0.8v0.8h-0.8zM65.52,471.61h0.8v0.8h-0.8zM103.07,467.67h0.8v0.8h-0.8zM89.09,459.48h0.8v0.8h-0.8zM84.8,466.2h0.8v0.8h-0.8zM74.57,471.1h0.8v0.8h-0.8zM98.44,472.14h0.8v0.8h-0.8zM75.6,464.59h0.8v0.8h-0.8zM77.46,477.88h0.8v0.8h-0.8zM70,472.49h0.8v0.8h-0.8zM101.59,475.36h0.8v0.8h-0.8zM69.86,475.03h0.8v0.8h-0.8zM66.09,475.81h0.8v0.8h-0.8zM73.92,464.48h0.8v0.8h-0.8zM101.32,458.14h0.8v0.8h-0.8zM92.41,462.65h0.8v0.8h-0.8zM69.51,475.94h0.8v0.8h-0.8zM71.59,470.34h0.8v0.8h-0.8zM83.79,475.6h0.8v0.8h-0.8zM79.1,474.71h0.8v0.8h-0.8zM95.22,472.43h0.8v0.8h-0.8zM98.78,469.95h0.8v0.8h-0.8zM75.01,466.88h0.8v0.8h-0.8zM96.36,468.26h0.8v0.8h-0.8zM66.18,469.44h0.8v0.8h-0.8zM77.39,464.89h0.8v0.8h-0.8zM65.47,476.92h0.8v0.8h-0.8zM71.12,470.7h0.8v0.8h-0.8zM92.77,472.48h0.8v0.8h-0.8zM76.07,468.02h0.8v0.8h-0.8zM96.73,470.81h0.8v0.8h-0.8zM87.49,470.85h0.8v0.8h-0.8zM82.63,461.15h0.8v0.8h-0.8zM85.35,475.07h0.8v0.8h-0.8zM96.64,471.51h0.8v0.8h-0.8zM104.45,475.36h0.8v0.8h-0.8zM94.61,461.87h0.8v0.8h-0.8zM101.11,458.42h0.8v0.8h-0.8zM86.6,477.81h0.8v0.8h-0.8zM79.67,471.29h0.8v0.8h-0.8zM71.89,474.6h0.8v0.8h-0.8zM103.08,467.84h0.8v0.8h-0.8zM99.73,475.07h0.8v0.8h-0.8zM103.33,462.68h0.8v0.8h-0.8zM92.08,471.46h0.8v0.8h-0.8zM98.45,473.56h0.8v0.8h-0.8zM66.42,474.73h0.8v0.8h-0.8zM73.19,472.7h0.8v0.8h-0.8zM101.8,463.83h0.8v0.8h-0.8zM79.87,468.01h0.8v0.8h-0.8zM102.89,463.78h0.8v0.8h-0.8zM99.84,475.99h0.8v0.8h-0.8zM82.67,471.09h0.8v0.8h-0.8zM84.49,475.88h0.8v0.8h-0.8zM65.49,475.69h0.8v0.8h-0.8zM88.87,476.84h0.8v0.8h-0.8zM97.33,471.14h0.8v0.8h-0.8zM105.62,470.5h0.8v0.8h-0.8zM76.12,465.32h0.8v0.8h-0.8zM64.51,469.96h0.8v0.8h-0.8zM104.52,467.92h0.8v0.8h-0.8zM101.38,462.99h0.8v0.8h-0.8zM84.73,470.97h0.8v0.8h-0.8zM91.66,467.28h0.8v0.8h-0.8zM90.41,469.4h0.8v0.8h-0.8zM93.46,479.31h0.8v0.8h-0.8zM77.23,475.09h0.8v0.8h-0.8zM65.99,478.88h0.8v0.8h-0.8zM72.9,467.09h0.8v0.8h-0.8zM103.39,476.77h0.8v0.8h-0.8zM87.09,462.27h0.8v0.8h-0.8zM75.27,464.23h0.8v0.8h-0.8zM90.06,463.07h0.8v0.8h-0.8zM104.34,464.36h0.8v0.8h-0.8zM84.55,478.38h0.8v0.8h-0.8zM96.12,475.66h0.8v0.8h-0.8zM101.38,460.16h0.8v0.8h-0.8zM66.18,473h0.8v0.8h-0.8zM68.4,468.01h0.8v0.8h-0.8zM87.34,471.08h0.8v0.8h-0.8zM69.24,476.56h0.8v0.8h-0.8zM79.71,467.18h0.8v0.8h-0.8zM102.01,461.74h0.8v0.8h-0.8zM94.01,463.95h0.8v0.8h-0.8zM76.49,467.62h0.8v0.8h-0.8zM98.14,472.41h0.8v0.8h-0.8zM71.02,473.88h0.8v0.8h-0.8zM104.21,474.6h0.8v0.8h-0.8zM65.49,469.84h0.8v0.8h-0.8zM84.89,464.16h0.8v0.8h-0.8zM73.47,475.48h0.8v0.8h-0.8zM97.62,469.2h0.8v0.8h-0.8zM77.03,473.15h0.8v0.8h-0.8zM83.63,473.61h0.8v0.8h-0.8zM106.33,461.8h0.8v0.8h-0.8zM83.4,470.57h0.8v0.8h-0.8zM86.78,461.63h0.8v0.8h-0.8zM74.42,463.59h0.8v0.8h-0.8zM105,470.8h0.8v0.8h-0.8zM96.23,469.98h0.8v0.8h-0.8zM104.19,476.79h0.8v0.8h-0.8zM99.64,463.24h0.8v0.8h-0.8zM77.18,476.44h0.8v0.8h-0.8zM80.19,467.37h0.8v0.8h-0.8zM90.81,467.99h0.8v0.8h-0.8zM69.42,475.12h0.8v0.8h-0.8zM85.57,476.93h0.8v0.8h-0.8zM87.01,461.14h0.8v0.8h-0.8zM69.59,466.05h0.8v0.8h-0.8zM77.85,467.91h0.8v0.8h-0.8zM76.07,477.81h0.8v0.8h-0.8zM103.55,457.24h0.8v0.8h-0.8zM90.52,470.72h0.8v0.8h-0.8zM92.73,475.44h0.8v0.8h-0.8zM79.04,471.07h0.8v0.8h-0.8zM73.65,477.39h0.8v0.8h-0.8zM97.79,475.22h0.8v0.8h-0.8zM94.35,477.45h0.8v0.8h-0.8zM89.31,465.86h0.8v0.8h-0.8zM99.42,460.49h0.8v0.8h-0.8zM75.32,472.48h0.8v0.8h-0.8zM70.69,470.97h0.8v0.8h-0.8zM71.64,474.6h0.8v0.8h-0.8zM80.85,473.64h0.8v0.8h-0.8zM77.78,464.46h0.8v0.8h-0.8zM79.64,472.38h0.8v0.8h-0.8zM82.14,474.8h0.8v0.8h-0.8zM66.04,470.57h0.8v0.8h-0.8zM87.38,463.52h0.8v0.8h-0.8zM88.04,466.32h0.8v0.8h-0.8zM95.46,474.67h0.8v0.8h-0.8zM71.68,476.68h0.8v0.8h-0.8zM71.6,471.38h0.8v0.8h-0.8zM88.07,468.33h0.8v0.8h-0.8zM82.92,466.93h0.8v0.8h-0.8zM74.46,466.27h0.8v0.8h-0.8zM98.45,474.12h0.8v0.8h-0.8zM83.33,474.26h0.8v0.8h-0.8zM104.94,466.14h0.8v0.8h-0.8zM85.14,471.95h0.8v0.8h-0.8zM65,473.78h0.8v0.8h-0.8zM88.86,471.07h0.8v0.8h-0.8zM71.42,470.03h0.8v0.8h-0.8zM91.4,477.23h0.8v0.8h-0.8zM97.82,474.41h0.8v0.8h-0.8zM81.5,468.41h0.8v0.8h-0.8zM85.91,475.54h0.8v0.8h-0.8zM91.62,467.22h0.8v0.8h-0.8zM97.18,461.89h0.8v0.8h-0.8zM93.5,461.8h0.8v0.8h-0.8zM96.88,468.53h0.8v0.8h-0.8zM78.09,468.26h0.8v0.8h-0.8zM72.02,467.42h0.8v0.8h-0.8zM85.64,473.6h0.8v0.8h-0.8zM69.78,465.37h0.8v0.8h-0.8zM66.28,471.93h0.8v0.8h-0.8zM80.62,471.18h0.8v0.8h-0.8zM76.93,466.35h0.8v0.8h-0.8zM88.57,472.68h0.8v0.8h-0.8zM76.54,466.77h0.8v0.8h-0.8zM94.58,462.25h0.8v0.8h-0.8zM99.44,468.87h0.8v0.8h-0.8zM64.36,474.68h0.8v0.8h-0.8zM72.28,464.55h0.8v0.8h-0.8zM98.61,467.8h0.8v0.8h-0.8zM99.69,472.61h0.8v0.8h-0.8zM78.32,475.98h0.8v0.8h-0.8zM98.54,464.83h0.8v0.8h-0.8zM97.55,472.56h0.8v0.8h-0.8zM73.41,474.19h0.8v0.8h-0.8zM68.28,473.84h0.8v0.8h-0.8zM91.7,474.38h0.8v0.8h-0.8zM81.04,477.03h0.8v0.8h-0.8zM87.43,466.66h0.8v0.8h-0.8zM88.61,466.05h0.8v0.8h-0.8zM97.87,459.69h0.8v0.8h-0.8zM96.26,470.49h0.8v0.8h-0.8zM98.07,471.93h0.8v0.8h-0.8zM98.86,477.8h0.8v0.8h-0.8zM100.35,477.13h0.8v0.8h-0.8zM79.11,469.87h0.8v0.8h-0.8zM70.9,462.74h0.8v0.8h-0.8zM106.34,472.21h0.8v0.8h-0.8zM100.25,465.97h0.8v0.8h-0.8zM97.84,458.28h0.8v0.8h-0.8zM75.95,478.26h0.8v0.8h-0.8zM89.89,462.85h0.8v0.8h-0.8zM101.37,461.6h0.8v0.8h-0.8zM100.06,468.82h0.8v0.8h-0.8zM102.27,462.47h0.8v0.8h-0.8zM97.62,469.61h0.8v0.8h-0.8zM114.06,465.3h0.8v0.8h-0.8zM100.64,468.13h0.8v0.8h-0.8zM103.69,458.38h0.8v0.8h-0.8zM91.36,461.73h0.8v0.8h-0.8zM107.92,457.66h0.8v0.8h-0.8zM97.12,459.69h0.8v0.8h-0.8zM94.34,462.41h0.8v0.8h-0.8zM100.02,463.25h0.8v0.8h-0.8zM99.59,468.78h0.8v0.8h-0.8zM90.96,459.22h0.8v0.8h-0.8zM105.21,468.77h0.8v0.8h-0.8zM105.07,469.29h0.8v0.8h-0.8zM89.29,458.19h0.8v0.8h-0.8zM99.55,456.53h0.8v0.8h-0.8zM95.56,471.95h0.8v0.8h-0.8zM84.95,456.44h0.8v0.8h-0.8zM101.14,470.26h0.8v0.8h-0.8zM107.65,465.72h0.8v0.8h-0.8zM97.06,462.69h0.8v0.8h-0.8zM106.9,465.58h0.8v0.8h-0.8zM116.59,452.75h0.8v0.8h-0.8zM108.65,465.62h0.8v0.8h-0.8zM101.23,466.69h0.8v0.8h-0.8zM88.62,461.06h0.8v0.8h-0.8zM93.6,467.6h0.8v0.8h-0.8zM100.7,460.54h0.8v0.8h-0.8zM108.8,473.6h0.8v0.8h-0.8zM88.13,466.46h0.8v0.8h-0.8zM97.53,459.88h0.8v0.8h-0.8zM92.79,459.95h0.8v0.8h-0.8zM94.61,476.09h0.8v0.8h-0.8zM103,453.61h0.8v0.8h-0.8zM113.93,463.74h0.8v0.8h-0.8zM107.44,460.64h0.8v0.8h-0.8zM104.71,458.44h0.8v0.8h-0.8zM90.43,465.96h0.8v0.8h-0.8zM101.02,451.94h0.8v0.8h-0.8zM86.56,475.48h0.8v0.8h-0.8zM106.81,461.35h0.8v0.8h-0.8zM98.7,461.57h0.8v0.8h-0.8zM101.88,471.75h0.8v0.8h-0.8zM98.31,472.77h0.8v0.8h-0.8zM109.57,465.72h0.8v0.8h-0.8zM94.71,478.07h0.8v0.8h-0.8zM89.1,462.12h0.8v0.8h-0.8zM102.07,481.75h0.8v0.8h-0.8zM94.13,467.84h0.8v0.8h-0.8zM111.67,473.56h0.8v0.8h-0.8zM109.82,467.02h0.8v0.8h-0.8zM109.67,459.57h0.8v0.8h-0.8zM97.9,476.26h0.8v0.8h-0.8zM102.04,474.01h0.8v0.8h-0.8zM100.42,457.67h0.8v0.8h-0.8zM96.54,471.83h0.8v0.8h-0.8zM100.45,462.72h0.8v0.8h-0.8zM95.32,471.81h0.8v0.8h-0.8zM96.6,472.86h0.8v0.8h-0.8zM104.55,458.49h0.8v0.8h-0.8zM101.92,482h0.8v0.8h-0.8zM100.04,457.61h0.8v0.8h-0.8zM101.03,471.02h0.8v0.8h-0.8zM88.84,467.97h0.8v0.8h-0.8zM102.94,469.19h0.8v0.8h-0.8zM107.31,469.93h0.8v0.8h-0.8zM95.68,470.27h0.8v0.8h-0.8zM100.79,462.63h0.8v0.8h-0.8zM93.12,472.94h0.8v0.8h-0.8zM101.1,466.94h0.8v0.8h-0.8zM105.9,473.47h0.8v0.8h-0.8zM107.11,461.77h0.8v0.8h-0.8zM98.65,474.97h0.8v0.8h-0.8zM101.06,456.1h0.8v0.8h-0.8zM104.34,461.02h0.8v0.8h-0.8zM95.77,461.42h0.8v0.8h-0.8zM97.31,465.91h0.8v0.8h-0.8zM104.75,451.96h0.8v0.8h-0.8zM94.28,465.58h0.8v0.8h-0.8zM98.19,471.9h0.8v0.8h-0.8zM87.68,465.9h0.8v0.8h-0.8zM111.69,468.3h0.8v0.8h-0.8zM102.88,466.07h0.8v0.8h-0.8zM115.4,472.44h0.8v0.8h-0.8zM96.79,467.65h0.8v0.8h-0.8zM100.03,474.7h0.8v0.8h-0.8zM100.62,460.16h0.8v0.8h-0.8zM98.69,476.57h0.8v0.8h-0.8zM98.46,470.63h0.8v0.8h-0.8zM101.05,467.82h0.8v0.8h-0.8zM112.12,457.01h0.8v0.8h-0.8zM99.46,471.73h0.8v0.8h-0.8zM107.55,456.21h0.8v0.8h-0.8zM79.62,478.51h0.8v0.8h-0.8zM92.73,467.04h0.8v0.8h-0.8zM97.18,469.04h0.8v0.8h-0.8zM91.11,462.51h0.8v0.8h-0.8zM88.68,460.94h0.8v0.8h-0.8zM110.26,461.51h0.8v0.8h-0.8zM100.64,464.7h0.8v0.8h-0.8zM104.29,464.91h0.8v0.8h-0.8zM101.44,472.32h0.8v0.8h-0.8zM88.14,462.56h0.8v0.8h-0.8zM98.68,464.92h0.8v0.8h-0.8zM100.42,463.43h0.8v0.8h-0.8zM102.32,478.56h0.8v0.8h-0.8zM104.72,457.87h0.8v0.8h-0.8zM96.76,467.49h0.8v0.8h-0.8zM101.93,472.1h0.8v0.8h-0.8zM110.79,460.71h0.8v0.8h-0.8zM97.31,469.57h0.8v0.8h-0.8zM99.34,462.66h0.8v0.8h-0.8zM103.95,447.53h0.8v0.8h-0.8zM95.64,470.54h0.8v0.8h-0.8zM93.13,461.14h0.8v0.8h-0.8zM112.38,460.72h0.8v0.8h-0.8zM95.36,466.55h0.8v0.8h-0.8zM101.88,462.6h0.8v0.8h-0.8zM99.7,468.14h0.8v0.8h-0.8zM99.6,449.82h0.8v0.8h-0.8zM94.8,454.23h0.8v0.8h-0.8zM90.53,449.4h0.8v0.8h-0.8zM83.03,454.56h0.8v0.8h-0.8zM98.06,450.91h0.8v0.8h-0.8zM94.36,452.19h0.8v0.8h-0.8zM97.46,458.4h0.8v0.8h-0.8zM92.83,451.89h0.8v0.8h-0.8zM106.63,445.54h0.8v0.8h-0.8zM87.39,444.92h0.8v0.8h-0.8zM102.73,452.65h0.8v0.8h-0.8zM97.14,450.51h0.8v0.8h-0.8zM103.85,448.66h0.8v0.8h-0.8zM109.21,450.94h0.8v0.8h-0.8zM91.1,456.51h0.8v0.8h-0.8zM99.51,452.7h0.8v0.8h-0.8zM94.72,450.05h0.8v0.8h-0.8zM92.14,444.92h0.8v0.8h-0.8zM93.44,457.37h0.8v0.8h-0.8zM108.55,455.53h0.8v0.8h-0.8zM96.95,450.65h0.8v0.8h-0.8zM94.73,450.34h0.8v0.8h-0.8zM96.34,445.41h0.8v0.8h-0.8zM94.56,448.92h0.8v0.8h-0.8zM100.55,451.51h0.8v0.8h-0.8z" fill="#404040"/>
<path d="M101.62,472.28h0.84v0.84h-0.84zM107.08,464.68h0.84v0.84h-0.84zM106.36,470.15h0.84v0.84h-0.84zM96.15,466.68h0.84v0.84h-0.84zM96.39,477.08h0.84v0.84h-0.84zM100.35,474.93h0.84v0.84h-0.84zM96.32,469.98h0.84v0.84h-0.84zM104.68,477.57h0.84v0.84h-0.84zM97.28,464.96h0.84v0.84h-0.84zM107.9,475.37h0.84v0.84h-0.84zM99.88,463.54h0.84v0.84h-0.84zM98.74,475.6h0.84v0.84h-0.84zM92.44,467.56h0.84v0.84h-0.84zM102.27,473.12h0.84v0.84h-0.84zM91.2,468.96h0.84v0.84h-0.84zM95.61,473.44h0.84v0.84h-0.84zM102.4,473.74h0.84v0.84h-0.84zM99.2,473.08h0.84v0.84h-0.84zM100.87,475.07h0.84v0.84h-0.84zM101.49,471.68h0.84v0.84h-0.84zM98.59,473.76h0.84v0.84h-0.84zM97.13,466.04h0.84v0.84h-0.84zM106.62,481.38h0.84v0.84h-0.84zM104.82,470.93h0.84v0.84h-0.84zM100.04,469.93h0.84v0.84h-0.84zM107.33,480.42h0.84v0.84h-0.84zM109.49,466.57h0.84v0.84h-0.84zM108.36,477.06h0.84v0.84h-0.84zM100.3,470.77h0.84v0.84h-0.84zM107.07,478.21h0.84v0.84h-0.84zM98.5,475.8h0.84v0.84h-0.84zM106.99,469.82h0.84v0.84h-0.84zM101.2,470.31h0.84v0.84h-0.84zM106.02,476.57h0.84v0.84h-0.84zM105.55,474.75h0.84v0.84h-0.84zM103.02,474.75h0.84v0.84h-0.84zM103.43,463.8h0.84v0.84h-0.84zM108.19,475.39h0.84v0.84h-0.84zM98.7,479.33h0.84v0.84h-0.84zM101.3,470.82h0.84v0.84h-0.84zM92.96,470.14h0.84v0.84h-0.84zM101.35,473.06h0.84v0.84h-0.84zM98.63,466.76h0.84v0.84h-0.84zM102.03,476.94h0.84v0.84h-0.84zM98.87,476.43h0.84v0.84h-0.84zM104.91,474.27h0.84v0.84h-0.84zM99.5,476.69h0.84v0.84h-0.84zM101.13,474.18h0.84v0.84h-0.84zM99.57,467.33h0.84v0.84h-0.84zM97.9,470.68h0.84v0.84h-0.84zM90.72,474.85h0.84v0.84h-0.84zM103.56,474.88h0.84v0.84h-0.84zM96.03,473h0.84v0.84h-0.84zM97.34,475.39h0.84v0.84h-0.84zM110.51,471.05h0.84v0.84h-0.84zM99.95,475.49h0.84v0.84h-0.84zM108.2,470.42h0.84v0.84h-0.84zM107.8,473.39h0.84v0.84h-0.84zM105.3,478.93h0.84v0.84h-0.84zM102.97,467.46h0.84v0.84h-0.84zM100.3,470.48h0.84v0.84h-0.84zM99.81,470.59h0.84v0.84h-0.84zM97.83,474.29h0.84v0.84h-0.84zM99.99,468.19h0.84v0.84h-0.84zM93.36,470.06h0.84v0.84h-0.84zM98.86,471.45h0.84v0.84h-0.84zM102.38,468.26h0.84v0.84h-0.84zM100.77,475.26h0.84v0.84h-0.84zM102.19,472.91h0.84v0.84h-0.84zM100.17,479.65h0.84v0.84h-0.84zM102.87,470.33h0.84v0.84h-0.84zM108.31,480.3h0.84v0.84h-0.84zM113.5,474.53h0.84v0.84h-0.84zM108.92,478.76h0.84v0.84h-0.84zM114.31,475.97h0.84v0.84h-0.84zM105.88,468.94h0.84v0.84h-0.84zM101.49,475.73h0.84v0.84h-0.84zM101.67,473.22h0.84v0.84h-0.84zM109.42,470.84h0.84v0.84h-0.84zM101.27,471h0.84v0.84h-0.84zM98.92,476.26h0.84v0.84h-0.84zM105.98,474.78h0.84v0.84h-0.84zM103.4,477.68h0.84v0.84h-0.84zM95.01,473.05h0.84v0.84h-0.84zM97.34,468.07h0.84v0.84h-0.84zM99.91,476.46h0.84v0.84h-0.84zM102.11,473.94h0.84v0.84h-0.84zM103.68,473.36h0.84v0.84h-0.84zM94.58,473.77h0.84v0.84h-0.84zM104.29,469.57h0.84v0.84h-0.84zM96.27,471.31h0.84v0.84h-0.84zM100.51,472.56h0.84v0.84h-0.84zM99.43,471.7h0.84v0.84h-0.84zM104.94,473.04h0.84v0.84h-0.84zM109.26,469.13h0.84v0.84h-0.84zM100.25,471.24h0.84v0.84h-0.84zM110.5,480.36h0.84v0.84h-0.84zM111.05,469.7h0.84v0.84h-0.84zM95.29,477.1h0.84v0.84h-0.84zM106.92,474.04h0.84v0.84h-0.84zM94.49,473.49h0.84v0.84h-0.84zM99.64,480.93h0.84v0.84h-0.84zM101.4,473.4h0.84v0.84h-0.84zM95.25,472.87h0.84v0.84h-0.84zM100.85,478.55h0.84v0.84h-0.84zM99.3,482.3h0.84v0.84h-0.84zM99.12,472.28h0.84v0.84h-0.84zM97.02,475.7h0.84v0.84h-0.84zM108.92,465.12h0.84v0.84h-0.84zM103.72,471.85h0.84v0.84h-0.84zM107.91,475.72h0.84v0.84h-0.84zM102.34,475.75h0.84v0.84h-0.84zM102.84,467.43h0.84v0.84h-0.84zM107.39,473.04h0.84v0.84h-0.84zM104.99,473.81h0.84v0.84h-0.84zM105.21,472.28h0.84v0.84h-0.84zM100.29,473.87h0.84v0.84h-0.84zM105.67,474.16h0.84v0.84h-0.84zM101.23,471.64h0.84v0.84h-0.84zM105.09,475.6h0.84v0.84h-0.84zM105.16,474.96h0.84v0.84h-0.84zM105.53,471.8h0.84v0.84h-0.84zM102.85,474.7h0.84v0.84h-0.84zM96.88,476.03h0.84v0.84h-0.84zM102.5,473.01h0.84v0.84h-0.84zM101.54,472.88h0.84v0.84h-0.84zM107.8,471.64h0.84v0.84h-0.84zM101.92,478.32h0.84v0.84h-0.84zM102.87,478.69h0.84v0.84h-0.84zM96.78,474.22h0.84v0.84h-0.84zM101.58,478.07h0.84v0.84h-0.84zM93.26,479.37h0.84v0.84h-0.84zM106.22,472.37h0.84v0.84h-0.84zM99,476.36h0.84v0.84h-0.84zM106.37,477.24h0.84v0.84h-0.84zM101.09,472.17h0.84v0.84h-0.84zM105.32,481.88h0.84v0.84h-0.84zM109.36,476.91h0.84v0.84h-0.84zM100.75,470.88h0.84v0.84h-0.84zM105.57,473.88h0.84v0.84h-0.84zM105.4,475.31h0.84v0.84h-0.84zM101.27,472.01h0.84v0.84h-0.84zM103.13,475.16h0.84v0.84h-0.84zM102.78,471.77h0.84v0.84h-0.84zM102.05,474.4h0.84v0.84h-0.84zM109.44,479.04h0.84v0.84h-0.84zM102.11,476.5h0.84v0.84h-0.84zM102.18,478.16h0.84v0.84h-0.84zM101.29,474.74h0.84v0.84h-0.84zM100.13,475.03h0.84v0.84h-0.84zM103.94,475.78h0.84v0.84h-0.84zM104.16,468.47h0.84v0.84h-0.84zM103.27,474.34h0.84v0.84h-0.84zM100.66,476.66h0.84v0.84h-0.84zM102.12,477.86h0.84v0.84h-0.84zM107.18,471.67h0.84v0.84h-0.84zM100.45,478.59h0.84v0.84h-0.84zM104.86,476.46h0.84v0.84h-0.84zM102.35,473.46h0.84v0.84h-0.84zM100.5,473.89h0.84v0.84h-0.84zM112.93,473.17h0.84v0.84h-0.84zM99.91,479.58h0.84v0.84h-0.84zM107.12,470.53h0.84v0.84h-0.84zM108.45,476.12h0.84v0.84h-0.84zM102.5,471.65h0.84v0.84h-0.84zM105.85,480.42h0.84v0.84h-0.84zM107.61,479.22h0.84v0.84h-0.84zM107.72,471.03h0.84v0.84h-0.84zM103.15,473.22h0.84v0.84h-0.84zM105.54,474.49h0.84v0.84h-0.84zM95.91,476.39h0.84v0.84h-0.84zM101.13,472.59h0.84v0.84h-0.84zM102.21,473.94h0.84v0.84h-0.84zM101.14,480.84h0.84v0.84h-0.84zM104.3,472.08h0.84v0.84h-0.84zM104.85,475.22h0.84v0.84h-0.84zM107.12,476.63h0.84v0.84h-0.84zM99.57,473.8h0.84v0.84h-0.84zM102.63,472.09h0.84v0.84h-0.84zM104.32,476.08h0.84v0.84h-0.84zM81.39,464.12h0.84v0.84h-0.84zM83.3,470.59h0.84v0.84h-0.84zM79.29,464.59h0.84v0.84h-0.84zM96.27,469.1h0.84v0.84h-0.84zM89.91,466.38h0.84v0.84h-0.84zM91.55,473.32h0.84v0.84h-0.84zM90.64,473.85h0.84v0.84h-0.84zM73.38,478.22h0.84v0.84h-0.84zM99.13,466.36h0.84v0.84h-0.84zM90.68,476.63h0.84v0.84h-0.84zM76.52,463.81h0.84v0.84h-0.84zM82.86,475.55h0.84v0.84h-0.84zM92.41,464.06h0.84v0.84h-0.84zM83.76,475.52h0.84v0.84h-0.84zM85.04,472.95h0.84v0.84h-0.84zM82.51,470.07h0.84v0.84h-0.84zM72.77,468.97h0.84v0.84h-0.84zM94.17,474.41h0.84v0.84h-0.84zM88.69,465.89h0.84v0.84h-0.84zM90.27,476.5h0.84v0.84h-0.84zM91.97,458.99h0.84v0.84h-0.84zM90.49,469.45h0.84v0.84h-0.84zM97.96,467.93h0.84v0.84h-0.84zM88.28,475.72h0.84v0.84h-0.84zM76.67,468.49h0.84v0.84h-0.84zM95.65,465.08h0.84v0.84h-0.84zM68.16,471.78h0.84v0.84h-0.84zM89.5,462.95h0.84v0.84h-0.84zM102.06,458.51h0.84v0.84h-0.84zM71.31,475.09h0.84v0.84h-0.84zM97.73,462h0.84v0.84h-0.84zM104.44,475.6h0.84v0.84h-0.84zM101.62,458.98h0.84v0.84h-0.84zM82.05,471.82h0.84v0.84h-0.84zM98.33,473.67h0.84v0.84h-0.84zM89.23,459.75h0.84v0.84h-0.84zM98.26,470.01h0.84v0.84h-0.84zM93.97,476.33h0.84v0.84h-0.84zM66.78,478.71h0.84v0.84h-0.84zM101.3,457.28h0.84v0.84h-0.84zM67.35,466.92h0.84v0.84h-0.84zM104.17,474.43h0.84v0.84h-0.84zM80.45,474.98h0.84v0.84h-0.84zM74.83,470.78h0.84v0.84h-0.84zM80.36,473.84h0.84v0.84h-0.84zM101.02,471.5h0.84v0.84h-0.84zM82.95,467.23h0.84v0.84h-0.84zM70.68,473.89h0.84v0.84h-0.84zM79.65,471.68h0.84v0.84h-0.84zM85.32,470.66h0.84v0.84h-0.84zM87.94,466.85h0.84v0.84h-0.84zM90.65,472.02h0.84v0.84h-0.84zM94.33,474.08h0.84v0.84h-0.84zM63.88,476.15h0.84v0.84h-0.84zM103.25,473.51h0.84v0.84h-0.84zM94.09,472.91h0.84v0.84h-0.84zM97.07,469.59h0.84v0.84h-0.84zM73.75,467.85h0.84v0.84h-0.84zM66.81,476.19h0.84v0.84h-0.84zM100.9,457.84h0.84v0.84h-0.84zM66.85,477.42h0.84v0.84h-0.84zM75.86,464.96h0.84v0.84h-0.84zM96.2,474.38h0.84v0.84h-0.84zM97,463.72h0.84v0.84h-0.84zM70.54,476.2h0.84v0.84h-0.84zM107.72,451.49h0.84v0.84h-0.84zM109.79,466.7h0.84v0.84h-0.84zM91.43,467.32h0.84v0.84h-0.84zM98.47,455.77h0.84v0.84h-0.84zM88.8,449.91h0.84v0.84h-0.84zM82.4,473.19h0.84v0.84h-0.84zM107.97,467.05h0.84v0.84h-0.84zM93.7,456.93h0.84v0.84h-0.84zM115.76,448.77h0.84v0.84h-0.84zM86.28,456.78h0.84v0.84h-0.84zM96.55,470.09h0.84v0.84h-0.84zM108.54,456.72h0.84v0.84h-0.84zM86.23,447.1h0.84v0.84h-0.84zM93.32,478.03h0.84v0.84h-0.84zM104.58,458.28h0.84v0.84h-0.84zM105.56,448.92h0.84v0.84h-0.84zM96.71,460.02h0.84v0.84h-0.84zM101.92,471.69h0.84v0.84h-0.84zM102.1,449.02h0.84v0.84h-0.84zM92.58,474.56h0.84v0.84h-0.84zM104.22,461.17h0.84v0.84h-0.84zM93.93,457h0.84v0.84h-0.84zM105.51,462.47h0.84v0.84h-0.84zM101.16,451.08h0.84v0.84h-0.84zM92.68,453.54h0.84v0.84h-0.84z" fill="#E8792E"/>
<path d="M88.15,478.16 C87.96,476.53 87.81,472.39 88.53,469.65 C89.25,466.9 91.2,463.98 92.47,461.69 C93.75,459.41 94.69,457.52 96.19,455.94 C97.69,454.36 99.86,452.9 101.47,452.19 C103.07,451.47 104.61,450.79 105.83,451.65 C107.06,452.51 107.96,455.09 108.82,457.36 C109.68,459.62 110.86,462.62 111,465.26 C111.14,467.91 110.54,470.96 109.66,473.22 C108.79,475.47 107.73,477.89 105.75,478.8 C103.77,479.71 100.45,478.6 97.78,478.7 C95.1,478.81 91.28,479.5 89.68,479.41 C88.08,479.32 88.34,479.78 88.15,478.16Z" fill="none" stroke="#262626" stroke-width="0.95"/>
<path d="M89.7,476.56 C89.48,475.24 89.87,472.23 90.46,470 C91.04,467.77 92.18,465.04 93.23,463.18 C94.28,461.32 95.44,460.15 96.75,458.82 C98.07,457.49 99.78,455.81 101.11,455.2 C102.45,454.59 103.67,454.53 104.76,455.16 C105.85,455.79 106.92,457.23 107.64,458.98 C108.37,460.74 108.96,463.4 109.11,465.71 C109.27,468.02 109.25,470.85 108.6,472.84 C107.94,474.84 106.94,476.86 105.19,477.65 C103.44,478.43 100.32,477.51 98.08,477.56 C95.84,477.61 93.17,478.11 91.77,477.94 C90.38,477.78 89.92,477.89 89.7,476.56Z" fill="none" stroke="#262626" stroke-width="0.75"/>
<path d="M91.84,475.84 C91.75,474.9 91.94,472.43 92.42,470.55 C92.91,468.66 93.89,466.12 94.75,464.54 C95.61,462.96 96.63,462.11 97.57,461.07 C98.51,460.02 99.26,458.77 100.39,458.25 C101.53,457.73 103.43,457.36 104.37,457.94 C105.31,458.53 105.52,460.22 106.01,461.76 C106.49,463.3 107.1,465.45 107.26,467.19 C107.42,468.93 107.48,470.68 106.98,472.22 C106.47,473.75 105.66,475.72 104.22,476.4 C102.79,477.08 100.23,476.34 98.36,476.32 C96.49,476.29 94.08,476.32 92.99,476.24 C91.91,476.16 91.94,476.79 91.84,475.84Z" fill="none" stroke="#262626" stroke-width="0.75"/>
<path d="M93.93,474.46 C93.87,473.64 94.14,471.83 94.48,470.44 C94.82,469.05 95.4,467.34 95.98,466.13 C96.56,464.92 97.24,464 97.96,463.17 C98.68,462.34 99.38,461.52 100.28,461.16 C101.18,460.79 102.6,460.55 103.37,461 C104.13,461.44 104.54,462.66 104.87,463.84 C105.2,465.02 105.31,466.73 105.34,468.08 C105.37,469.43 105.41,470.79 105.05,471.93 C104.69,473.06 104.2,474.37 103.19,474.91 C102.17,475.46 100.36,475.12 98.97,475.2 C97.57,475.27 95.66,475.48 94.82,475.36 C93.97,475.24 93.98,475.28 93.93,474.46Z" fill="none" stroke="#262626" stroke-width="0.75"/>
<path d="M95.73,473.68 C95.68,473.13 95.73,471.55 95.96,470.55 C96.19,469.54 96.66,468.49 97.12,467.66 C97.59,466.82 98.18,466.13 98.74,465.54 C99.29,464.95 99.9,464.33 100.48,464.1 C101.06,463.87 101.77,463.85 102.23,464.15 C102.69,464.45 102.94,465.14 103.22,465.9 C103.51,466.66 103.88,467.75 103.94,468.71 C103.99,469.67 103.83,470.84 103.55,471.67 C103.27,472.5 102.93,473.33 102.24,473.69 C101.56,474.06 100.41,473.82 99.42,473.84 C98.44,473.87 96.93,473.87 96.31,473.85 C95.7,473.82 95.79,474.23 95.73,473.68Z" fill="none" stroke="#262626" stroke-width="0.75"/>
<path d="M97.64,472.31 C97.62,472.02 97.79,471.41 97.9,470.88 C98.01,470.35 98.08,469.6 98.3,469.13 C98.53,468.65 98.95,468.37 99.26,468.04 C99.57,467.72 99.84,467.31 100.16,467.16 C100.48,467.02 100.91,467.01 101.19,467.17 C101.47,467.34 101.7,467.73 101.86,468.17 C102.01,468.62 102.1,469.29 102.12,469.82 C102.14,470.35 102.15,470.91 101.98,471.36 C101.81,471.8 101.5,472.31 101.11,472.51 C100.71,472.72 100.13,472.55 99.61,472.57 C99.09,472.58 98.32,472.63 98,472.59 C97.67,472.55 97.65,472.59 97.64,472.31Z" fill="none" stroke="#262626" stroke-width="0.75"/>
<path d="M89.02,477.91 C88.86,476.55 89.26,473.04 89.81,470.45 C90.36,467.86 91.27,464.65 92.33,462.36 C93.39,460.07 94.75,458.21 96.17,456.72 C97.59,455.23 99.3,453.89 100.87,453.42 C102.44,452.96 104.43,453.18 105.6,453.92 C106.77,454.66 107.23,455.89 107.91,457.84 C108.59,459.79 109.5,463.1 109.66,465.61 C109.83,468.11 109.63,470.84 108.9,472.86 C108.16,474.88 107.08,476.86 105.24,477.74 C103.4,478.62 100.26,478 97.85,478.15 C95.44,478.29 92.26,478.65 90.79,478.61 C89.32,478.57 89.19,479.27 89.02,477.91Z" fill="none" stroke="#E8792E" stroke-width="0.6"/>
<path d="M92.16,476.38 C91.98,475.24 91.86,472.17 92.29,470.24 C92.72,468.32 93.79,466.39 94.72,464.84 C95.65,463.28 96.77,461.99 97.86,460.91 C98.95,459.84 100.14,458.91 101.27,458.39 C102.41,457.87 103.76,457.23 104.67,457.8 C105.58,458.36 106.32,460.2 106.73,461.79 C107.15,463.38 107.15,465.48 107.16,467.32 C107.17,469.17 107.25,471.33 106.8,472.86 C106.36,474.39 105.85,475.79 104.47,476.48 C103.1,477.18 100.4,476.93 98.55,477.03 C96.69,477.12 94.41,477.19 93.34,477.08 C92.28,476.97 92.33,477.51 92.16,476.38Z" fill="none" stroke="#E8792E" stroke-width="0.6"/>
<path d="M94.82,474.68 C94.73,473.99 95.13,472.3 95.43,471.04 C95.73,469.78 96.1,468.18 96.61,467.13 C97.12,466.07 97.74,465.5 98.5,464.73 C99.27,463.96 100.39,462.85 101.19,462.53 C101.99,462.21 102.73,462.36 103.32,462.79 C103.91,463.23 104.35,464.12 104.7,465.14 C105.05,466.17 105.36,467.71 105.43,468.92 C105.51,470.13 105.5,471.38 105.15,472.39 C104.79,473.41 104.26,474.51 103.3,475.02 C102.34,475.52 100.61,475.39 99.39,475.42 C98.16,475.45 96.7,475.32 95.93,475.19 C95.17,475.07 94.9,475.37 94.82,474.68Z" fill="none" stroke="#E8792E" stroke-width="0.6"/>
<path d="M98.09,473.42 C98.06,473.07 98.06,472.18 98.18,471.54 C98.31,470.91 98.57,470.16 98.84,469.62 C99.1,469.08 99.44,468.67 99.8,468.31 C100.15,467.95 100.6,467.58 100.98,467.44 C101.36,467.3 101.78,467.32 102.08,467.48 C102.38,467.65 102.62,467.93 102.79,468.43 C102.96,468.93 103.04,469.86 103.1,470.48 C103.16,471.11 103.31,471.63 103.16,472.15 C103.01,472.67 102.71,473.38 102.22,473.6 C101.74,473.82 100.89,473.47 100.25,473.47 C99.62,473.46 98.76,473.6 98.4,473.59 C98.04,473.58 98.13,473.76 98.09,473.42Z" fill="none" stroke="#E8792E" stroke-width="0.6"/>
<path d="M67.7,472.61 C67.61,471.81 69.5,470.61 70.5,470.63 C71.51,470.64 73.64,471.9 73.73,472.71 C73.82,473.51 72.05,475.47 71.05,475.45 C70.04,475.43 67.79,473.42 67.7,472.61Z" fill="none" stroke="#444" stroke-width="0.6"/>
<path d="M69.57,472.84 C69.55,472.43 70.35,471.62 70.8,471.62 C71.25,471.63 72.25,472.46 72.26,472.87 C72.28,473.28 71.33,474.11 70.88,474.1 C70.43,474.1 69.58,473.25 69.57,472.84Z" fill="none" stroke="#444" stroke-width="0.6"/>
<path d="M406.05,372.96h0.8v0.8h-0.8zM440.43,350.4h0.8v0.8h-0.8zM430.2,360.99h0.8v0.8h-0.8zM432.75,353.81h0.8v0.8h-0.8zM435.17,373.32h0.8v0.8h-0.8zM418.24,356.91h0.8v0.8h-0.8zM428.78,351.29h0.8v0.8h-0.8zM407.53,360.86h0.8v0.8h-0.8zM401.33,358.58h0.8v0.8h-0.8zM438.32,357.75h0.8v0.8h-0.8zM420.6,366.82h0.8v0.8h-0.8zM431.18,365.9h0.8v0.8h-0.8zM400.04,358.36h0.8v0.8h-0.8zM440.3,371.52h0.8v0.8h-0.8zM397.2,365.47h0.8v0.8h-0.8zM432.52,351.01h0.8v0.8h-0.8zM416.5,369.15h0.8v0.8h-0.8zM408.16,367.18h0.8v0.8h-0.8zM416.02,372.25h0.8v0.8h-0.8zM422.59,365.5h0.8v0.8h-0.8zM410.56,359.98h0.8v0.8h-0.8zM436.68,361.03h0.8v0.8h-0.8zM397.76,363.18h0.8v0.8h-0.8zM411.31,364.46h0.8v0.8h-0.8zM414.16,356.24h0.8v0.8h-0.8zM406.98,361.86h0.8v0.8h-0.8zM427.66,355.54h0.8v0.8h-0.8zM434.37,365.31h0.8v0.8h-0.8zM425.57,367.06h0.8v0.8h-0.8zM413.07,355.74h0.8v0.8h-0.8zM433.14,370.34h0.8v0.8h-0.8zM398.67,373.46h0.8v0.8h-0.8zM399.84,367.02h0.8v0.8h-0.8zM423.38,371.7h0.8v0.8h-0.8zM411.51,360.58h0.8v0.8h-0.8zM407.94,366.05h0.8v0.8h-0.8zM422.39,371.12h0.8v0.8h-0.8zM435.43,367.75h0.8v0.8h-0.8zM409.23,363.32h0.8v0.8h-0.8zM404.1,365.36h0.8v0.8h-0.8zM394.51,369.62h0.8v0.8h-0.8zM438.21,363.48h0.8v0.8h-0.8zM426.08,367.19h0.8v0.8h-0.8zM417.85,356.47h0.8v0.8h-0.8zM435.44,365.51h0.8v0.8h-0.8zM426.96,373.24h0.8v0.8h-0.8zM438.34,351.48h0.8v0.8h-0.8zM429.78,356.35h0.8v0.8h-0.8zM429.98,368.91h0.8v0.8h-0.8zM400.36,372.89h0.8v0.8h-0.8zM399.13,371.95h0.8v0.8h-0.8zM415.46,359.48h0.8v0.8h-0.8zM423.04,355.31h0.8v0.8h-0.8zM439.03,359.54h0.8v0.8h-0.8zM397.41,368.16h0.8v0.8h-0.8zM438.48,358.35h0.8v0.8h-0.8zM418.93,372.45h0.8v0.8h-0.8zM396.26,358.06h0.8v0.8h-0.8zM397.33,359.52h0.8v0.8h-0.8zM415.57,354.38h0.8v0.8h-0.8zM410.53,362.03h0.8v0.8h-0.8zM405.85,367.99h0.8v0.8h-0.8zM401.55,370.26h0.8v0.8h-0.8zM436.1,363.19h0.8v0.8h-0.8zM431.91,355.09h0.8v0.8h-0.8zM421.35,361.15h0.8v0.8h-0.8zM437.21,366.27h0.8v0.8h-0.8zM424.17,371.46h0.8v0.8h-0.8zM440.06,370.26h0.8v0.8h-0.8zM428.46,356.33h0.8v0.8h-0.8zM410.18,355.3h0.8v0.8h-0.8zM437.54,369.67h0.8v0.8h-0.8zM410.63,368.87h0.8v0.8h-0.8zM393.87,355.11h0.8v0.8h-0.8zM437.13,364.4h0.8v0.8h-0.8zM427.03,373.06h0.8v0.8h-0.8zM400.87,372.67h0.8v0.8h-0.8zM419.76,365.32h0.8v0.8h-0.8zM396.03,367.81h0.8v0.8h-0.8zM439.38,355.39h0.8v0.8h-0.8zM406.32,357.65h0.8v0.8h-0.8zM393.49,373.74h0.8v0.8h-0.8zM415.61,370.51h0.8v0.8h-0.8zM426.22,359.11h0.8v0.8h-0.8zM397.66,367.62h0.8v0.8h-0.8zM431.6,373.34h0.8v0.8h-0.8zM416.3,367.7h0.8v0.8h-0.8zM421.52,364.86h0.8v0.8h-0.8zM427.98,366.78h0.8v0.8h-0.8zM395.56,370h0.8v0.8h-0.8zM434.45,362.58h0.8v0.8h-0.8zM434.83,368.05h0.8v0.8h-0.8zM422.35,366.84h0.8v0.8h-0.8zM439.37,367.7h0.8v0.8h-0.8zM398.6,373.55h0.8v0.8h-0.8zM413.82,363.56h0.8v0.8h-0.8zM431.1,366.36h0.8v0.8h-0.8zM403.66,360.52h0.8v0.8h-0.8zM407.22,369h0.8v0.8h-0.8zM401.75,365.08h0.8v0.8h-0.8zM430.63,371.47h0.8v0.8h-0.8zM421.46,375.67h0.8v0.8h-0.8zM426.92,361.5h0.8v0.8h-0.8zM427.53,357.89h0.8v0.8h-0.8zM397.21,364.78h0.8v0.8h-0.8zM411.93,359.38h0.8v0.8h-0.8zM404.37,367.14h0.8v0.8h-0.8zM407.68,362.07h0.8v0.8h-0.8zM420.07,363.18h0.8v0.8h-0.8zM430.75,372.6h0.8v0.8h-0.8zM409.54,364.29h0.8v0.8h-0.8zM410.17,365.09h0.8v0.8h-0.8zM424.36,356.67h0.8v0.8h-0.8zM402.26,362.8h0.8v0.8h-0.8zM435.27,375.99h0.8v0.8h-0.8zM423.38,357.14h0.8v0.8h-0.8zM432.81,354.95h0.8v0.8h-0.8zM413.44,359.09h0.8v0.8h-0.8zM394.43,358.71h0.8v0.8h-0.8zM408.39,359.16h0.8v0.8h-0.8zM431.17,360.25h0.8v0.8h-0.8zM406.83,372.95h0.8v0.8h-0.8zM397.14,368.87h0.8v0.8h-0.8zM410.78,357.79h0.8v0.8h-0.8zM392.41,374.38h0.8v0.8h-0.8zM410.58,367.99h0.8v0.8h-0.8zM408.88,359.98h0.8v0.8h-0.8zM408.2,359.86h0.8v0.8h-0.8zM422.86,371.87h0.8v0.8h-0.8zM390.35,366.63h0.8v0.8h-0.8zM413.14,372.19h0.8v0.8h-0.8zM420.64,365.83h0.8v0.8h-0.8zM417.39,368.63h0.8v0.8h-0.8zM425.83,374.22h0.8v0.8h-0.8zM415.52,366.22h0.8v0.8h-0.8zM425.77,362.82h0.8v0.8h-0.8zM406.03,365.52h0.8v0.8h-0.8zM391.02,366.51h0.8v0.8h-0.8zM428,356.29h0.8v0.8h-0.8zM400.8,366.4h0.8v0.8h-0.8zM434.99,370.13h0.8v0.8h-0.8zM417.79,367.55h0.8v0.8h-0.8zM422.61,363.57h0.8v0.8h-0.8zM390.79,369.49h0.8v0.8h-0.8zM395.29,368.12h0.8v0.8h-0.8zM414.64,369.55h0.8v0.8h-0.8zM412.71,360.74h0.8v0.8h-0.8zM425.82,364.24h0.8v0.8h-0.8zM393.61,366.08h0.8v0.8h-0.8zM404.76,366.76h0.8v0.8h-0.8zM424.9,371.38h0.8v0.8h-0.8zM414.88,366.77h0.8v0.8h-0.8zM413.49,374h0.8v0.8h-0.8zM409.36,369.39h0.8v0.8h-0.8zM421.96,355.11h0.8v0.8h-0.8zM419.41,374.74h0.8v0.8h-0.8zM429.44,373.89h0.8v0.8h-0.8zM395.14,361.62h0.8v0.8h-0.8zM437.12,365.21h0.8v0.8h-0.8zM427.77,357.41h0.8v0.8h-0.8zM396.55,368.59h0.8v0.8h-0.8zM399.31,373.59h0.8v0.8h-0.8zM429.49,367.65h0.8v0.8h-0.8zM431.61,373.6h0.8v0.8h-0.8zM432.25,374.24h0.8v0.8h-0.8zM409.91,354.87h0.8v0.8h-0.8zM401.03,359.08h0.8v0.8h-0.8zM392.48,376.24h0.8v0.8h-0.8zM427.41,368.85h0.8v0.8h-0.8zM431.95,372.8h0.8v0.8h-0.8zM438.97,367.46h0.8v0.8h-0.8zM411.12,358.27h0.8v0.8h-0.8zM405.65,361.9h0.8v0.8h-0.8zM395.24,369.38h0.8v0.8h-0.8zM418.24,356.72h0.8v0.8h-0.8zM400.89,372.13h0.8v0.8h-0.8zM408.62,358.98h0.8v0.8h-0.8zM438.67,374.94h0.8v0.8h-0.8zM399.6,375.26h0.8v0.8h-0.8zM408.79,371.19h0.8v0.8h-0.8zM432.05,368.41h0.8v0.8h-0.8zM397.72,366.65h0.8v0.8h-0.8zM419.26,363.74h0.8v0.8h-0.8zM406,365.31h0.8v0.8h-0.8zM394.03,373.92h0.8v0.8h-0.8zM398.4,374.83h0.8v0.8h-0.8zM393.68,369.66h0.8v0.8h-0.8zM414.89,375.54h0.8v0.8h-0.8zM425.54,372.59h0.8v0.8h-0.8zM416.08,356.42h0.8v0.8h-0.8zM417.8,368.87h0.8v0.8h-0.8zM402.13,371.1h0.8v0.8h-0.8zM407.65,365.82h0.8v0.8h-0.8zM413.28,366.48h0.8v0.8h-0.8zM414.17,373.57h0.8v0.8h-0.8zM422.85,372.48h0.8v0.8h-0.8zM427.96,369.5h0.8v0.8h-0.8zM397.37,373.83h0.8v0.8h-0.8zM439.11,370.98h0.8v0.8h-0.8zM440.32,369.66h0.8v0.8h-0.8zM440.15,358.32h0.8v0.8h-0.8zM395.2,367.44h0.8v0.8h-0.8zM423.86,366.53h0.8v0.8h-0.8zM410.64,370.68h0.8v0.8h-0.8zM411.48,368.39h0.8v0.8h-0.8zM438.82,362.29h0.8v0.8h-0.8zM415.5,366.66h0.8v0.8h-0.8zM411.18,367.76h0.8v0.8h-0.8zM430.9,370.88h0.8v0.8h-0.8zM409.06,372.62h0.8v0.8h-0.8zM433.69,373.68h0.8v0.8h-0.8zM430.85,353.57h0.8v0.8h-0.8zM394.85,359.57h0.8v0.8h-0.8zM392.16,361.12h0.8v0.8h-0.8zM423.96,371.42h0.8v0.8h-0.8zM393.72,375.23h0.8v0.8h-0.8zM410.23,368.76h0.8v0.8h-0.8zM392.81,368.68h0.8v0.8h-0.8zM392.61,369.97h0.8v0.8h-0.8zM424.32,367.47h0.8v0.8h-0.8zM400.06,368.45h0.8v0.8h-0.8zM434.14,358.17h0.8v0.8h-0.8zM395.33,374.72h0.8v0.8h-0.8zM432.56,356.6h0.8v0.8h-0.8zM427.47,370.43h0.8v0.8h-0.8zM395.45,368.2h0.8v0.8h-0.8zM438.7,358.07h0.8v0.8h-0.8zM439.39,357.07h0.8v0.8h-0.8zM424.4,374.27h0.8v0.8h-0.8zM417.69,368.99h0.8v0.8h-0.8zM438.19,361.25h0.8v0.8h-0.8zM414.37,368.45h0.8v0.8h-0.8zM416.91,373.23h0.8v0.8h-0.8zM440.9,356.84h0.8v0.8h-0.8zM402.9,356.19h0.8v0.8h-0.8zM433.58,360.94h0.8v0.8h-0.8zM442.34,374.68h0.8v0.8h-0.8zM404.5,358.16h0.8v0.8h-0.8zM401.73,369.15h0.8v0.8h-0.8zM400.86,368.58h0.8v0.8h-0.8zM437.81,367.82h0.8v0.8h-0.8zM419.45,363.8h0.8v0.8h-0.8zM409.31,360.16h0.8v0.8h-0.8zM415.06,374.43h0.8v0.8h-0.8zM437.96,360.72h0.8v0.8h-0.8zM437.4,372.16h0.8v0.8h-0.8zM435.05,349.3h0.8v0.8h-0.8zM429.37,355.33h0.8v0.8h-0.8zM429.1,375.35h0.8v0.8h-0.8zM425.81,366.71h0.8v0.8h-0.8zM434.57,360.95h0.8v0.8h-0.8zM433.81,355.71h0.8v0.8h-0.8zM425.26,355.7h0.8v0.8h-0.8zM402.92,374.78h0.8v0.8h-0.8zM441.36,361.01h0.8v0.8h-0.8zM425.34,358.63h0.8v0.8h-0.8zM430.41,360.05h0.8v0.8h-0.8zM435.11,365.45h0.8v0.8h-0.8zM406.91,369.1h0.8v0.8h-0.8zM418.28,367.24h0.8v0.8h-0.8zM430.87,361.48h0.8v0.8h-0.8zM438.32,360.98h0.8v0.8h-0.8zM415.69,358.3h0.8v0.8h-0.8zM398.27,357.49h0.8v0.8h-0.8zM434.32,374.2h0.8v0.8h-0.8zM400.7,371.8h0.8v0.8h-0.8zM425.57,365.11h0.8v0.8h-0.8zM421.6,356.47h0.8v0.8h-0.8zM410.2,369.19h0.8v0.8h-0.8zM436.96,353.62h0.8v0.8h-0.8zM420.75,369.61h0.8v0.8h-0.8zM408.43,370.87h0.8v0.8h-0.8zM435.28,354h0.8v0.8h-0.8zM415.93,367.26h0.8v0.8h-0.8zM440.31,362.06h0.8v0.8h-0.8zM406.96,357.67h0.8v0.8h-0.8zM433.2,371.83h0.8v0.8h-0.8zM423.17,355.34h0.8v0.8h-0.8zM394.74,372.06h0.8v0.8h-0.8zM426.1,374.77h0.8v0.8h-0.8zM413.28,359.58h0.8v0.8h-0.8zM395.89,362.43h0.8v0.8h-0.8zM420.29,363.25h0.8v0.8h-0.8zM405.65,358.18h0.8v0.8h-0.8zM405.32,374.29h0.8v0.8h-0.8zM439.33,354.53h0.8v0.8h-0.8zM399.39,364.65h0.8v0.8h-0.8zM428.77,353.84h0.8v0.8h-0.8zM439.92,369.65h0.8v0.8h-0.8zM434.55,368.45h0.8v0.8h-0.8zM428.48,368.84h0.8v0.8h-0.8zM407.58,373.13h0.8v0.8h-0.8zM431.99,369.05h0.8v0.8h-0.8zM401.75,368.44h0.8v0.8h-0.8zM426.45,364.3h0.8v0.8h-0.8zM412.43,359.11h0.8v0.8h-0.8zM393.42,364.76h0.8v0.8h-0.8zM438.01,356.55h0.8v0.8h-0.8zM405.7,374.13h0.8v0.8h-0.8zM436.71,367.76h0.8v0.8h-0.8zM436.37,374.77h0.8v0.8h-0.8zM433.62,365.12h0.8v0.8h-0.8zM436.05,365.16h0.8v0.8h-0.8zM401.81,363.98h0.8v0.8h-0.8zM439.07,356.75h0.8v0.8h-0.8zM421.81,360.26h0.8v0.8h-0.8zM410.6,367.77h0.8v0.8h-0.8zM425.35,374.86h0.8v0.8h-0.8zM407.35,365.83h0.8v0.8h-0.8zM424.96,360.86h0.8v0.8h-0.8zM437.63,355.84h0.8v0.8h-0.8zM427.91,358.37h0.8v0.8h-0.8zM393.06,369.43h0.8v0.8h-0.8zM408.17,368.17h0.8v0.8h-0.8zM434.72,369.84h0.8v0.8h-0.8zM435.32,368.79h0.8v0.8h-0.8zM403.39,367.79h0.8v0.8h-0.8zM431.32,372.49h0.8v0.8h-0.8zM403.32,374.73h0.8v0.8h-0.8zM410.4,361.66h0.8v0.8h-0.8zM419.08,375.1h0.8v0.8h-0.8zM419.28,355.79h0.8v0.8h-0.8zM439.3,351.95h0.8v0.8h-0.8zM408.93,360.58h0.8v0.8h-0.8zM430.13,365.62h0.8v0.8h-0.8zM432.11,369.17h0.8v0.8h-0.8zM396.01,375.48h0.8v0.8h-0.8zM417.76,373.46h0.8v0.8h-0.8zM398.34,369.1h0.8v0.8h-0.8zM430.18,354.53h0.8v0.8h-0.8zM392.54,359.25h0.8v0.8h-0.8zM410.42,360.94h0.8v0.8h-0.8zM393.08,374.17h0.8v0.8h-0.8zM403.3,369.77h0.8v0.8h-0.8zM399.76,367.76h0.8v0.8h-0.8zM428.95,367.05h0.8v0.8h-0.8zM436.29,372.84h0.8v0.8h-0.8zM437.59,372.77h0.8v0.8h-0.8zM412.57,374.47h0.8v0.8h-0.8zM392.72,372.89h0.8v0.8h-0.8zM426.51,357.92h0.8v0.8h-0.8zM408.52,368.42h0.8v0.8h-0.8zM426.3,360.84h0.8v0.8h-0.8zM424.08,375.43h0.8v0.8h-0.8zM420.21,369.76h0.8v0.8h-0.8zM435.83,360.67h0.8v0.8h-0.8zM419.63,352.14h0.8v0.8h-0.8zM419.13,362.59h0.8v0.8h-0.8zM398.65,368.91h0.8v0.8h-0.8zM439.84,363.6h0.8v0.8h-0.8zM417.09,373.15h0.8v0.8h-0.8zM395.61,374.33h0.8v0.8h-0.8zM422.29,353.22h0.8v0.8h-0.8zM420.78,357.99h0.8v0.8h-0.8zM431.79,353.63h0.8v0.8h-0.8zM436,370.78h0.8v0.8h-0.8zM427.3,366.96h0.8v0.8h-0.8zM404.39,371.42h0.8v0.8h-0.8zM403.44,368.5h0.8v0.8h-0.8zM425.05,368.85h0.8v0.8h-0.8zM437.57,357.06h0.8v0.8h-0.8zM414.56,362.33h0.8v0.8h-0.8zM410.44,361.1h0.8v0.8h-0.8zM418.93,365.46h0.8v0.8h-0.8zM391.14,374.24h0.8v0.8h-0.8zM402.79,366.53h0.8v0.8h-0.8zM419.68,363.65h0.8v0.8h-0.8zM426.13,354.04h0.8v0.8h-0.8zM434.06,351.3h0.8v0.8h-0.8zM406.45,361.4h0.8v0.8h-0.8zM439.66,350.47h0.8v0.8h-0.8zM434.51,355.25h0.8v0.8h-0.8zM405.58,362.37h0.8v0.8h-0.8zM390.56,369.7h0.8v0.8h-0.8zM424.91,373.56h0.8v0.8h-0.8zM415.4,372.97h0.8v0.8h-0.8zM412.89,363.33h0.8v0.8h-0.8zM390.92,368.15h0.8v0.8h-0.8zM425.2,363.76h0.8v0.8h-0.8zM428.77,359.78h0.8v0.8h-0.8zM421.55,363.08h0.8v0.8h-0.8zM410.49,372.68h0.8v0.8h-0.8zM435.06,370.24h0.8v0.8h-0.8zM410.93,372.2h0.8v0.8h-0.8zM430.97,366.04h0.8v0.8h-0.8zM428.31,357.74h0.8v0.8h-0.8zM430.61,359.52h0.8v0.8h-0.8zM413.77,367.24h0.8v0.8h-0.8zM407.25,375.98h0.8v0.8h-0.8zM435.17,373.67h0.8v0.8h-0.8zM423.95,365.64h0.8v0.8h-0.8zM414.55,355.28h0.8v0.8h-0.8zM420.2,356.67h0.8v0.8h-0.8zM429.44,373.38h0.8v0.8h-0.8zM392.19,366.95h0.8v0.8h-0.8zM430.27,367.17h0.8v0.8h-0.8zM436.67,358.83h0.8v0.8h-0.8zM437.66,376.19h0.8v0.8h-0.8zM399.78,360.49h0.8v0.8h-0.8zM390.85,360.4h0.8v0.8h-0.8zM422.97,354.83h0.8v0.8h-0.8zM417.03,366.98h0.8v0.8h-0.8zM426.76,367.62h0.8v0.8h-0.8zM392.05,368.03h0.8v0.8h-0.8zM432.97,358.21h0.8v0.8h-0.8zM397.06,362.4h0.8v0.8h-0.8zM406.82,374.47h0.8v0.8h-0.8zM438.72,363.67h0.8v0.8h-0.8zM405.27,371.41h0.8v0.8h-0.8zM394.41,363.15h0.8v0.8h-0.8zM423.12,373.77h0.8v0.8h-0.8zM426.23,361.14h0.8v0.8h-0.8zM428.28,360.42h0.8v0.8h-0.8zM436.68,356.64h0.8v0.8h-0.8zM398.6,368h0.8v0.8h-0.8zM420.62,364.03h0.8v0.8h-0.8zM400.37,369.93h0.8v0.8h-0.8zM436.7,369.73h0.8v0.8h-0.8zM422.66,366.46h0.8v0.8h-0.8zM432.62,366.82h0.8v0.8h-0.8zM410.42,364.95h0.8v0.8h-0.8zM404.99,363.29h0.8v0.8h-0.8zM437.46,374.47h0.8v0.8h-0.8zM419.16,370.57h0.8v0.8h-0.8zM408,366.18h0.8v0.8h-0.8zM413.68,372.91h0.8v0.8h-0.8zM436.96,365.47h0.8v0.8h-0.8zM391.51,360.49h0.8v0.8h-0.8zM416.83,374.52h0.8v0.8h-0.8zM431.77,362.71h0.8v0.8h-0.8zM396.49,368.16h0.8v0.8h-0.8zM395.92,367.91h0.8v0.8h-0.8zM434.08,369h0.8v0.8h-0.8zM422,365.89h0.8v0.8h-0.8zM395.46,361.04h0.8v0.8h-0.8zM427.93,365.22h0.8v0.8h-0.8zM437.84,360.86h0.8v0.8h-0.8zM412.49,369.82h0.8v0.8h-0.8zM406.43,364.84h0.8v0.8h-0.8zM435.42,340.93h0.8v0.8h-0.8zM433.78,356.81h0.8v0.8h-0.8zM433.83,370.59h0.8v0.8h-0.8zM438.9,350.61h0.8v0.8h-0.8zM438.24,357.75h0.8v0.8h-0.8zM437.52,370.21h0.8v0.8h-0.8zM429.55,365.28h0.8v0.8h-0.8zM437.39,351.02h0.8v0.8h-0.8zM433.31,359.8h0.8v0.8h-0.8zM441.93,361.52h0.8v0.8h-0.8zM431.43,360.33h0.8v0.8h-0.8zM424.18,351.26h0.8v0.8h-0.8zM430.55,369.92h0.8v0.8h-0.8zM438.64,363.48h0.8v0.8h-0.8zM428.68,361.54h0.8v0.8h-0.8zM447.54,363.34h0.8v0.8h-0.8zM431.94,355.55h0.8v0.8h-0.8zM428.47,356.38h0.8v0.8h-0.8zM450.14,365.51h0.8v0.8h-0.8zM431.96,359.03h0.8v0.8h-0.8zM429.82,361.31h0.8v0.8h-0.8zM452.2,362.55h0.8v0.8h-0.8zM432.64,361.44h0.8v0.8h-0.8zM417.64,370.84h0.8v0.8h-0.8zM432.18,357.78h0.8v0.8h-0.8zM422.65,368.41h0.8v0.8h-0.8zM427.19,366.22h0.8v0.8h-0.8zM443.01,369.72h0.8v0.8h-0.8zM434.77,355.17h0.8v0.8h-0.8zM438.91,360.91h0.8v0.8h-0.8zM443.99,367h0.8v0.8h-0.8zM442.36,354.69h0.8v0.8h-0.8zM436.77,356.33h0.8v0.8h-0.8zM439.35,370.68h0.8v0.8h-0.8zM424.03,365.89h0.8v0.8h-0.8zM433.19,357.55h0.8v0.8h-0.8zM420.52,356.52h0.8v0.8h-0.8zM436.9,365.71h0.8v0.8h-0.8zM434.78,366.83h0.8v0.8h-0.8zM424.5,361.12h0.8v0.8h-0.8zM436.8,362.6h0.8v0.8h-0.8zM435.78,364.32h0.8v0.8h-0.8zM438.51,369.63h0.8v0.8h-0.8zM439.05,358.77h0.8v0.8h-0.8zM440.92,346.84h0.8v0.8h-0.8zM433.65,364.9h0.8v0.8h-0.8zM434.38,367.07h0.8v0.8h-0.8zM426.8,359.15h0.8v0.8h-0.8zM430.63,363.42h0.8v0.8h-0.8zM435.13,353.77h0.8v0.8h-0.8zM427.92,359.04h0.8v0.8h-0.8zM448.57,359h0.8v0.8h-0.8zM429.02,360.91h0.8v0.8h-0.8zM432.66,369.99h0.8v0.8h-0.8zM442.09,369.64h0.8v0.8h-0.8zM445.97,353.19h0.8v0.8h-0.8zM428.23,354.71h0.8v0.8h-0.8zM437.94,344.08h0.8v0.8h-0.8zM441.77,364.65h0.8v0.8h-0.8zM448.61,360.25h0.8v0.8h-0.8zM435.41,362.86h0.8v0.8h-0.8zM430.29,372.33h0.8v0.8h-0.8zM429.85,357.54h0.8v0.8h-0.8zM434.98,368.71h0.8v0.8h-0.8zM425.45,361.52h0.8v0.8h-0.8zM438.69,368.18h0.8v0.8h-0.8zM427.45,360.97h0.8v0.8h-0.8zM448.6,366.32h0.8v0.8h-0.8zM425.56,358.77h0.8v0.8h-0.8zM426.66,361.15h0.8v0.8h-0.8zM430.05,360.2h0.8v0.8h-0.8zM439.73,355.53h0.8v0.8h-0.8zM439.49,359.66h0.8v0.8h-0.8zM431.57,367.32h0.8v0.8h-0.8zM434.32,347.77h0.8v0.8h-0.8zM428.19,357.29h0.8v0.8h-0.8zM435.9,365.55h0.8v0.8h-0.8zM431.71,368.05h0.8v0.8h-0.8zM430.05,373.23h0.8v0.8h-0.8zM435.98,370.73h0.8v0.8h-0.8zM445.04,363.57h0.8v0.8h-0.8zM444.12,364.87h0.8v0.8h-0.8zM429.99,361.02h0.8v0.8h-0.8zM425.47,362.36h0.8v0.8h-0.8zM417.92,367.8h0.8v0.8h-0.8zM443.86,373.58h0.8v0.8h-0.8zM423.49,370.8h0.8v0.8h-0.8zM429.46,345.52h0.8v0.8h-0.8zM439.46,359.44h0.8v0.8h-0.8zM426.58,351.05h0.8v0.8h-0.8zM446.21,370.86h0.8v0.8h-0.8zM438.33,371.63h0.8v0.8h-0.8zM444.24,357h0.8v0.8h-0.8zM434.74,358.62h0.8v0.8h-0.8zM433.42,355.61h0.8v0.8h-0.8zM443.11,374.06h0.8v0.8h-0.8zM448.7,372.36h0.8v0.8h-0.8zM423.86,362.17h0.8v0.8h-0.8zM425.69,369.63h0.8v0.8h-0.8zM436.21,360.12h0.8v0.8h-0.8zM421.97,370.28h0.8v0.8h-0.8zM431.33,356.47h0.8v0.8h-0.8zM427.36,352.02h0.8v0.8h-0.8zM431.91,356.98h0.8v0.8h-0.8zM438.29,365.33h0.8v0.8h-0.8zM435.25,364.23h0.8v0.8h-0.8zM438.35,373.33h0.8v0.8h-0.8zM441.45,374.38h0.8v0.8h-0.8zM432.04,363.69h0.8v0.8h-0.8zM432.46,360.89h0.8v0.8h-0.8zM439.67,370.04h0.8v0.8h-0.8zM434.34,368.12h0.8v0.8h-0.8zM432.04,370.91h0.8v0.8h-0.8zM429.27,355.53h0.8v0.8h-0.8zM436.11,360.09h0.8v0.8h-0.8zM421.29,367.95h0.8v0.8h-0.8zM434.93,366.55h0.8v0.8h-0.8zM434.26,356.71h0.8v0.8h-0.8zM431.33,359.31h0.8v0.8h-0.8zM428.14,371.54h0.8v0.8h-0.8zM442.67,343.33h0.8v0.8h-0.8zM428.35,351.35h0.8v0.8h-0.8zM434.9,356.84h0.8v0.8h-0.8zM432.58,353.93h0.8v0.8h-0.8zM443.56,347.85h0.8v0.8h-0.8zM439.89,342.22h0.8v0.8h-0.8zM417.08,351.31h0.8v0.8h-0.8zM450.34,350.04h0.8v0.8h-0.8zM429.11,360.17h0.8v0.8h-0.8zM440.91,343.69h0.8v0.8h-0.8zM439.99,345.92h0.8v0.8h-0.8zM434.57,340.28h0.8v0.8h-0.8zM428.91,344.17h0.8v0.8h-0.8zM435.55,338.31h0.8v0.8h-0.8zM423.8,349.8h0.8v0.8h-0.8zM431.82,340.63h0.8v0.8h-0.8zM433.6,344.97h0.8v0.8h-0.8zM443.46,349.88h0.8v0.8h-0.8zM440.07,346.66h0.8v0.8h-0.8zM426.31,343.94h0.8v0.8h-0.8zM436.15,344.19h0.8v0.8h-0.8zM427.17,354.15h0.8v0.8h-0.8zM444.39,357.71h0.8v0.8h-0.8zM430,344.45h0.8v0.8h-0.8zM441.27,341.79h0.8v0.8h-0.8z" fill="#404040"/>
<path d="M438.04,364.61h0.84v0.84h-0.84zM436.15,371.03h0.84v0.84h-0.84zM436.04,377.24h0.84v0.84h-0.84zM432.27,364.47h0.84v0.84h-0.84zM433.61,371.79h0.84v0.84h-0.84zM440.8,372.79h0.84v0.84h-0.84zM435.16,372.05h0.84v0.84h-0.84zM430.87,373.4h0.84v0.84h-0.84zM436.57,372.85h0.84v0.84h-0.84zM432.27,379.27h0.84v0.84h-0.84zM441.36,370.99h0.84v0.84h-0.84zM429.99,374.39h0.84v0.84h-0.84zM427.13,372.96h0.84v0.84h-0.84zM442.77,363h0.84v0.84h-0.84zM440.76,360.77h0.84v0.84h-0.84zM437.49,374.05h0.84v0.84h-0.84zM438.81,372.34h0.84v0.84h-0.84zM442.47,364.77h0.84v0.84h-0.84zM433.37,368.34h0.84v0.84h-0.84zM441.14,363.43h0.84v0.84h-0.84zM444.9,371.44h0.84v0.84h-0.84zM433.7,366.22h0.84v0.84h-0.84zM439.78,371.91h0.84v0.84h-0.84zM442.64,371h0.84v0.84h-0.84zM428.05,376.31h0.84v0.84h-0.84zM441.32,378.19h0.84v0.84h-0.84zM433.69,370.98h0.84v0.84h-0.84zM448.72,375.5h0.84v0.84h-0.84zM445.76,364.49h0.84v0.84h-0.84zM436.34,365.07h0.84v0.84h-0.84zM433.91,367.53h0.84v0.84h-0.84zM434.72,368.99h0.84v0.84h-0.84zM436.66,373.65h0.84v0.84h-0.84zM427.58,366.97h0.84v0.84h-0.84zM426.04,368.56h0.84v0.84h-0.84zM436.67,375.15h0.84v0.84h-0.84zM437.87,371.46h0.84v0.84h-0.84zM441.72,376.26h0.84v0.84h-0.84zM430.08,363.88h0.84v0.84h-0.84zM427.19,371.94h0.84v0.84h-0.84zM432.99,370.69h0.84v0.84h-0.84zM431.37,367.6h0.84v0.84h-0.84zM440.66,370.11h0.84v0.84h-0.84zM430.22,371.28h0.84v0.84h-0.84zM435.38,363.08h0.84v0.84h-0.84zM433.37,371.78h0.84v0.84h-0.84zM448.63,368.12h0.84v0.84h-0.84zM450.63,367.06h0.84v0.84h-0.84zM432.83,368.27h0.84v0.84h-0.84zM437.97,372.94h0.84v0.84h-0.84zM434.81,364.26h0.84v0.84h-0.84zM439.03,365.85h0.84v0.84h-0.84zM446.04,375.36h0.84v0.84h-0.84zM434.28,362.95h0.84v0.84h-0.84zM441.72,381.53h0.84v0.84h-0.84zM435.85,379.59h0.84v0.84h-0.84zM445.57,370.92h0.84v0.84h-0.84zM435.31,373.31h0.84v0.84h-0.84zM443.11,365.53h0.84v0.84h-0.84zM436.47,377.71h0.84v0.84h-0.84zM434.74,365.75h0.84v0.84h-0.84zM442.05,378.24h0.84v0.84h-0.84zM446.08,368.88h0.84v0.84h-0.84zM431.51,367.63h0.84v0.84h-0.84zM436.9,377.64h0.84v0.84h-0.84zM437.44,369.41h0.84v0.84h-0.84zM438.84,372.04h0.84v0.84h-0.84zM443.03,369.95h0.84v0.84h-0.84zM440.24,371.19h0.84v0.84h-0.84zM441.29,365.44h0.84v0.84h-0.84zM436.43,372.02h0.84v0.84h-0.84zM445.67,372.18h0.84v0.84h-0.84zM442.03,366.17h0.84v0.84h-0.84zM434.01,368h0.84v0.84h-0.84zM433.75,368.43h0.84v0.84h-0.84zM435.73,365.39h0.84v0.84h-0.84zM443.75,368.81h0.84v0.84h-0.84zM444.39,376.23h0.84v0.84h-0.84zM443.57,379.99h0.84v0.84h-0.84zM431.29,374.12h0.84v0.84h-0.84zM435.51,369.57h0.84v0.84h-0.84zM431.37,363.3h0.84v0.84h-0.84zM435.36,374.58h0.84v0.84h-0.84zM443.17,373.68h0.84v0.84h-0.84zM444.51,375.43h0.84v0.84h-0.84zM441.56,370.2h0.84v0.84h-0.84zM443.86,363.7h0.84v0.84h-0.84zM434.54,372.58h0.84v0.84h-0.84zM438.46,367.79h0.84v0.84h-0.84zM443.38,373.63h0.84v0.84h-0.84zM437.08,370.52h0.84v0.84h-0.84zM442.79,370.12h0.84v0.84h-0.84zM438.22,368.27h0.84v0.84h-0.84zM438.42,371.64h0.84v0.84h-0.84zM431.27,369.05h0.84v0.84h-0.84zM435.86,371.08h0.84v0.84h-0.84zM435.58,366.88h0.84v0.84h-0.84zM436.54,366.36h0.84v0.84h-0.84zM443.11,368.2h0.84v0.84h-0.84zM438.85,362.46h0.84v0.84h-0.84zM446.03,368.06h0.84v0.84h-0.84zM433.34,374.03h0.84v0.84h-0.84zM438.87,374.97h0.84v0.84h-0.84zM440.44,375.9h0.84v0.84h-0.84zM435.33,363.81h0.84v0.84h-0.84zM437.83,370.39h0.84v0.84h-0.84zM443.58,364.69h0.84v0.84h-0.84zM445.57,366.72h0.84v0.84h-0.84zM442.22,368.33h0.84v0.84h-0.84zM434.53,360.44h0.84v0.84h-0.84zM442.84,373.53h0.84v0.84h-0.84zM441.5,371.79h0.84v0.84h-0.84zM444.64,366.41h0.84v0.84h-0.84zM435.16,373.7h0.84v0.84h-0.84zM433.25,374.98h0.84v0.84h-0.84zM440.45,373.56h0.84v0.84h-0.84zM441.59,370.38h0.84v0.84h-0.84zM433.15,371.78h0.84v0.84h-0.84zM434.13,372.23h0.84v0.84h-0.84zM439.57,371.09h0.84v0.84h-0.84zM442.75,371.18h0.84v0.84h-0.84zM440.89,367.22h0.84v0.84h-0.84zM434.03,372.18h0.84v0.84h-0.84zM437.36,372.49h0.84v0.84h-0.84zM443.57,371.55h0.84v0.84h-0.84zM435.97,371.17h0.84v0.84h-0.84zM441.37,370.67h0.84v0.84h-0.84zM440.66,370.44h0.84v0.84h-0.84zM443.32,370.73h0.84v0.84h-0.84zM435.75,373.2h0.84v0.84h-0.84zM438.82,374.62h0.84v0.84h-0.84zM441.4,372.85h0.84v0.84h-0.84zM434.64,371.53h0.84v0.84h-0.84zM439.58,376.71h0.84v0.84h-0.84zM439.71,370h0.84v0.84h-0.84zM438.38,379.63h0.84v0.84h-0.84zM431.02,371.08h0.84v0.84h-0.84zM436.61,366.93h0.84v0.84h-0.84zM435.69,372.61h0.84v0.84h-0.84zM439.09,369.8h0.84v0.84h-0.84zM432.12,371.76h0.84v0.84h-0.84zM435.92,374.04h0.84v0.84h-0.84zM434.62,373.96h0.84v0.84h-0.84zM437.12,369.41h0.84v0.84h-0.84zM430.19,373.07h0.84v0.84h-0.84zM436,369.15h0.84v0.84h-0.84zM442.58,369.93h0.84v0.84h-0.84zM432.71,373.23h0.84v0.84h-0.84zM438.35,366.33h0.84v0.84h-0.84zM429.79,366.6h0.84v0.84h-0.84zM439.22,375.12h0.84v0.84h-0.84zM435.85,371.17h0.84v0.84h-0.84zM435.98,373.59h0.84v0.84h-0.84zM434.9,374.73h0.84v0.84h-0.84zM440.23,370.97h0.84v0.84h-0.84zM433.11,376.17h0.84v0.84h-0.84zM441.53,376.16h0.84v0.84h-0.84zM437.33,376.24h0.84v0.84h-0.84zM436.53,371.55h0.84v0.84h-0.84zM440.66,374h0.84v0.84h-0.84zM436.69,371.04h0.84v0.84h-0.84zM442.45,375.17h0.84v0.84h-0.84zM437.86,368.2h0.84v0.84h-0.84zM429.43,379.73h0.84v0.84h-0.84zM442.51,372.22h0.84v0.84h-0.84zM438.25,373.17h0.84v0.84h-0.84zM440.45,368.36h0.84v0.84h-0.84zM434.51,374.87h0.84v0.84h-0.84zM437.67,374.72h0.84v0.84h-0.84zM434.82,377.56h0.84v0.84h-0.84zM441.74,367.48h0.84v0.84h-0.84zM431.31,372.32h0.84v0.84h-0.84zM433.5,373.18h0.84v0.84h-0.84zM434.9,371.27h0.84v0.84h-0.84zM440.11,375.05h0.84v0.84h-0.84zM433.87,375.45h0.84v0.84h-0.84zM444.07,373.57h0.84v0.84h-0.84zM435.58,372.21h0.84v0.84h-0.84zM435.79,369.3h0.84v0.84h-0.84zM434.71,377.93h0.84v0.84h-0.84zM440.43,374.47h0.84v0.84h-0.84zM405.05,365.08h0.84v0.84h-0.84zM441.26,355.67h0.84v0.84h-0.84zM413.6,364.73h0.84v0.84h-0.84zM398.49,359.98h0.84v0.84h-0.84zM424.24,365.29h0.84v0.84h-0.84zM414.1,372.88h0.84v0.84h-0.84zM416.86,373.62h0.84v0.84h-0.84zM432.78,371.47h0.84v0.84h-0.84zM395.67,364.4h0.84v0.84h-0.84zM429.07,362.01h0.84v0.84h-0.84zM432.02,361.46h0.84v0.84h-0.84zM414.73,370.13h0.84v0.84h-0.84zM393.72,366.54h0.84v0.84h-0.84zM418.01,354.13h0.84v0.84h-0.84zM400.65,357.7h0.84v0.84h-0.84zM438.95,354.94h0.84v0.84h-0.84zM436.57,351.69h0.84v0.84h-0.84zM438.25,361.85h0.84v0.84h-0.84zM410.16,360.66h0.84v0.84h-0.84zM436.73,352.61h0.84v0.84h-0.84zM423.8,368.9h0.84v0.84h-0.84zM408.75,361h0.84v0.84h-0.84zM430.91,371.46h0.84v0.84h-0.84zM404.47,370.37h0.84v0.84h-0.84zM392.98,364.81h0.84v0.84h-0.84zM440.08,373.76h0.84v0.84h-0.84zM428.67,364.04h0.84v0.84h-0.84zM409.95,372.9h0.84v0.84h-0.84zM420.45,370.73h0.84v0.84h-0.84zM440.27,362.94h0.84v0.84h-0.84zM416.49,364.3h0.84v0.84h-0.84zM436.59,373.76h0.84v0.84h-0.84zM422.96,372.01h0.84v0.84h-0.84zM413.75,371.56h0.84v0.84h-0.84zM401.94,364.34h0.84v0.84h-0.84zM398.47,361.28h0.84v0.84h-0.84zM433.93,352.42h0.84v0.84h-0.84zM436.3,362.17h0.84v0.84h-0.84zM403.23,359.95h0.84v0.84h-0.84zM424.16,370.58h0.84v0.84h-0.84zM428.61,357.68h0.84v0.84h-0.84zM396.17,371.6h0.84v0.84h-0.84zM414.99,357.21h0.84v0.84h-0.84zM408.38,376.25h0.84v0.84h-0.84zM407.53,370.37h0.84v0.84h-0.84zM436.51,362.76h0.84v0.84h-0.84zM414.31,367.77h0.84v0.84h-0.84zM439.95,366.81h0.84v0.84h-0.84zM404.38,370.03h0.84v0.84h-0.84zM405.1,369.18h0.84v0.84h-0.84zM439.82,353.84h0.84v0.84h-0.84zM414.46,372.7h0.84v0.84h-0.84zM396.02,360.22h0.84v0.84h-0.84zM403.52,374.55h0.84v0.84h-0.84zM394.02,357.8h0.84v0.84h-0.84zM420.36,363h0.84v0.84h-0.84zM415.33,358.88h0.84v0.84h-0.84zM421.57,353.13h0.84v0.84h-0.84zM432.73,374.01h0.84v0.84h-0.84zM400.32,366.02h0.84v0.84h-0.84zM420.94,373.07h0.84v0.84h-0.84zM416.22,372.88h0.84v0.84h-0.84zM427.49,363.98h0.84v0.84h-0.84zM400.39,370.05h0.84v0.84h-0.84zM422.91,356.12h0.84v0.84h-0.84zM438.74,362.1h0.84v0.84h-0.84zM412.89,368.99h0.84v0.84h-0.84zM415.98,370.82h0.84v0.84h-0.84zM426.61,353.34h0.84v0.84h-0.84zM412.04,362.29h0.84v0.84h-0.84zM421.96,365.63h0.84v0.84h-0.84zM440.99,355.35h0.84v0.84h-0.84zM422.2,367.16h0.84v0.84h-0.84zM435.04,353.51h0.84v0.84h-0.84zM395.58,372h0.84v0.84h-0.84zM404.1,375.98h0.84v0.84h-0.84zM403.23,358h0.84v0.84h-0.84zM401.26,366.74h0.84v0.84h-0.84zM408.98,370.4h0.84v0.84h-0.84zM419.35,352.76h0.84v0.84h-0.84zM402.62,360.58h0.84v0.84h-0.84zM430.65,369.68h0.84v0.84h-0.84zM412.7,363.4h0.84v0.84h-0.84zM430.95,361.48h0.84v0.84h-0.84zM443.98,361.07h0.84v0.84h-0.84zM444.08,352.17h0.84v0.84h-0.84zM439.67,357.21h0.84v0.84h-0.84zM435.49,344.27h0.84v0.84h-0.84zM433.93,349.31h0.84v0.84h-0.84zM441.9,352.64h0.84v0.84h-0.84zM431.19,346.28h0.84v0.84h-0.84zM445.37,354.22h0.84v0.84h-0.84zM426.07,353.28h0.84v0.84h-0.84zM420.45,358.81h0.84v0.84h-0.84zM428.88,347.57h0.84v0.84h-0.84zM411.49,347.86h0.84v0.84h-0.84zM430.42,359.88h0.84v0.84h-0.84zM432.24,361.4h0.84v0.84h-0.84zM431.08,335.76h0.84v0.84h-0.84zM448.38,357.45h0.84v0.84h-0.84zM422.85,353.8h0.84v0.84h-0.84zM442.72,358.15h0.84v0.84h-0.84zM439.65,360.37h0.84v0.84h-0.84zM432.45,352.5h0.84v0.84h-0.84zM437.99,361.36h0.84v0.84h-0.84zM436.6,359.91h0.84v0.84h-0.84zM425.99,355.6h0.84v0.84h-0.84zM445.09,364.81h0.84v0.84h-0.84zM414.01,350.31h0.84v0.84h-0.84z" fill="#E8792E"/>
<path d="M409.87,374.81 C408.81,373.69 410.6,370.95 411.92,369.56 C413.24,368.18 415.66,368.14 417.78,366.49 C419.91,364.85 422.44,361.72 424.66,359.69 C426.87,357.66 429.03,355.88 431.05,354.31 C433.06,352.73 434.95,350.73 436.73,350.23 C438.5,349.74 440.18,350.31 441.7,351.33 C443.23,352.35 444.9,354.22 445.86,356.35 C446.82,358.48 447.39,361.63 447.47,364.13 C447.56,366.64 447.3,369.53 446.38,371.39 C445.46,373.26 444.72,374.5 441.95,375.31 C439.19,376.12 433.73,376.09 429.79,376.26 C425.85,376.42 421.62,376.54 418.3,376.3 C414.98,376.06 410.94,375.94 409.87,374.81Z" fill="none" stroke="#262626" stroke-width="0.95"/>
<path d="M413.83,373.69 C413.01,372.94 414.9,371.21 416.06,369.93 C417.23,368.65 419.08,367.42 420.8,366.01 C422.52,364.6 424.5,363.17 426.37,361.48 C428.24,359.79 430.33,357.17 432.02,355.84 C433.71,354.51 435.03,353.84 436.49,353.49 C437.96,353.14 439.48,352.99 440.82,353.73 C442.16,354.48 443.8,356.11 444.55,357.95 C445.31,359.79 445.47,362.72 445.34,364.77 C445.22,366.83 444.51,368.77 443.83,370.31 C443.15,371.85 443.38,373.33 441.25,374.02 C439.12,374.71 434.42,374.36 431.04,374.43 C427.66,374.5 423.84,374.57 420.97,374.45 C418.11,374.33 414.65,374.45 413.83,373.69Z" fill="none" stroke="#262626" stroke-width="0.75"/>
<path d="M417.41,372.75 C416.65,372.11 418.02,370.63 419.06,369.63 C420.1,368.62 422.16,367.95 423.64,366.73 C425.12,365.51 426.47,363.71 427.94,362.32 C429.41,360.93 430.99,359.4 432.45,358.41 C433.91,357.41 435.48,356.67 436.69,356.35 C437.9,356.03 438.73,355.93 439.72,356.48 C440.7,357.04 441.96,358.19 442.6,359.68 C443.24,361.16 443.55,363.7 443.53,365.4 C443.52,367.1 443.1,368.57 442.52,369.85 C441.94,371.12 441.85,372.48 440.05,373.05 C438.24,373.62 434.42,373.19 431.68,373.26 C428.95,373.33 426.01,373.57 423.63,373.49 C421.25,373.41 418.17,373.4 417.41,372.75Z" fill="none" stroke="#262626" stroke-width="0.75"/>
<path d="M421.72,371.23 C421.14,370.68 422.12,369.82 422.84,369.09 C423.56,368.35 424.85,367.73 426.05,366.81 C427.25,365.9 428.86,364.62 430.05,363.61 C431.23,362.61 432.11,361.55 433.14,360.81 C434.17,360.06 435.27,359.35 436.23,359.12 C437.19,358.89 438.1,358.96 438.89,359.41 C439.68,359.87 440.55,360.73 440.98,361.85 C441.41,362.97 441.52,364.85 441.46,366.12 C441.39,367.4 441.05,368.6 440.6,369.5 C440.15,370.39 440.12,371.06 438.73,371.49 C437.33,371.92 434.28,371.92 432.22,372.07 C430.16,372.22 428.11,372.53 426.36,372.39 C424.61,372.25 422.31,371.78 421.72,371.23Z" fill="none" stroke="#262626" stroke-width="0.75"/>
<path d="M425.99,370.4 C425.62,370.03 426.16,369.18 426.66,368.66 C427.16,368.14 428.2,367.84 429.01,367.26 C429.82,366.68 430.77,365.87 431.52,365.17 C432.28,364.47 432.88,363.68 433.55,363.07 C434.23,362.47 434.89,361.78 435.58,361.55 C436.27,361.33 437.09,361.36 437.69,361.74 C438.28,362.11 438.81,363 439.14,363.79 C439.47,364.59 439.73,365.63 439.68,366.48 C439.62,367.34 439.18,368.24 438.8,368.91 C438.42,369.58 438.32,370.18 437.4,370.52 C436.48,370.85 434.71,370.88 433.29,370.93 C431.88,370.98 430.11,370.92 428.89,370.84 C427.68,370.75 426.36,370.76 425.99,370.4Z" fill="none" stroke="#262626" stroke-width="0.75"/>
<path d="M429.82,369.28 C429.62,369.07 430.18,368.63 430.48,368.34 C430.77,368.04 431.2,367.84 431.6,367.53 C432.01,367.22 432.46,366.87 432.91,366.48 C433.35,366.1 433.84,365.53 434.27,365.21 C434.7,364.88 435.13,364.63 435.47,364.53 C435.81,364.42 436.05,364.42 436.33,364.59 C436.62,364.77 436.99,365.14 437.17,365.59 C437.36,366.03 437.46,366.76 437.47,367.25 C437.49,367.74 437.44,368.14 437.26,368.52 C437.09,368.89 437,369.3 436.45,369.49 C435.9,369.69 434.77,369.68 433.98,369.69 C433.18,369.71 432.37,369.66 431.68,369.59 C430.98,369.52 430.02,369.49 429.82,369.28Z" fill="none" stroke="#262626" stroke-width="0.75"/>
<path d="M411.77,374.21 C410.75,373.17 412.2,370.96 413.48,369.65 C414.75,368.33 417.28,367.75 419.4,366.33 C421.52,364.9 424.24,362.92 426.2,361.1 C428.15,359.29 429.38,357 431.14,355.42 C432.9,353.84 435.12,352.16 436.76,351.61 C438.4,351.05 439.54,351.3 440.97,352.12 C442.41,352.94 444.45,354.53 445.36,356.52 C446.26,358.52 446.51,361.8 446.42,364.1 C446.32,366.39 445.66,368.55 444.77,370.28 C443.89,372.01 443.49,373.68 441.11,374.47 C438.73,375.27 434.08,374.82 430.5,375.05 C426.91,375.28 422.73,376 419.61,375.86 C416.49,375.72 412.8,375.24 411.77,374.21Z" fill="none" stroke="#E8792E" stroke-width="0.6"/>
<path d="M418.02,372.44 C417.3,371.68 418.26,370.25 419.21,369.32 C420.16,368.39 422.24,367.95 423.73,366.84 C425.21,365.72 426.67,364.04 428.12,362.65 C429.56,361.25 431.01,359.51 432.38,358.49 C433.76,357.47 435.06,356.9 436.35,356.53 C437.64,356.16 439.07,355.64 440.12,356.27 C441.16,356.9 441.96,358.8 442.63,360.3 C443.3,361.8 444.12,363.66 444.14,365.27 C444.16,366.88 443.36,368.68 442.73,369.95 C442.11,371.22 442.25,372.26 440.38,372.9 C438.5,373.55 434.31,373.67 431.51,373.82 C428.71,373.98 425.81,374.07 423.56,373.84 C421.31,373.61 418.75,373.19 418.02,372.44Z" fill="none" stroke="#E8792E" stroke-width="0.6"/>
<path d="M423.69,371.42 C423.27,371 424.46,369.99 425.13,369.37 C425.81,368.75 426.8,368.5 427.74,367.72 C428.68,366.94 429.82,365.65 430.77,364.69 C431.73,363.73 432.49,362.63 433.45,361.96 C434.4,361.29 435.61,360.93 436.5,360.69 C437.4,360.45 438.14,360.14 438.8,360.51 C439.47,360.87 440.11,361.84 440.51,362.88 C440.9,363.91 441.21,365.58 441.18,366.72 C441.15,367.85 440.75,368.88 440.33,369.68 C439.92,370.48 439.85,371.15 438.7,371.54 C437.55,371.93 435.26,371.95 433.42,372.02 C431.57,372.08 429.27,372.04 427.65,371.94 C426.02,371.84 424.11,371.85 423.69,371.42Z" fill="none" stroke="#E8792E" stroke-width="0.6"/>
<path d="M429.81,370.31 C429.6,370.11 430.23,369.65 430.58,369.33 C430.93,369.01 431.43,368.8 431.91,368.4 C432.39,368 432.98,367.41 433.48,366.92 C433.97,366.43 434.45,365.86 434.9,365.48 C435.36,365.1 435.81,364.77 436.22,364.64 C436.62,364.52 436.97,364.48 437.33,364.72 C437.7,364.96 438.17,365.56 438.4,366.06 C438.62,366.57 438.69,367.19 438.68,367.76 C438.67,368.32 438.56,369 438.32,369.45 C438.09,369.91 437.89,370.3 437.27,370.47 C436.66,370.64 435.54,370.49 434.63,370.5 C433.72,370.52 432.63,370.59 431.83,370.56 C431.03,370.53 430.02,370.52 429.81,370.31Z" fill="none" stroke="#E8792E" stroke-width="0.6"/>
<path d="M394.09,370.22 C394.24,369.42 396.48,367.45 397.47,367.47 C398.46,367.49 400.18,369.53 400.03,370.33 C399.89,371.13 397.56,372.28 396.57,372.26 C395.58,372.25 393.94,371.02 394.09,370.22Z" fill="none" stroke="#444" stroke-width="0.6"/>
<path d="M395.34,369.93 C395.32,369.5 396.41,368.77 396.93,368.82 C397.45,368.86 398.43,369.75 398.45,370.18 C398.47,370.61 397.55,371.44 397.04,371.4 C396.52,371.36 395.36,370.36 395.34,369.93Z" fill="none" stroke="#444" stroke-width="0.6"/>
<path d="M433.88,473.67h0.8v0.8h-0.8zM421.31,465.2h0.8v0.8h-0.8zM426.37,464.92h0.8v0.8h-0.8zM434.47,457.51h0.8v0.8h-0.8zM420.83,476.95h0.8v0.8h-0.8zM428.49,459.98h0.8v0.8h-0.8zM433.45,475.26h0.8v0.8h-0.8zM419.99,475.65h0.8v0.8h-0.8zM426.91,466.91h0.8v0.8h-0.8zM417.88,477.52h0.8v0.8h-0.8zM396.3,469.25h0.8v0.8h-0.8zM430.9,471.18h0.8v0.8h-0.8zM392.85,477.44h0.8v0.8h-0.8zM423.3,458.64h0.8v0.8h-0.8zM397.3,474.92h0.8v0.8h-0.8zM412.26,461.98h0.8v0.8h-0.8zM394.78,464.76h0.8v0.8h-0.8zM407.15,468.27h0.8v0.8h-0.8zM396.7,467.89h0.8v0.8h-0.8zM429.46,456.76h0.8v0.8h-0.8zM407.98,469.3h0.8v0.8h-0.8zM398.06,465.12h0.8v0.8h-0.8zM414.49,468.38h0.8v0.8h-0.8zM404.85,468.78h0.8v0.8h-0.8zM415.91,476.5h0.8v0.8h-0.8zM413.9,467.96h0.8v0.8h-0.8zM398.38,465.72h0.8v0.8h-0.8zM435.16,476.77h0.8v0.8h-0.8zM421.06,472.03h0.8v0.8h-0.8zM431.15,468.61h0.8v0.8h-0.8zM417.42,464.55h0.8v0.8h-0.8zM406.36,464.94h0.8v0.8h-0.8zM438.04,465.35h0.8v0.8h-0.8zM434.03,470.82h0.8v0.8h-0.8zM391.85,476.22h0.8v0.8h-0.8zM429.71,466.96h0.8v0.8h-0.8zM409.35,476.35h0.8v0.8h-0.8zM408.93,471.93h0.8v0.8h-0.8zM421.28,475.44h0.8v0.8h-0.8zM420.42,469.9h0.8v0.8h-0.8zM429.59,469.16h0.8v0.8h-0.8zM405.92,460.38h0.8v0.8h-0.8zM424.89,456.73h0.8v0.8h-0.8zM436.93,454.93h0.8v0.8h-0.8zM411.59,478.34h0.8v0.8h-0.8zM420.13,469.7h0.8v0.8h-0.8zM409.25,468.32h0.8v0.8h-0.8zM423.58,472.98h0.8v0.8h-0.8zM413.93,472.31h0.8v0.8h-0.8zM417.1,463.05h0.8v0.8h-0.8zM392.13,474.19h0.8v0.8h-0.8zM425.34,457.2h0.8v0.8h-0.8zM429.95,467.12h0.8v0.8h-0.8zM425.86,476.52h0.8v0.8h-0.8zM402.9,471.83h0.8v0.8h-0.8zM402.68,472.73h0.8v0.8h-0.8zM432.43,469.21h0.8v0.8h-0.8zM395.59,469.09h0.8v0.8h-0.8zM427.76,457.47h0.8v0.8h-0.8zM417.19,476.5h0.8v0.8h-0.8zM420.22,456.58h0.8v0.8h-0.8zM417.61,470.72h0.8v0.8h-0.8zM410.19,472.86h0.8v0.8h-0.8zM394.99,463.25h0.8v0.8h-0.8zM399.88,466.65h0.8v0.8h-0.8zM399.32,464.86h0.8v0.8h-0.8zM401.21,468.59h0.8v0.8h-0.8zM409.69,476.99h0.8v0.8h-0.8zM400.91,466.05h0.8v0.8h-0.8zM416.82,476.09h0.8v0.8h-0.8zM417.18,474.08h0.8v0.8h-0.8zM391.78,475.65h0.8v0.8h-0.8zM413.65,469.35h0.8v0.8h-0.8zM437.3,469.75h0.8v0.8h-0.8zM435.16,474.64h0.8v0.8h-0.8zM401.52,464.56h0.8v0.8h-0.8zM402.1,462.92h0.8v0.8h-0.8zM417.78,474.54h0.8v0.8h-0.8zM415.64,461.14h0.8v0.8h-0.8zM428.33,462.62h0.8v0.8h-0.8zM409.18,470.86h0.8v0.8h-0.8zM438.98,469.85h0.8v0.8h-0.8zM429.73,462h0.8v0.8h-0.8zM429.3,465.03h0.8v0.8h-0.8zM417.17,460.27h0.8v0.8h-0.8zM414.53,475.01h0.8v0.8h-0.8zM428.5,477.59h0.8v0.8h-0.8zM432.91,472.61h0.8v0.8h-0.8zM420.09,456.93h0.8v0.8h-0.8zM408.57,467.43h0.8v0.8h-0.8zM420.09,463.31h0.8v0.8h-0.8zM427.45,476.39h0.8v0.8h-0.8zM392.23,463.11h0.8v0.8h-0.8zM432.78,478.27h0.8v0.8h-0.8zM398.6,462.94h0.8v0.8h-0.8zM427.59,474.41h0.8v0.8h-0.8zM398.19,477.83h0.8v0.8h-0.8zM407.96,460.86h0.8v0.8h-0.8zM418.01,472.11h0.8v0.8h-0.8zM432.46,465.14h0.8v0.8h-0.8zM406.02,459.46h0.8v0.8h-0.8zM410.82,465.52h0.8v0.8h-0.8zM428.77,476.36h0.8v0.8h-0.8zM418.55,468.83h0.8v0.8h-0.8zM406.6,462.17h0.8v0.8h-0.8zM439.49,471.68h0.8v0.8h-0.8zM393.95,464.34h0.8v0.8h-0.8zM429.09,471.52h0.8v0.8h-0.8zM425.12,460.9h0.8v0.8h-0.8zM413.65,477.54h0.8v0.8h-0.8zM413.62,461.02h0.8v0.8h-0.8zM413.51,478.83h0.8v0.8h-0.8zM420.08,478.04h0.8v0.8h-0.8zM411.76,478.9h0.8v0.8h-0.8zM409.43,471.78h0.8v0.8h-0.8zM412.01,470.86h0.8v0.8h-0.8zM438.18,474.75h0.8v0.8h-0.8zM401.9,465.49h0.8v0.8h-0.8zM419.22,463.12h0.8v0.8h-0.8zM425.56,474.06h0.8v0.8h-0.8zM414.2,470.99h0.8v0.8h-0.8zM421.84,462.23h0.8v0.8h-0.8zM434.6,457.39h0.8v0.8h-0.8zM393.63,463.58h0.8v0.8h-0.8zM438.7,479.04h0.8v0.8h-0.8zM423.96,459.93h0.8v0.8h-0.8zM424.63,458.13h0.8v0.8h-0.8zM398.41,470.23h0.8v0.8h-0.8zM404.6,462.33h0.8v0.8h-0.8zM393.34,465.44h0.8v0.8h-0.8zM416.92,457.25h0.8v0.8h-0.8zM438.23,467.21h0.8v0.8h-0.8zM397.18,470.3h0.8v0.8h-0.8zM426.23,478.55h0.8v0.8h-0.8zM394.19,476.94h0.8v0.8h-0.8zM437.9,468.17h0.8v0.8h-0.8zM421.62,470.83h0.8v0.8h-0.8zM427.93,469.17h0.8v0.8h-0.8zM402.38,474.43h0.8v0.8h-0.8zM426.89,476.42h0.8v0.8h-0.8zM405.66,471.49h0.8v0.8h-0.8zM394.2,475.31h0.8v0.8h-0.8zM411.86,463.57h0.8v0.8h-0.8zM425.59,461.22h0.8v0.8h-0.8zM410.89,475.41h0.8v0.8h-0.8zM421.49,477.23h0.8v0.8h-0.8zM416.8,473.59h0.8v0.8h-0.8zM396.21,467.57h0.8v0.8h-0.8zM404.29,470.34h0.8v0.8h-0.8zM438.67,454.3h0.8v0.8h-0.8zM421.44,476.84h0.8v0.8h-0.8zM414.87,471.21h0.8v0.8h-0.8zM401.71,478.64h0.8v0.8h-0.8zM436.99,469.68h0.8v0.8h-0.8zM431.39,465.21h0.8v0.8h-0.8zM421.32,475.77h0.8v0.8h-0.8zM427.83,475.78h0.8v0.8h-0.8zM412.39,479.43h0.8v0.8h-0.8zM408.4,461.56h0.8v0.8h-0.8zM397.02,475.23h0.8v0.8h-0.8zM428.31,466.52h0.8v0.8h-0.8zM424.78,454.62h0.8v0.8h-0.8zM422.35,469.73h0.8v0.8h-0.8zM405.19,473.41h0.8v0.8h-0.8zM425.87,472.44h0.8v0.8h-0.8zM420.62,464.29h0.8v0.8h-0.8zM424.57,463.99h0.8v0.8h-0.8zM406.47,470.92h0.8v0.8h-0.8zM394.38,467.84h0.8v0.8h-0.8zM396.67,470.21h0.8v0.8h-0.8zM406.18,458.74h0.8v0.8h-0.8zM399.75,465.7h0.8v0.8h-0.8zM427.76,469.38h0.8v0.8h-0.8zM428.2,463.19h0.8v0.8h-0.8zM435.07,468.2h0.8v0.8h-0.8zM409.4,472.75h0.8v0.8h-0.8zM420.76,466.17h0.8v0.8h-0.8zM429.69,468.84h0.8v0.8h-0.8zM412.64,465.75h0.8v0.8h-0.8zM434.6,476.8h0.8v0.8h-0.8zM418.22,461.6h0.8v0.8h-0.8zM407.07,477.81h0.8v0.8h-0.8zM423.66,474.87h0.8v0.8h-0.8zM422.87,471.48h0.8v0.8h-0.8zM439.35,458.71h0.8v0.8h-0.8zM418.94,476.46h0.8v0.8h-0.8zM412.3,475.09h0.8v0.8h-0.8zM405.35,470.07h0.8v0.8h-0.8zM410.45,471.24h0.8v0.8h-0.8zM418.02,463.05h0.8v0.8h-0.8zM435.74,462h0.8v0.8h-0.8zM421.57,471.19h0.8v0.8h-0.8zM401.54,461.13h0.8v0.8h-0.8zM427.93,456.07h0.8v0.8h-0.8zM397.51,468.73h0.8v0.8h-0.8zM425.31,466.95h0.8v0.8h-0.8zM397.07,470.61h0.8v0.8h-0.8zM419.34,474.19h0.8v0.8h-0.8zM406.12,467.02h0.8v0.8h-0.8zM424.98,467.72h0.8v0.8h-0.8zM405.6,472.82h0.8v0.8h-0.8zM402.68,461.65h0.8v0.8h-0.8zM406.84,478.43h0.8v0.8h-0.8zM438.65,461.9h0.8v0.8h-0.8zM439.84,470.18h0.8v0.8h-0.8zM437.98,468.93h0.8v0.8h-0.8zM399.32,470.43h0.8v0.8h-0.8zM419.26,476.72h0.8v0.8h-0.8zM411.07,463.37h0.8v0.8h-0.8zM434.01,462.26h0.8v0.8h-0.8zM421.23,476.65h0.8v0.8h-0.8zM396.38,466.91h0.8v0.8h-0.8zM418.53,473.67h0.8v0.8h-0.8zM430.19,460h0.8v0.8h-0.8zM406.59,469.45h0.8v0.8h-0.8zM400.92,472.8h0.8v0.8h-0.8zM393.56,473.09h0.8v0.8h-0.8zM405.81,472.83h0.8v0.8h-0.8zM404.61,471.55h0.8v0.8h-0.8zM419.53,460.49h0.8v0.8h-0.8zM422.89,461.08h0.8v0.8h-0.8zM414.46,471.56h0.8v0.8h-0.8zM413.6,461.61h0.8v0.8h-0.8zM397.47,470.45h0.8v0.8h-0.8zM428.93,464.1h0.8v0.8h-0.8zM424.37,470.84h0.8v0.8h-0.8zM394.99,478.56h0.8v0.8h-0.8zM431.98,461.19h0.8v0.8h-0.8zM395.45,476.62h0.8v0.8h-0.8zM414.71,472.96h0.8v0.8h-0.8zM394.84,476.02h0.8v0.8h-0.8zM435.74,468.08h0.8v0.8h-0.8zM426.67,466.35h0.8v0.8h-0.8zM434.12,472.26h0.8v0.8h-0.8zM409.03,471.53h0.8v0.8h-0.8zM428.25,472.77h0.8v0.8h-0.8zM425.21,473.33h0.8v0.8h-0.8zM412.6,467.86h0.8v0.8h-0.8zM404.97,475.35h0.8v0.8h-0.8zM434.2,462.13h0.8v0.8h-0.8zM413.93,458.42h0.8v0.8h-0.8zM409.5,474.7h0.8v0.8h-0.8zM408.65,471.22h0.8v0.8h-0.8zM421.47,467.26h0.8v0.8h-0.8zM435.24,478.59h0.8v0.8h-0.8zM414.91,475.51h0.8v0.8h-0.8zM406.38,466.58h0.8v0.8h-0.8zM412.81,468.02h0.8v0.8h-0.8zM418.15,467.41h0.8v0.8h-0.8zM426.48,473.81h0.8v0.8h-0.8zM418.34,468.2h0.8v0.8h-0.8zM396.17,473.93h0.8v0.8h-0.8zM401.45,467.82h0.8v0.8h-0.8zM413.16,472.27h0.8v0.8h-0.8zM399.04,475.36h0.8v0.8h-0.8zM395.9,471.04h0.8v0.8h-0.8zM398.35,467.36h0.8v0.8h-0.8zM426.09,455.69h0.8v0.8h-0.8zM422.5,466.18h0.8v0.8h-0.8zM432.89,459.06h0.8v0.8h-0.8zM416.55,465.68h0.8v0.8h-0.8zM393.24,471.79h0.8v0.8h-0.8zM417.2,468.88h0.8v0.8h-0.8zM408.67,457.82h0.8v0.8h-0.8zM409.17,462.47h0.8v0.8h-0.8zM399.98,473.85h0.8v0.8h-0.8zM409.99,461.31h0.8v0.8h-0.8zM418.23,467.81h0.8v0.8h-0.8zM399.21,471.29h0.8v0.8h-0.8zM415.22,459.9h0.8v0.8h-0.8zM423.12,475.02h0.8v0.8h-0.8zM413.91,473.83h0.8v0.8h-0.8zM401.83,467.27h0.8v0.8h-0.8zM412.81,476.83h0.8v0.8h-0.8zM404.98,471.4h0.8v0.8h-0.8zM436.8,476.94h0.8v0.8h-0.8zM435.18,473.23h0.8v0.8h-0.8zM391.62,466.07h0.8v0.8h-0.8zM412.53,463.83h0.8v0.8h-0.8zM423.7,474.06h0.8v0.8h-0.8zM407.89,464.36h0.8v0.8h-0.8zM411.87,475.81h0.8v0.8h-0.8zM393.5,469.42h0.8v0.8h-0.8zM393.59,471.81h0.8v0.8h-0.8zM429.69,476.34h0.8v0.8h-0.8zM427.74,461.94h0.8v0.8h-0.8zM392.92,473.71h0.8v0.8h-0.8zM427.37,471.7h0.8v0.8h-0.8zM394.05,464.99h0.8v0.8h-0.8zM394.28,473.87h0.8v0.8h-0.8zM395.24,471.79h0.8v0.8h-0.8zM417.83,469.91h0.8v0.8h-0.8zM436.25,453.38h0.8v0.8h-0.8zM439.69,455.54h0.8v0.8h-0.8zM402.85,467.35h0.8v0.8h-0.8zM433.93,472.9h0.8v0.8h-0.8zM415.03,459.9h0.8v0.8h-0.8zM400.97,464.45h0.8v0.8h-0.8zM392.03,475.03h0.8v0.8h-0.8zM429.36,477.54h0.8v0.8h-0.8zM418.2,476.8h0.8v0.8h-0.8zM396.29,476.69h0.8v0.8h-0.8zM421.74,465.96h0.8v0.8h-0.8zM435.71,464.72h0.8v0.8h-0.8zM418.05,461.14h0.8v0.8h-0.8zM395.13,459.73h0.8v0.8h-0.8zM395.12,478h0.8v0.8h-0.8zM436.33,462.51h0.8v0.8h-0.8zM393.02,465.61h0.8v0.8h-0.8zM405.44,465.57h0.8v0.8h-0.8zM429.33,464h0.8v0.8h-0.8zM421.55,467.07h0.8v0.8h-0.8zM425.59,464.21h0.8v0.8h-0.8zM429.09,473.48h0.8v0.8h-0.8zM399.01,465.4h0.8v0.8h-0.8zM428.03,464.61h0.8v0.8h-0.8zM430.3,467.73h0.8v0.8h-0.8zM426.9,466.5h0.8v0.8h-0.8zM412.51,476.22h0.8v0.8h-0.8zM418.43,477.01h0.8v0.8h-0.8zM399.45,475.77h0.8v0.8h-0.8zM400.86,468.02h0.8v0.8h-0.8zM431.65,458.81h0.8v0.8h-0.8zM399.16,458.76h0.8v0.8h-0.8zM393.94,464.61h0.8v0.8h-0.8zM392.91,474.77h0.8v0.8h-0.8zM421.93,458.94h0.8v0.8h-0.8zM418.61,458.01h0.8v0.8h-0.8zM399.38,472.31h0.8v0.8h-0.8zM438.13,459.24h0.8v0.8h-0.8zM399.41,472.73h0.8v0.8h-0.8zM398.49,469.42h0.8v0.8h-0.8zM434.33,452.88h0.8v0.8h-0.8zM429.97,477.65h0.8v0.8h-0.8zM398.82,478.34h0.8v0.8h-0.8zM439.58,472.77h0.8v0.8h-0.8zM425.17,454.01h0.8v0.8h-0.8zM397.74,465.08h0.8v0.8h-0.8zM416.68,473.98h0.8v0.8h-0.8zM413.42,474.6h0.8v0.8h-0.8zM403.97,473.18h0.8v0.8h-0.8zM411.5,470.8h0.8v0.8h-0.8zM410.11,472.33h0.8v0.8h-0.8zM416.11,466.03h0.8v0.8h-0.8zM426.3,459.8h0.8v0.8h-0.8zM437.57,455.34h0.8v0.8h-0.8zM427.75,464.89h0.8v0.8h-0.8zM427.06,457.74h0.8v0.8h-0.8zM412.39,471.85h0.8v0.8h-0.8zM390.61,469.6h0.8v0.8h-0.8zM393.72,476.42h0.8v0.8h-0.8zM431.58,463.28h0.8v0.8h-0.8zM412.16,470.91h0.8v0.8h-0.8zM422.98,475.12h0.8v0.8h-0.8zM422.86,469.24h0.8v0.8h-0.8zM426.97,467.18h0.8v0.8h-0.8zM396.03,465.45h0.8v0.8h-0.8zM391.19,466.93h0.8v0.8h-0.8zM438.25,465.05h0.8v0.8h-0.8zM422.36,466.52h0.8v0.8h-0.8zM414.7,466.02h0.8v0.8h-0.8zM397.9,467.2h0.8v0.8h-0.8zM398.17,469.54h0.8v0.8h-0.8zM421.57,461.55h0.8v0.8h-0.8zM440.88,465.58h0.8v0.8h-0.8zM425.34,461.77h0.8v0.8h-0.8zM436.64,475.73h0.8v0.8h-0.8zM418.05,473.77h0.8v0.8h-0.8zM413.07,463.57h0.8v0.8h-0.8zM396.24,475.8h0.8v0.8h-0.8zM400.89,479.43h0.8v0.8h-0.8zM430.46,468.02h0.8v0.8h-0.8zM400.84,473.6h0.8v0.8h-0.8zM412.68,456.86h0.8v0.8h-0.8zM397.47,471.19h0.8v0.8h-0.8zM422.17,476.63h0.8v0.8h-0.8zM407.28,473.74h0.8v0.8h-0.8zM424.52,468.66h0.8v0.8h-0.8zM434.37,454.88h0.8v0.8h-0.8zM394.64,476.65h0.8v0.8h-0.8zM406.9,468.31h0.8v0.8h-0.8zM427.16,457.43h0.8v0.8h-0.8zM408.66,476.82h0.8v0.8h-0.8zM406.9,476.06h0.8v0.8h-0.8zM409.93,469.92h0.8v0.8h-0.8zM420.2,471.3h0.8v0.8h-0.8zM425.75,477.14h0.8v0.8h-0.8zM395.99,463.98h0.8v0.8h-0.8zM417,464.21h0.8v0.8h-0.8zM417.12,476.89h0.8v0.8h-0.8zM418.89,465.65h0.8v0.8h-0.8zM432.17,462.21h0.8v0.8h-0.8zM424.55,465.84h0.8v0.8h-0.8zM421.42,472.11h0.8v0.8h-0.8zM395.91,476.06h0.8v0.8h-0.8zM419.59,474.19h0.8v0.8h-0.8zM424.94,475.14h0.8v0.8h-0.8zM418.05,466.3h0.8v0.8h-0.8zM435.85,456.96h0.8v0.8h-0.8zM437.51,454.09h0.8v0.8h-0.8zM411.75,477.22h0.8v0.8h-0.8zM404.27,476.29h0.8v0.8h-0.8zM433.02,461.56h0.8v0.8h-0.8zM396.6,472.43h0.8v0.8h-0.8zM431.35,468.13h0.8v0.8h-0.8zM390.89,467.6h0.8v0.8h-0.8zM433.29,459.31h0.8v0.8h-0.8zM432.56,465.89h0.8v0.8h-0.8zM418.91,463.45h0.8v0.8h-0.8zM410.04,472.83h0.8v0.8h-0.8zM414.5,460.43h0.8v0.8h-0.8zM432.07,461.14h0.8v0.8h-0.8zM429.69,465.16h0.8v0.8h-0.8zM392.34,465h0.8v0.8h-0.8zM403.52,471.15h0.8v0.8h-0.8zM401.77,472.67h0.8v0.8h-0.8zM432.81,462.68h0.8v0.8h-0.8zM430.3,472.53h0.8v0.8h-0.8zM415.03,464.27h0.8v0.8h-0.8zM416.99,459.03h0.8v0.8h-0.8zM433.47,455.76h0.8v0.8h-0.8zM398.07,460.43h0.8v0.8h-0.8zM418.1,461.6h0.8v0.8h-0.8zM426.48,471.22h0.8v0.8h-0.8zM405.17,458.2h0.8v0.8h-0.8zM410.64,462.02h0.8v0.8h-0.8zM431.35,462.91h0.8v0.8h-0.8zM415.51,474.54h0.8v0.8h-0.8zM437.46,465.09h0.8v0.8h-0.8zM409.61,465.8h0.8v0.8h-0.8zM397.84,473.07h0.8v0.8h-0.8zM416.4,477.06h0.8v0.8h-0.8zM400.79,467.38h0.8v0.8h-0.8zM395.92,476.4h0.8v0.8h-0.8zM399.43,470.13h0.8v0.8h-0.8zM404.44,471.54h0.8v0.8h-0.8zM427.51,477.24h0.8v0.8h-0.8zM434.33,466.98h0.8v0.8h-0.8zM430.71,453.94h0.8v0.8h-0.8zM438.98,469.46h0.8v0.8h-0.8zM435.39,473.93h0.8v0.8h-0.8zM434.21,455.63h0.8v0.8h-0.8zM429.55,470.3h0.8v0.8h-0.8zM425.07,447.38h0.8v0.8h-0.8zM438.72,462.37h0.8v0.8h-0.8zM437.75,449.35h0.8v0.8h-0.8zM432.9,462.72h0.8v0.8h-0.8zM437.12,467.41h0.8v0.8h-0.8zM432,468.78h0.8v0.8h-0.8zM438.14,470.67h0.8v0.8h-0.8zM442.39,471.66h0.8v0.8h-0.8zM449.27,456.73h0.8v0.8h-0.8zM437.43,467h0.8v0.8h-0.8zM434.1,465.63h0.8v0.8h-0.8zM428.24,470.51h0.8v0.8h-0.8zM422.19,472.24h0.8v0.8h-0.8zM431.72,470.42h0.8v0.8h-0.8zM424.29,457.04h0.8v0.8h-0.8zM434.42,469.56h0.8v0.8h-0.8zM439.94,452.17h0.8v0.8h-0.8zM427.06,454.51h0.8v0.8h-0.8zM432.3,458.24h0.8v0.8h-0.8zM433.45,465.85h0.8v0.8h-0.8zM429.78,483.07h0.8v0.8h-0.8zM443.63,457h0.8v0.8h-0.8zM424.29,448.77h0.8v0.8h-0.8zM445.09,464.37h0.8v0.8h-0.8zM448.72,461.86h0.8v0.8h-0.8zM432.62,478.41h0.8v0.8h-0.8zM428.41,473.05h0.8v0.8h-0.8zM444.86,460.94h0.8v0.8h-0.8zM439.42,462.13h0.8v0.8h-0.8zM425.44,462.34h0.8v0.8h-0.8zM424.97,463.22h0.8v0.8h-0.8zM425.22,450.44h0.8v0.8h-0.8zM427.52,466.28h0.8v0.8h-0.8zM436.01,473.32h0.8v0.8h-0.8zM437.21,456.23h0.8v0.8h-0.8zM430.88,458.93h0.8v0.8h-0.8zM422.28,476.42h0.8v0.8h-0.8zM434.83,460.05h0.8v0.8h-0.8zM425.45,463.57h0.8v0.8h-0.8zM436.61,459.09h0.8v0.8h-0.8zM439.65,468.35h0.8v0.8h-0.8zM434.65,470.92h0.8v0.8h-0.8zM422.92,464.26h0.8v0.8h-0.8zM432.79,461.47h0.8v0.8h-0.8zM433.3,465.87h0.8v0.8h-0.8zM437.7,466.43h0.8v0.8h-0.8zM424.06,459.27h0.8v0.8h-0.8zM427.96,481.71h0.8v0.8h-0.8zM441.34,469.35h0.8v0.8h-0.8zM431.33,462.46h0.8v0.8h-0.8zM436.84,467.16h0.8v0.8h-0.8zM439.74,457.93h0.8v0.8h-0.8zM451.29,459.75h0.8v0.8h-0.8zM434.14,469.78h0.8v0.8h-0.8zM431.51,465.48h0.8v0.8h-0.8zM428.83,451.81h0.8v0.8h-0.8zM428.54,446.83h0.8v0.8h-0.8zM438.05,474.66h0.8v0.8h-0.8zM437.7,458.49h0.8v0.8h-0.8zM451.13,456.18h0.8v0.8h-0.8zM437.31,467.69h0.8v0.8h-0.8zM437.64,462.61h0.8v0.8h-0.8zM437.8,460.03h0.8v0.8h-0.8zM430.49,462.3h0.8v0.8h-0.8zM440.68,458.83h0.8v0.8h-0.8zM423.44,466.56h0.8v0.8h-0.8zM436.92,453.56h0.8v0.8h-0.8zM432.44,462.71h0.8v0.8h-0.8zM434.83,474.29h0.8v0.8h-0.8zM424.88,461.65h0.8v0.8h-0.8zM439.44,470.51h0.8v0.8h-0.8zM443.47,471.64h0.8v0.8h-0.8zM437.65,468.76h0.8v0.8h-0.8zM442.98,469.78h0.8v0.8h-0.8zM433.74,464.66h0.8v0.8h-0.8zM443.39,466.95h0.8v0.8h-0.8zM441.48,468.86h0.8v0.8h-0.8zM438.82,455.69h0.8v0.8h-0.8zM438.49,463.93h0.8v0.8h-0.8zM437.05,466.89h0.8v0.8h-0.8zM430.12,465.17h0.8v0.8h-0.8zM443.75,462.92h0.8v0.8h-0.8zM433,464.2h0.8v0.8h-0.8zM429.89,460.06h0.8v0.8h-0.8zM429.98,475.07h0.8v0.8h-0.8zM430.98,470.47h0.8v0.8h-0.8zM435.69,458.15h0.8v0.8h-0.8zM431.6,471.13h0.8v0.8h-0.8zM431.64,459.55h0.8v0.8h-0.8zM438.25,468.82h0.8v0.8h-0.8zM439.57,470.87h0.8v0.8h-0.8zM432.84,464.67h0.8v0.8h-0.8zM413.3,456.34h0.8v0.8h-0.8zM431.22,469.03h0.8v0.8h-0.8zM420.63,457.21h0.8v0.8h-0.8zM431.58,465.44h0.8v0.8h-0.8zM450.17,470.46h0.8v0.8h-0.8zM436.84,467.88h0.8v0.8h-0.8zM434.18,480.8h0.8v0.8h-0.8zM424.14,457.91h0.8v0.8h-0.8zM435.85,464.65h0.8v0.8h-0.8zM429.41,463.88h0.8v0.8h-0.8zM433.33,456.85h0.8v0.8h-0.8zM429.84,469.3h0.8v0.8h-0.8zM429.92,472.37h0.8v0.8h-0.8zM421.64,469.69h0.8v0.8h-0.8zM430.55,459.1h0.8v0.8h-0.8zM441.84,465h0.8v0.8h-0.8zM432.71,454.7h0.8v0.8h-0.8zM424.04,467.11h0.8v0.8h-0.8zM427.91,476.19h0.8v0.8h-0.8zM429.81,474.01h0.8v0.8h-0.8zM437.09,462.46h0.8v0.8h-0.8zM446.63,461.34h0.8v0.8h-0.8zM432.54,454.74h0.8v0.8h-0.8zM428.47,477.85h0.8v0.8h-0.8zM425.99,466.41h0.8v0.8h-0.8zM418.61,460.16h0.8v0.8h-0.8zM444.55,455.96h0.8v0.8h-0.8zM444.13,455.13h0.8v0.8h-0.8zM428.84,448.68h0.8v0.8h-0.8zM435.73,450.23h0.8v0.8h-0.8zM433.09,456.55h0.8v0.8h-0.8zM441.45,451.56h0.8v0.8h-0.8zM428.38,448.65h0.8v0.8h-0.8zM437.88,457.31h0.8v0.8h-0.8zM433.88,445.57h0.8v0.8h-0.8zM443.03,450.6h0.8v0.8h-0.8zM429.98,449.06h0.8v0.8h-0.8zM432.2,457.92h0.8v0.8h-0.8zM439.97,444.98h0.8v0.8h-0.8zM435.4,459.84h0.8v0.8h-0.8zM428.22,456.34h0.8v0.8h-0.8zM432.13,461.67h0.8v0.8h-0.8zM431.33,451.11h0.8v0.8h-0.8zM436.26,458.8h0.8v0.8h-0.8zM434.84,455.05h0.8v0.8h-0.8zM446.02,450.12h0.8v0.8h-0.8zM430.34,454.23h0.8v0.8h-0.8zM421,445.84h0.8v0.8h-0.8zM429.32,446.61h0.8v0.8h-0.8zM427.43,450.64h0.8v0.8h-0.8zM436.38,441.18h0.8v0.8h-0.8zM439.63,450.88h0.8v0.8h-0.8z" fill="#404040"/>
<path d="M445.78,476.44h0.84v0.84h-0.84zM437,475.28h0.84v0.84h-0.84zM435.76,473.05h0.84v0.84h-0.84zM432.96,474.28h0.84v0.84h-0.84zM442.45,470.95h0.84v0.84h-0.84zM435.78,473.75h0.84v0.84h-0.84zM437.57,475.2h0.84v0.84h-0.84zM435.18,485.02h0.84v0.84h-0.84zM444.32,475.23h0.84v0.84h-0.84zM434.01,471.5h0.84v0.84h-0.84zM435.64,476.51h0.84v0.84h-0.84zM429.31,479.59h0.84v0.84h-0.84zM436.7,477.72h0.84v0.84h-0.84zM432.85,476.75h0.84v0.84h-0.84zM438.92,479.17h0.84v0.84h-0.84zM437.13,476.24h0.84v0.84h-0.84zM435.53,470.97h0.84v0.84h-0.84zM435.74,480.81h0.84v0.84h-0.84zM440.37,482.02h0.84v0.84h-0.84zM437.41,468.64h0.84v0.84h-0.84zM440.4,470.12h0.84v0.84h-0.84zM427.74,467.81h0.84v0.84h-0.84zM428.87,469.58h0.84v0.84h-0.84zM431.8,469.57h0.84v0.84h-0.84zM426.86,476.86h0.84v0.84h-0.84zM435.36,477.55h0.84v0.84h-0.84zM430.76,471.94h0.84v0.84h-0.84zM438.72,474.7h0.84v0.84h-0.84zM433.32,475.02h0.84v0.84h-0.84zM429.57,474.41h0.84v0.84h-0.84zM435.29,479.59h0.84v0.84h-0.84zM434.56,472.69h0.84v0.84h-0.84zM433.34,468.8h0.84v0.84h-0.84zM437.05,471.95h0.84v0.84h-0.84zM432.3,476.31h0.84v0.84h-0.84zM436.72,476.71h0.84v0.84h-0.84zM436.4,469.68h0.84v0.84h-0.84zM437.99,467.49h0.84v0.84h-0.84zM443.08,473.05h0.84v0.84h-0.84zM426.22,474.36h0.84v0.84h-0.84zM435.82,475.81h0.84v0.84h-0.84zM438.13,475.08h0.84v0.84h-0.84zM435.69,471.19h0.84v0.84h-0.84zM442.68,475.77h0.84v0.84h-0.84zM433.93,468.45h0.84v0.84h-0.84zM421.8,478.05h0.84v0.84h-0.84zM438.85,470.7h0.84v0.84h-0.84zM441.64,470.26h0.84v0.84h-0.84zM434.42,473.21h0.84v0.84h-0.84zM440.74,479.23h0.84v0.84h-0.84zM440.21,459.44h0.84v0.84h-0.84zM432.89,479.63h0.84v0.84h-0.84zM435.81,468.28h0.84v0.84h-0.84zM430.85,467.83h0.84v0.84h-0.84zM446.63,472.57h0.84v0.84h-0.84zM440.87,472.35h0.84v0.84h-0.84zM431.41,471.12h0.84v0.84h-0.84zM434.32,465.14h0.84v0.84h-0.84zM431.69,474.41h0.84v0.84h-0.84zM429.07,479.77h0.84v0.84h-0.84zM441.26,477.11h0.84v0.84h-0.84zM434.23,472.54h0.84v0.84h-0.84zM442.45,472.31h0.84v0.84h-0.84zM435.45,483.5h0.84v0.84h-0.84zM442.49,474.88h0.84v0.84h-0.84zM430.43,466.67h0.84v0.84h-0.84zM427.36,467.23h0.84v0.84h-0.84zM442.37,473.86h0.84v0.84h-0.84zM439.94,473.27h0.84v0.84h-0.84zM429.97,480.12h0.84v0.84h-0.84zM432.23,458.92h0.84v0.84h-0.84zM439.97,474.16h0.84v0.84h-0.84zM431.05,467.66h0.84v0.84h-0.84zM433.73,469.11h0.84v0.84h-0.84zM430.37,472.99h0.84v0.84h-0.84zM443.22,469.57h0.84v0.84h-0.84zM439.74,467.04h0.84v0.84h-0.84zM428.76,477.15h0.84v0.84h-0.84zM425.77,467.12h0.84v0.84h-0.84zM437.12,472.33h0.84v0.84h-0.84zM433.49,480.1h0.84v0.84h-0.84zM430.12,465.94h0.84v0.84h-0.84zM434.07,469.96h0.84v0.84h-0.84zM436.51,475.84h0.84v0.84h-0.84zM437.22,468.94h0.84v0.84h-0.84zM442.79,474.56h0.84v0.84h-0.84zM440.9,470.75h0.84v0.84h-0.84zM434.59,464.36h0.84v0.84h-0.84zM433.68,467.54h0.84v0.84h-0.84zM438.59,468.91h0.84v0.84h-0.84zM432.43,472.22h0.84v0.84h-0.84zM441.35,477.22h0.84v0.84h-0.84zM425.13,467.33h0.84v0.84h-0.84zM435.78,476.11h0.84v0.84h-0.84zM428.12,471.86h0.84v0.84h-0.84zM439.06,469.94h0.84v0.84h-0.84zM437.53,479.05h0.84v0.84h-0.84zM432.67,473.42h0.84v0.84h-0.84zM428.28,466.95h0.84v0.84h-0.84zM428.6,471.07h0.84v0.84h-0.84zM437.12,469.93h0.84v0.84h-0.84zM429.21,466.71h0.84v0.84h-0.84zM435.02,474.49h0.84v0.84h-0.84zM433.4,477.86h0.84v0.84h-0.84zM435.72,466.36h0.84v0.84h-0.84zM431.96,466.35h0.84v0.84h-0.84zM431.35,477.26h0.84v0.84h-0.84zM432.24,461.55h0.84v0.84h-0.84zM441.28,475.51h0.84v0.84h-0.84zM440.04,479.51h0.84v0.84h-0.84zM433.17,473.16h0.84v0.84h-0.84zM436.21,474.29h0.84v0.84h-0.84zM435.96,478.89h0.84v0.84h-0.84zM435.09,476.54h0.84v0.84h-0.84zM437.4,474.23h0.84v0.84h-0.84zM443.59,472.5h0.84v0.84h-0.84zM432.84,475.39h0.84v0.84h-0.84zM434.64,478.08h0.84v0.84h-0.84zM431.02,476.92h0.84v0.84h-0.84zM438.58,481.24h0.84v0.84h-0.84zM435.63,476h0.84v0.84h-0.84zM443.08,476.14h0.84v0.84h-0.84zM439.46,479.68h0.84v0.84h-0.84zM442.73,477.39h0.84v0.84h-0.84zM434.29,471.79h0.84v0.84h-0.84zM443.76,471.8h0.84v0.84h-0.84zM440.96,480.94h0.84v0.84h-0.84zM440.07,476.97h0.84v0.84h-0.84zM443.39,476.78h0.84v0.84h-0.84zM439.77,473.44h0.84v0.84h-0.84zM437.65,478.1h0.84v0.84h-0.84zM432.39,473.36h0.84v0.84h-0.84zM434.59,474.53h0.84v0.84h-0.84zM432.92,474.98h0.84v0.84h-0.84zM430.99,476.18h0.84v0.84h-0.84zM437.13,471.14h0.84v0.84h-0.84zM439.29,477.54h0.84v0.84h-0.84zM441.16,476.89h0.84v0.84h-0.84zM432.86,474.93h0.84v0.84h-0.84zM439.88,477.47h0.84v0.84h-0.84zM434.28,474.56h0.84v0.84h-0.84zM437.07,472.95h0.84v0.84h-0.84zM438.79,471.06h0.84v0.84h-0.84zM439.41,477.31h0.84v0.84h-0.84zM438.97,467.78h0.84v0.84h-0.84zM441.12,474.91h0.84v0.84h-0.84zM433.56,473.38h0.84v0.84h-0.84zM429.54,475.3h0.84v0.84h-0.84zM436.33,476.62h0.84v0.84h-0.84zM438.17,476.84h0.84v0.84h-0.84zM436.99,475.46h0.84v0.84h-0.84zM431.59,472.56h0.84v0.84h-0.84zM438.01,469.36h0.84v0.84h-0.84zM435.44,468.41h0.84v0.84h-0.84zM436.08,475.36h0.84v0.84h-0.84zM438.52,475.85h0.84v0.84h-0.84zM443.54,476.08h0.84v0.84h-0.84zM433.69,474.33h0.84v0.84h-0.84zM437.37,472.12h0.84v0.84h-0.84zM436.25,475.56h0.84v0.84h-0.84zM439.34,474.12h0.84v0.84h-0.84zM438.36,470.96h0.84v0.84h-0.84zM435.68,480.06h0.84v0.84h-0.84zM438.67,478.84h0.84v0.84h-0.84zM433.3,479.25h0.84v0.84h-0.84zM438.79,473.98h0.84v0.84h-0.84zM437.48,479.49h0.84v0.84h-0.84zM439.01,476.84h0.84v0.84h-0.84zM439.87,468.68h0.84v0.84h-0.84zM432.49,470.68h0.84v0.84h-0.84zM432.62,480.05h0.84v0.84h-0.84zM437.03,476.83h0.84v0.84h-0.84zM434.3,475.61h0.84v0.84h-0.84zM439.83,475.05h0.84v0.84h-0.84zM434.76,472.61h0.84v0.84h-0.84zM439.5,473.3h0.84v0.84h-0.84zM440.87,475.19h0.84v0.84h-0.84zM434.06,473.71h0.84v0.84h-0.84zM438.27,475.29h0.84v0.84h-0.84zM435.4,477.48h0.84v0.84h-0.84zM416.42,462.24h0.84v0.84h-0.84zM430.53,473.42h0.84v0.84h-0.84zM411.8,470.99h0.84v0.84h-0.84zM410.97,462.3h0.84v0.84h-0.84zM438.95,473.59h0.84v0.84h-0.84zM435.23,467.89h0.84v0.84h-0.84zM401.52,469.88h0.84v0.84h-0.84zM408.81,472.24h0.84v0.84h-0.84zM426.33,468.25h0.84v0.84h-0.84zM430.28,461.3h0.84v0.84h-0.84zM399.66,475.09h0.84v0.84h-0.84zM404.66,477.74h0.84v0.84h-0.84zM411.35,461.11h0.84v0.84h-0.84zM434.99,462.75h0.84v0.84h-0.84zM403.53,472.82h0.84v0.84h-0.84zM419.24,477.33h0.84v0.84h-0.84zM422.31,468.81h0.84v0.84h-0.84zM434.53,477.75h0.84v0.84h-0.84zM434.63,466.22h0.84v0.84h-0.84zM429.68,470.61h0.84v0.84h-0.84zM400.45,464.48h0.84v0.84h-0.84zM408.34,469.29h0.84v0.84h-0.84zM436.4,457.37h0.84v0.84h-0.84zM421.11,474.91h0.84v0.84h-0.84zM395.18,476.09h0.84v0.84h-0.84zM408.12,459.38h0.84v0.84h-0.84zM407.92,465.39h0.84v0.84h-0.84zM395.87,469.65h0.84v0.84h-0.84zM431.32,469.33h0.84v0.84h-0.84zM413.02,465.73h0.84v0.84h-0.84zM420.82,461.61h0.84v0.84h-0.84zM399.57,476.83h0.84v0.84h-0.84zM423.98,459.11h0.84v0.84h-0.84zM428,469.38h0.84v0.84h-0.84zM396.97,470.37h0.84v0.84h-0.84zM392.57,467.76h0.84v0.84h-0.84zM400.12,473.87h0.84v0.84h-0.84zM436.01,469.58h0.84v0.84h-0.84zM418.18,466.72h0.84v0.84h-0.84zM426.37,471.16h0.84v0.84h-0.84zM427.83,455.35h0.84v0.84h-0.84zM434.73,455.09h0.84v0.84h-0.84zM412.36,468.56h0.84v0.84h-0.84zM430.31,475.81h0.84v0.84h-0.84zM436.74,463.46h0.84v0.84h-0.84zM431.35,474.54h0.84v0.84h-0.84zM405.65,475.99h0.84v0.84h-0.84zM407.98,471.5h0.84v0.84h-0.84zM403.91,466.08h0.84v0.84h-0.84zM427.68,465.39h0.84v0.84h-0.84zM431.6,463.9h0.84v0.84h-0.84zM402.46,466.23h0.84v0.84h-0.84zM396.79,478.27h0.84v0.84h-0.84zM408.98,472.08h0.84v0.84h-0.84zM400.45,475.13h0.84v0.84h-0.84zM437.57,461.37h0.84v0.84h-0.84zM414.61,471.9h0.84v0.84h-0.84zM416.57,475.2h0.84v0.84h-0.84zM401.13,460.63h0.84v0.84h-0.84zM428.29,477.39h0.84v0.84h-0.84zM430.77,455.31h0.84v0.84h-0.84zM431.55,475.19h0.84v0.84h-0.84zM418.85,477.54h0.84v0.84h-0.84zM416.06,456.2h0.84v0.84h-0.84zM397.42,464.07h0.84v0.84h-0.84zM424.76,477.33h0.84v0.84h-0.84zM403.67,466.46h0.84v0.84h-0.84zM402.16,468.96h0.84v0.84h-0.84zM424.44,465h0.84v0.84h-0.84zM425.54,466.94h0.84v0.84h-0.84zM428.03,471.42h0.84v0.84h-0.84zM391.15,476.83h0.84v0.84h-0.84zM408.72,464.06h0.84v0.84h-0.84zM406.82,476.92h0.84v0.84h-0.84zM396.52,465.96h0.84v0.84h-0.84zM402.6,476.89h0.84v0.84h-0.84zM427.99,473.66h0.84v0.84h-0.84zM400.28,465.19h0.84v0.84h-0.84zM421.36,475.28h0.84v0.84h-0.84zM414.13,459.8h0.84v0.84h-0.84zM408.95,462.29h0.84v0.84h-0.84zM420.14,456.2h0.84v0.84h-0.84zM408.51,470.12h0.84v0.84h-0.84zM418.68,466.9h0.84v0.84h-0.84zM418.46,477.81h0.84v0.84h-0.84zM444.03,457.81h0.84v0.84h-0.84zM451.45,460.68h0.84v0.84h-0.84zM444.13,471.27h0.84v0.84h-0.84zM446.73,452.58h0.84v0.84h-0.84zM443.75,465.26h0.84v0.84h-0.84zM423.61,450.9h0.84v0.84h-0.84zM456.4,464.41h0.84v0.84h-0.84zM434.48,468.78h0.84v0.84h-0.84zM448.4,459.91h0.84v0.84h-0.84zM423.12,457.5h0.84v0.84h-0.84zM435.49,451.41h0.84v0.84h-0.84zM427.93,463.35h0.84v0.84h-0.84zM427.2,461.46h0.84v0.84h-0.84zM442.57,437.91h0.84v0.84h-0.84zM425,464.69h0.84v0.84h-0.84zM437.45,456.77h0.84v0.84h-0.84zM450.69,451.09h0.84v0.84h-0.84zM435.87,469.97h0.84v0.84h-0.84zM426.22,456.26h0.84v0.84h-0.84zM441.4,463.82h0.84v0.84h-0.84zM449.76,463.53h0.84v0.84h-0.84zM439.9,463.67h0.84v0.84h-0.84zM435.93,466.06h0.84v0.84h-0.84zM447.43,454.58h0.84v0.84h-0.84zM437.98,446.55h0.84v0.84h-0.84z" fill="#E8792E"/>
<path d="M408.75,476.03 C409.08,474.71 411.22,472.29 413.08,470.2 C414.94,468.11 417.37,465.74 419.89,463.5 C422.42,461.26 425.51,458.71 428.22,456.74 C430.92,454.77 433.86,452.42 436.11,451.68 C438.36,450.94 439.99,451.39 441.7,452.28 C443.41,453.17 445.57,454.87 446.36,457.03 C447.16,459.19 446.63,462.48 446.48,465.22 C446.33,467.97 446.55,471.31 445.48,473.5 C444.41,475.69 442.56,477.35 440.05,478.37 C437.54,479.4 434.16,479.46 430.42,479.65 C426.68,479.83 420.82,479.75 417.59,479.5 C414.37,479.25 412.54,478.72 411.06,478.14 C409.59,477.56 408.41,477.35 408.75,476.03Z" fill="none" stroke="#262626" stroke-width="0.95"/>
<path d="M413.15,474.96 C413.47,473.74 414.98,471.83 416.46,470.2 C417.95,468.57 419.91,467.01 422.06,465.19 C424.2,463.36 427.04,460.89 429.32,459.27 C431.61,457.64 433.85,456.16 435.78,455.43 C437.7,454.71 439.47,454.3 440.88,454.93 C442.29,455.56 443.6,457.34 444.21,459.21 C444.83,461.08 444.77,463.87 444.54,466.13 C444.32,468.39 443.82,470.95 442.85,472.79 C441.88,474.64 440.7,476.27 438.72,477.2 C436.74,478.12 433.94,478.15 430.96,478.36 C427.98,478.57 423.58,478.59 420.84,478.45 C418.1,478.31 415.82,478.11 414.54,477.53 C413.26,476.95 412.83,476.19 413.15,474.96Z" fill="none" stroke="#262626" stroke-width="0.75"/>
<path d="M416.67,474.22 C416.83,473.26 418.27,471.61 419.63,470.24 C420.99,468.88 423.14,467.48 424.8,466.04 C426.46,464.61 427.85,462.99 429.59,461.62 C431.34,460.25 433.69,458.35 435.28,457.81 C436.88,457.27 437.99,457.76 439.18,458.36 C440.36,458.96 441.84,460.01 442.4,461.4 C442.97,462.8 442.69,464.93 442.56,466.74 C442.42,468.54 442.39,470.69 441.6,472.26 C440.81,473.83 439.58,475.36 437.81,476.15 C436.05,476.95 433.49,476.92 431.03,477.04 C428.56,477.15 425.08,477.03 423.01,476.86 C420.95,476.68 419.69,476.42 418.64,475.98 C417.58,475.54 416.5,475.18 416.67,474.22Z" fill="none" stroke="#262626" stroke-width="0.75"/>
<path d="M420.99,473.56 C421.23,472.82 422.25,471.47 423.21,470.4 C424.18,469.32 425.54,468.26 426.77,467.12 C428.01,465.97 429.22,464.52 430.63,463.52 C432.04,462.51 434.02,461.46 435.24,461.08 C436.46,460.69 437.1,460.75 437.95,461.2 C438.79,461.65 439.9,462.69 440.31,463.79 C440.71,464.9 440.49,466.43 440.39,467.81 C440.3,469.2 440.25,470.94 439.75,472.09 C439.24,473.24 438.69,474.18 437.37,474.73 C436.04,475.29 433.73,475.29 431.81,475.42 C429.89,475.56 427.53,475.62 425.86,475.52 C424.18,475.41 422.59,475.12 421.78,474.8 C420.97,474.47 420.75,474.29 420.99,473.56Z" fill="none" stroke="#262626" stroke-width="0.75"/>
<path d="M424.89,472.74 C424.95,472.28 425.61,471.45 426.27,470.74 C426.93,470.02 427.9,469.25 428.84,468.46 C429.78,467.68 430.94,466.76 431.91,466.02 C432.89,465.28 433.84,464.34 434.7,464.04 C435.55,463.74 436.46,463.9 437.06,464.21 C437.66,464.53 438.05,465.13 438.3,465.92 C438.56,466.72 438.66,468.02 438.58,469 C438.51,469.97 438.26,471 437.87,471.78 C437.48,472.56 437.11,473.26 436.24,473.66 C435.37,474.06 434.03,474.11 432.67,474.18 C431.31,474.25 429.22,474.2 428.09,474.09 C426.96,473.98 426.42,473.76 425.89,473.54 C425.35,473.31 424.83,473.21 424.89,472.74Z" fill="none" stroke="#262626" stroke-width="0.75"/>
<path d="M429.09,472.05 C429.18,471.75 429.55,471.14 429.9,470.74 C430.25,470.33 430.68,470.05 431.17,469.63 C431.66,469.2 432.31,468.61 432.85,468.2 C433.4,467.78 433.97,467.28 434.44,467.12 C434.91,466.96 435.34,467.07 435.66,467.25 C435.98,467.42 436.21,467.74 436.37,468.17 C436.52,468.6 436.62,469.27 436.59,469.82 C436.56,470.36 436.42,471.01 436.18,471.44 C435.94,471.88 435.65,472.19 435.16,472.4 C434.66,472.62 433.92,472.7 433.2,472.75 C432.48,472.81 431.47,472.76 430.83,472.72 C430.19,472.69 429.65,472.65 429.36,472.54 C429.07,472.43 429,472.35 429.09,472.05Z" fill="none" stroke="#262626" stroke-width="0.75"/>
<path d="M411.05,475.45 C411.51,474.05 413.48,471.5 415.16,469.66 C416.85,467.82 418.98,466.25 421.16,464.4 C423.34,462.55 425.81,460.34 428.23,458.58 C430.65,456.82 433.42,454.73 435.67,453.82 C437.92,452.9 440.26,452.44 441.74,453.11 C443.23,453.79 443.97,455.82 444.59,457.88 C445.21,459.94 445.49,462.89 445.48,465.46 C445.47,468.03 445.56,471.25 444.52,473.31 C443.49,475.38 441.64,476.86 439.27,477.86 C436.9,478.85 433.71,479.18 430.3,479.28 C426.89,479.39 421.8,478.7 418.82,478.5 C415.83,478.29 413.7,478.56 412.41,478.05 C411.12,477.55 410.6,476.85 411.05,475.45Z" fill="none" stroke="#E8792E" stroke-width="0.6"/>
<path d="M417.36,474.34 C417.65,473.33 418.9,471.66 420.13,470.39 C421.36,469.12 423.09,468.26 424.71,466.73 C426.33,465.2 428.06,462.66 429.85,461.22 C431.64,459.77 433.79,458.57 435.44,458.04 C437.09,457.51 438.57,457.5 439.75,458.04 C440.93,458.58 441.98,459.75 442.49,461.27 C443.01,462.78 442.9,465.3 442.84,467.14 C442.79,468.98 442.97,470.7 442.17,472.3 C441.37,473.91 439.79,475.96 438.04,476.79 C436.3,477.63 434.14,477.19 431.72,477.3 C429.31,477.42 425.77,477.63 423.55,477.49 C421.32,477.35 419.41,476.99 418.37,476.46 C417.34,475.94 417.06,475.35 417.36,474.34Z" fill="none" stroke="#E8792E" stroke-width="0.6"/>
<path d="M422.79,473.9 C422.89,473.25 423.72,472.03 424.6,471.09 C425.48,470.14 426.87,469.22 428.07,468.22 C429.27,467.23 430.59,466.05 431.8,465.12 C433.01,464.19 434.28,463.01 435.32,462.64 C436.35,462.28 437.21,462.52 438.01,462.92 C438.81,463.32 439.75,464.04 440.12,465.05 C440.48,466.06 440.27,467.74 440.19,468.99 C440.11,470.23 440.15,471.54 439.63,472.5 C439.12,473.46 438.31,474.23 437.11,474.75 C435.9,475.26 434.05,475.44 432.42,475.59 C430.79,475.74 428.74,475.75 427.33,475.65 C425.93,475.55 424.76,475.27 424,474.98 C423.25,474.68 422.69,474.55 422.79,473.9Z" fill="none" stroke="#E8792E" stroke-width="0.6"/>
<path d="M428.88,472.94 C428.96,472.63 429.54,472.04 429.98,471.57 C430.42,471.1 430.96,470.63 431.52,470.14 C432.09,469.65 432.74,469.1 433.36,468.65 C433.99,468.19 434.75,467.62 435.28,467.42 C435.81,467.21 436.18,467.19 436.56,467.39 C436.94,467.59 437.38,468.11 437.56,468.6 C437.74,469.09 437.69,469.73 437.63,470.33 C437.57,470.92 437.47,471.63 437.22,472.16 C436.96,472.69 436.68,473.26 436.1,473.5 C435.52,473.74 434.61,473.56 433.75,473.62 C432.9,473.67 431.7,473.85 430.99,473.82 C430.28,473.79 429.85,473.58 429.5,473.44 C429.15,473.29 428.8,473.25 428.88,472.94Z" fill="none" stroke="#E8792E" stroke-width="0.6"/>
<path d="M394.42,473.05 C394.44,472.26 396.49,470.45 397.4,470.42 C398.3,470.39 399.88,472.05 399.86,472.85 C399.84,473.65 398.19,475.18 397.28,475.21 C396.38,475.24 394.41,473.85 394.42,473.05Z" fill="none" stroke="#444" stroke-width="0.6"/>
<path d="M395.67,473.14 C395.66,472.77 396.49,471.91 396.96,471.87 C397.44,471.82 398.51,472.49 398.52,472.86 C398.52,473.22 397.44,474 396.97,474.05 C396.49,474.09 395.67,473.5 395.67,473.14Z" fill="none" stroke="#444" stroke-width="0.6"/>
<path d="M49.29,662.43 L51.13,662.43 L52.97,662.43 L54.81,662.43 L56.65,662.43 L58.49,662.43 L60.33,662.43 L61.86,655.84 L63.39,638.98 L64.93,581.5 L66.46,592.99 L67.69,594.52 L68.76,620.58 L70.29,634.38 L71.82,648.17 L73.36,638.98 L74.12,637.44 L75.66,649.71 L77.19,645.11 L79.49,654.3 L81.79,651.24 L84.85,657.37 L87.92,654.3 L90.98,658.9 L94.05,658.14 L97.12,660.44 L100.18,655.84 L103.25,661.97 L106.31,660.44 L109.38,657.37 L112.44,654.3 L115.51,661.97 L118.57,655.84 L121.64,660.44 L124.71,659.67 L127.77,661.97 L129.56,661.46 L131.35,660.95 L133.14,660.44 L135.05,661.43 L136.97,662.43 L138.88,662.43 L140.8,662.43 L142.72,662.43 L144.63,662.43" fill="none" stroke="#111" stroke-width="1.45" stroke-linejoin="round"/>
<path d="M49.29,673 L51,673 L52.72,673 L54.43,673 L56.14,673 L57.85,673 L59.56,673 L60.33,671.16 L62.63,655.84 L64.16,631.31 L66.46,608.32 L67.99,594.52 L69.52,600.66 L70.29,609.85 L71.82,597.59 L73.36,596.06 L74.12,592.23 L75.66,603.72 L77.19,605.25 L77.96,615.98 L79.49,612.92 L81.79,609.85 L83.32,622.12 L84.85,619.05 L86.39,615.98 L87.92,614.45 L89.45,625.18 L90.98,629.78 L93.28,634.38 L94.05,631.31 L96.35,640.51 L98.65,642.04 L100.18,640.51 L102.48,643.57 L104.78,651.24 L106.31,657.37 L109.38,663.5 L112.44,665.03 L115.51,668.1 L118.57,671.16 L121.64,673 L123.28,673 L124.92,673 L126.57,673 L128.21,673 L129.85,673 L131.49,673 L133.14,673 L134.78,673 L136.42,673 L138.06,673 L139.71,673 L141.35,673 L142.99,673 L144.63,673" fill="none" stroke="#E8792E" stroke-width="1.45" stroke-linejoin="round"/>
<path d="M49.29,766.35 L51.19,766.35 L53.09,766.35 L54.99,766.35 L56.89,766.35 L58.8,766.35 L60.33,762.37 L61.86,758.54 L63.39,739.38 L64.93,697.99 L65.69,685.73 L66.46,688.8 L67.99,720.98 L69.52,739.38 L70.29,748.57 L71.36,740.91 L72.59,743.98 L74.12,751.64 L75.66,748.57 L77.19,754.71 L78.72,750.11 L80.25,754.71 L81.79,748.57 L83.32,756.24 L85.62,753.17 L87.92,751.64 L89.45,750.11 L90.98,754.71 L92.52,753.17 L94.05,756.24 L97.12,757.77 L98.65,760.07 L100.18,756.24 L102.48,757.77 L103.25,750.11 L104.78,756.24 L106.31,760.84 L107.84,748.57 L109.38,750.11 L110.91,748.57 L112.44,757.77 L115.51,756.24 L117.81,754.71 L120.11,750.87 L121.64,765.44 L123.17,762.37 L124.71,765.44 L127.77,763.9 L129.3,766.35 L131.01,766.35 L132.71,766.35 L134.41,766.35 L136.12,766.35 L137.82,766.35 L139.52,766.35 L141.23,766.35 L142.93,766.35 L144.63,766.35" fill="none" stroke="#111" stroke-width="1.45" stroke-linejoin="round"/>
<path d="M49.29,776.93 L51.19,776.93 L53.09,776.93 L54.99,776.93 L56.89,776.93 L58.8,776.93 L60.33,774.63 L61.86,770.03 L63.39,754.71 L64.93,739.38 L66.46,719.45 L67.99,713.32 L69.52,716.39 L71.06,707.19 L73.36,699.52 L74.89,714.85 L77.19,704.12 L78.72,714.85 L80.25,705.66 L81.79,696.46 L83.32,711.79 L84.85,713.32 L86.39,710.25 L87.92,716.39 L89.45,710.25 L90.98,724.05 L92.52,716.39 L94.05,728.65 L95.58,731.71 L97.12,739.38 L98.65,733.25 L100.18,745.51 L101.71,736.31 L103.25,739.38 L104.78,747.04 L106.31,756.24 L109.38,760.84 L112.44,766.97 L115.51,773.1 L118.57,775.4 L121.64,776.16 L124.71,776.93 L126.37,776.93 L128.03,776.93 L129.69,776.93 L131.35,776.93 L133.01,776.93 L134.67,776.93 L136.33,776.93 L137.99,776.93 L139.65,776.93 L141.31,776.93 L142.97,776.93 L144.63,776.93" fill="none" stroke="#E8792E" stroke-width="1.45" stroke-linejoin="round"/>
<path d="M388.13,662.43 L389.97,662.43 L391.81,662.43 L393.65,662.43 L395.49,662.43 L397.33,662.43 L398.86,660.44 L400.39,655.84 L401.93,652.77 L403.46,646.64 L404.99,642.04 L406.52,640.51 L408.06,634.38 L409.59,628.25 L411.12,626.71 L412.66,628.25 L414.19,623.65 L415.72,619.05 L417.25,617.52 L418.79,614.45 L420.32,608.32 L421.85,600.66 L423.39,592.99 L424.92,588.39 L426.45,585.33 L427.98,582.26 L428.75,585.33 L429.52,588.39 L431.05,591.46 L431.82,586.86 L433.35,585.33 L434.12,588.39 L434.88,592.99 L435.65,589.93 L437.18,596.06 L438.71,605.25 L440.25,609.85 L441.78,623.65 L443.31,634.38 L444.84,637.44 L446.38,649.71 L447.91,655.84 L450.98,658.9 L454.04,661.2 L456.34,661.81 L458.64,662.43 L460.28,662.43 L461.91,662.43 L463.55,662.43 L465.18,662.43 L466.82,662.43 L468.45,662.43 L470.09,662.43 L471.72,662.43 L473.35,662.43 L474.99,662.43 L476.62,662.43 L478.26,662.43 L479.89,662.43 L481.53,662.43 L483.16,662.43" fill="none" stroke="#111" stroke-width="1.45" stroke-linejoin="round"/>
<path d="M388.13,673 L389.79,673 L391.45,673 L393.11,673 L394.77,673 L396.43,673 L398.09,673 L399.63,668.1 L401.16,661.97 L402.69,652.77 L404.23,643.57 L405.76,635.91 L407.29,640.51 L408.82,634.38 L410.36,631.31 L411.89,629.78 L413.42,620.58 L414.96,611.39 L416.49,617.52 L418.02,637.44 L419.55,599.12 L421.09,612.92 L422.62,628.25 L424.15,594.52 L425.68,603.72 L427.22,614.45 L427.98,605.25 L429.52,611.39 L431.05,603.72 L432.58,609.85 L434.12,609.85 L435.65,615.98 L437.18,631.31 L438.71,628.25 L440.25,637.44 L441.78,640.51 L443.31,652.77 L444.84,661.97 L446.38,663.5 L447.91,665.03 L449.44,666.57 L450.98,671.16 L454.04,671.93 L456.34,672.31 L458.64,672.7 L460.28,672.72 L461.91,672.74 L463.55,672.76 L465.18,672.78 L466.82,672.8 L468.45,672.82 L470.09,672.84 L471.72,672.86 L473.35,672.88 L474.99,672.9 L476.62,672.92 L478.26,672.94 L479.89,672.96 L481.53,672.98 L483.16,673" fill="none" stroke="#E8792E" stroke-width="1.45" stroke-linejoin="round"/>
<path d="M388.13,766.35 L389.97,766.35 L391.81,766.35 L393.65,766.35 L395.49,766.35 L397.33,766.35 L398.86,765.44 L400.39,760.84 L401.93,753.17 L403.46,750.11 L404.99,742.44 L406.52,736.31 L408.06,733.25 L409.59,734.78 L411.12,737.84 L412.66,730.18 L414.19,728.65 L415.72,722.52 L417.25,716.39 L418.79,711.79 L420.32,713.32 L421.85,707.19 L423.39,697.99 L424.92,693.39 L426.45,694.93 L427.98,696.46 L429.52,691.86 L431.05,685.73 L432.58,691.86 L434.12,697.99 L435.65,702.59 L437.18,708.72 L438.71,713.32 L440.25,722.52 L441.78,733.25 L443.31,737.84 L444.84,743.98 L446.38,747.04 L447.91,753.17 L449.44,759.3 L451.74,762.37 L454.04,764.67 L457.11,765.44 L458.64,766.35 L460.28,766.35 L461.91,766.35 L463.55,766.35 L465.18,766.35 L466.82,766.35 L468.45,766.35 L470.09,766.35 L471.72,766.35 L473.35,766.35 L474.99,766.35 L476.62,766.35 L478.26,766.35 L479.89,766.35 L481.53,766.35 L483.16,766.35" fill="none" stroke="#111" stroke-width="1.45" stroke-linejoin="round"/>
<path d="M388.13,776.93 L389.79,776.93 L391.45,776.93 L393.11,776.93 L394.77,776.93 L396.43,776.93 L398.09,776.93 L399.63,773.1 L401.16,765.44 L402.69,754.71 L403.46,762.37 L404.99,740.91 L406.52,728.65 L408.06,734.78 L409.59,728.65 L411.12,719.45 L412.66,711.79 L414.19,705.66 L414.96,701.06 L416.49,699.52 L418.02,707.19 L419.55,713.32 L421.09,702.59 L422.62,708.72 L424.15,696.46 L425.68,704.12 L427.22,711.79 L428.75,708.72 L430.28,697.99 L431.82,711.79 L433.35,713.32 L434.88,728.65 L436.41,724.05 L437.95,733.25 L439.48,740.91 L441.01,748.57 L442.55,754.71 L444.08,756.24 L445.61,762.37 L447.14,766.97 L448.68,771.57 L450.21,768.5 L451.74,773.1 L453.28,771.57 L454.81,776.16 L456.48,776.21 L458.14,776.26 L459.81,776.3 L461.48,776.35 L463.15,776.39 L464.82,776.44 L466.48,776.48 L468.15,776.53 L469.82,776.57 L471.49,776.62 L473.16,776.66 L474.82,776.71 L476.49,776.75 L478.16,776.8 L479.83,776.84 L481.5,776.89 L483.16,776.93" fill="none" stroke="#E8792E" stroke-width="1.45" stroke-linejoin="round"/>
<line x1="179.7" y1="67.3" x2="179.7" y2="189.85" stroke="#262626" stroke-width="1.3" />
<line x1="179.05" y1="189.2" x2="299.5" y2="189.2" stroke="#262626" stroke-width="1.3" />
<line x1="174.9" y1="189.2" x2="179.7" y2="189.2" stroke="#262626" stroke-width="1.2" />
<text x="173.8" y="193.2" font-size="11.4" text-anchor="end" fill="#1c1c1c" >0</text>
<line x1="174.9" y1="148.77" x2="179.7" y2="148.77" stroke="#262626" stroke-width="1.2" />
<text x="173.8" y="152.77" font-size="11.4" text-anchor="end" fill="#1c1c1c" >5</text>
<line x1="174.9" y1="108.33" x2="179.7" y2="108.33" stroke="#262626" stroke-width="1.2" />
<text x="173.8" y="112.33" font-size="11.4" text-anchor="end" fill="#1c1c1c" >10</text>
<line x1="174.9" y1="67.9" x2="179.7" y2="67.9" stroke="#262626" stroke-width="1.2" />
<text x="173.8" y="71.9" font-size="11.4" text-anchor="end" fill="#1c1c1c" >15</text>
<line x1="207.55" y1="189.2" x2="207.55" y2="194.2" stroke="#262626" stroke-width="1.2" />
<text x="207.55" y="204.8" font-size="11.4" text-anchor="middle" fill="#1c1c1c" >BimS</text>
<line x1="271.35" y1="189.2" x2="271.35" y2="194.2" stroke="#262626" stroke-width="1.2" />
<text x="271.35" y="204.8" font-size="11.4" text-anchor="middle" fill="#1c1c1c" >RIPK3</text>
<text x="238.6" y="54.2" font-size="11.4" text-anchor="middle" fill="#1c1c1c" >cDC1</text>
<text x="0" y="0" font-size="12" text-anchor="middle" fill="#1c1c1c" transform="translate(154.9,126.4) rotate(-90)">CD80 MFI (x10<tspan font-size="6.5" dy="-4.5">4</tspan><tspan dy="4.5">)</tspan></text>
<line x1="195.5" y1="130.9" x2="219.6" y2="122.81" stroke="#303030" stroke-width="0.85" />
<line x1="195.5" y1="153.3" x2="219.6" y2="111.57" stroke="#303030" stroke-width="0.85" />
<line x1="195.5" y1="162.43" x2="219.6" y2="121.84" stroke="#303030" stroke-width="0.85" />
<line x1="195.5" y1="173.59" x2="219.6" y2="141.41" stroke="#303030" stroke-width="0.85" />
<line x1="195.5" y1="179.74" x2="219.6" y2="141.89" stroke="#303030" stroke-width="0.85" />
<circle cx="195.5" cy="130.9" r="2.6" fill="#151515"/>
<circle cx="195.5" cy="153.3" r="2.6" fill="#151515"/>
<circle cx="195.5" cy="162.43" r="2.6" fill="#151515"/>
<circle cx="195.5" cy="173.59" r="2.6" fill="#151515"/>
<circle cx="195.5" cy="179.74" r="2.6" fill="#151515"/>
<rect x="217.15" y="120.36" width="4.9" height="4.9" fill="#fff" stroke="#151515" stroke-width="1.15"/>
<rect x="217.15" y="109.12" width="4.9" height="4.9" fill="#fff" stroke="#151515" stroke-width="1.15"/>
<rect x="217.15" y="119.39" width="4.9" height="4.9" fill="#fff" stroke="#151515" stroke-width="1.15"/>
<rect x="217.15" y="138.96" width="4.9" height="4.9" fill="#fff" stroke="#151515" stroke-width="1.15"/>
<rect x="217.15" y="139.44" width="4.9" height="4.9" fill="#fff" stroke="#151515" stroke-width="1.15"/>
<line x1="259.5" y1="131.87" x2="283.2" y2="122.4" stroke="#303030" stroke-width="0.85" />
<line x1="259.5" y1="138.5" x2="283.2" y2="103.97" stroke="#303030" stroke-width="0.85" />
<line x1="259.5" y1="141.41" x2="283.2" y2="123.29" stroke="#303030" stroke-width="0.85" />
<line x1="259.5" y1="157.1" x2="283.2" y2="133.4" stroke="#303030" stroke-width="0.85" />
<line x1="259.5" y1="176.99" x2="283.2" y2="134.7" stroke="#303030" stroke-width="0.85" />
<circle cx="259.5" cy="131.87" r="2.6" fill="#151515"/>
<circle cx="259.5" cy="138.5" r="2.6" fill="#151515"/>
<circle cx="259.5" cy="141.41" r="2.6" fill="#151515"/>
<circle cx="259.5" cy="157.1" r="2.6" fill="#151515"/>
<circle cx="259.5" cy="176.99" r="2.6" fill="#151515"/>
<rect x="280.75" y="119.95" width="4.9" height="4.9" fill="#fff" stroke="#151515" stroke-width="1.15"/>
<rect x="280.75" y="101.52" width="4.9" height="4.9" fill="#fff" stroke="#151515" stroke-width="1.15"/>
<rect x="280.75" y="120.84" width="4.9" height="4.9" fill="#fff" stroke="#151515" stroke-width="1.15"/>
<rect x="280.75" y="130.95" width="4.9" height="4.9" fill="#fff" stroke="#151515" stroke-width="1.15"/>
<rect x="280.75" y="132.25" width="4.9" height="4.9" fill="#fff" stroke="#151515" stroke-width="1.15"/>
<path d="M195.5,97.6 V92 H219.6 V97.6" fill="none" stroke="#151515" stroke-width="1.9"/>
<text x="207.55" y="93.8" font-size="12.5" text-anchor="middle" fill="#1c1c1c" >**</text>
<path d="M259.5,97.6 V92 H283.2 V97.6" fill="none" stroke="#151515" stroke-width="1.9"/>
<text x="271.35" y="93.8" font-size="12.5" text-anchor="middle" fill="#1c1c1c" >**</text>
<line x1="290.3" y1="68.3" x2="305.9" y2="68.3" stroke="#222" stroke-width="0.95" />
<circle cx="297.9" cy="68.3" r="2.85" fill="#151515"/>
<text x="311.1" y="72.4" font-size="11.4" text-anchor="start" fill="#1c1c1c" >CTG<tspan font-size="6" dy="-4.6">-</tspan></text>
<line x1="290.3" y1="87.5" x2="305.9" y2="87.5" stroke="#222" stroke-width="0.95" />
<rect x="295.1" y="84.7" width="5.6" height="5.6" fill="#fff" stroke="#151515" stroke-width="1.2"/>
<text x="311.1" y="91.6" font-size="11.4" text-anchor="start" fill="#1c1c1c" >CTG<tspan font-size="6" dy="-4.6">+</tspan></text>
<line x1="519.2" y1="67.3" x2="519.2" y2="190.05" stroke="#262626" stroke-width="1.3" />
<line x1="518.55" y1="189.4" x2="639" y2="189.4" stroke="#262626" stroke-width="1.3" />
<line x1="514.4" y1="189.4" x2="519.2" y2="189.4" stroke="#262626" stroke-width="1.2" />
<text x="513.3" y="193.4" font-size="11.4" text-anchor="end" fill="#1c1c1c" >0</text>
<line x1="514.4" y1="159.03" x2="519.2" y2="159.03" stroke="#262626" stroke-width="1.2" />
<text x="513.3" y="163.03" font-size="11.4" text-anchor="end" fill="#1c1c1c" >5</text>
<line x1="514.4" y1="128.65" x2="519.2" y2="128.65" stroke="#262626" stroke-width="1.2" />
<text x="513.3" y="132.65" font-size="11.4" text-anchor="end" fill="#1c1c1c" >10</text>
<line x1="514.4" y1="98.28" x2="519.2" y2="98.28" stroke="#262626" stroke-width="1.2" />
<text x="513.3" y="102.28" font-size="11.4" text-anchor="end" fill="#1c1c1c" >15</text>
<line x1="514.4" y1="67.9" x2="519.2" y2="67.9" stroke="#262626" stroke-width="1.2" />
<text x="513.3" y="71.9" font-size="11.4" text-anchor="end" fill="#1c1c1c" >20</text>
<line x1="547.55" y1="189.4" x2="547.55" y2="194.4" stroke="#262626" stroke-width="1.2" />
<text x="547.55" y="204.1" font-size="11.4" text-anchor="middle" fill="#1c1c1c" >BimS</text>
<line x1="611.55" y1="189.4" x2="611.55" y2="194.4" stroke="#262626" stroke-width="1.2" />
<text x="611.55" y="204.1" font-size="11.4" text-anchor="middle" fill="#1c1c1c" >RIPK3</text>
<text x="578.9" y="54.2" font-size="11.4" text-anchor="middle" fill="#1c1c1c" >cDC1</text>
<text x="0" y="0" font-size="12" text-anchor="middle" fill="#1c1c1c" transform="translate(495.1,128.9) rotate(-90)">CD86 MFI (x10<tspan font-size="6.5" dy="-4.5">4</tspan><tspan dy="4.5">)</tspan></text>
<line x1="535.5" y1="139.59" x2="559.6" y2="100.71" stroke="#303030" stroke-width="0.85" />
<line x1="535.5" y1="142.62" x2="559.6" y2="128.65" stroke="#303030" stroke-width="0.85" />
<line x1="535.5" y1="163.28" x2="559.6" y2="96.45" stroke="#303030" stroke-width="0.85" />
<line x1="535.5" y1="177.25" x2="559.6" y2="104.35" stroke="#303030" stroke-width="0.85" />
<line x1="535.5" y1="180.29" x2="559.6" y2="152.95" stroke="#303030" stroke-width="0.85" />
<circle cx="535.5" cy="139.59" r="2.6" fill="#151515"/>
<circle cx="535.5" cy="142.62" r="2.6" fill="#151515"/>
<circle cx="535.5" cy="163.28" r="2.6" fill="#151515"/>
<circle cx="535.5" cy="177.25" r="2.6" fill="#151515"/>
<circle cx="535.5" cy="180.29" r="2.6" fill="#151515"/>
<rect x="557.15" y="98.26" width="4.9" height="4.9" fill="#fff" stroke="#151515" stroke-width="1.15"/>
<rect x="557.15" y="126.2" width="4.9" height="4.9" fill="#fff" stroke="#151515" stroke-width="1.15"/>
<rect x="557.15" y="94" width="4.9" height="4.9" fill="#fff" stroke="#151515" stroke-width="1.15"/>
<rect x="557.15" y="101.9" width="4.9" height="4.9" fill="#fff" stroke="#151515" stroke-width="1.15"/>
<rect x="557.15" y="150.5" width="4.9" height="4.9" fill="#fff" stroke="#151515" stroke-width="1.15"/>
<line x1="599.5" y1="115.29" x2="623.6" y2="84.3" stroke="#303030" stroke-width="0.85" />
<line x1="599.5" y1="137.16" x2="623.6" y2="89.16" stroke="#303030" stroke-width="0.85" />
<line x1="599.5" y1="140.8" x2="623.6" y2="127.44" stroke="#303030" stroke-width="0.85" />
<line x1="599.5" y1="168.14" x2="623.6" y2="152.95" stroke="#303030" stroke-width="0.85" />
<line x1="599.5" y1="176.64" x2="623.6" y2="94.02" stroke="#303030" stroke-width="0.85" />
<circle cx="599.5" cy="115.29" r="2.6" fill="#151515"/>
<circle cx="599.5" cy="137.16" r="2.6" fill="#151515"/>
<circle cx="599.5" cy="140.8" r="2.6" fill="#151515"/>
<circle cx="599.5" cy="168.14" r="2.6" fill="#151515"/>
<circle cx="599.5" cy="176.64" r="2.6" fill="#151515"/>
<rect x="621.15" y="81.85" width="4.9" height="4.9" fill="#fff" stroke="#151515" stroke-width="1.15"/>
<rect x="621.15" y="86.71" width="4.9" height="4.9" fill="#fff" stroke="#151515" stroke-width="1.15"/>
<rect x="621.15" y="124.98" width="4.9" height="4.9" fill="#fff" stroke="#151515" stroke-width="1.15"/>
<rect x="621.15" y="150.5" width="4.9" height="4.9" fill="#fff" stroke="#151515" stroke-width="1.15"/>
<rect x="621.15" y="91.57" width="4.9" height="4.9" fill="#fff" stroke="#151515" stroke-width="1.15"/>
<path d="M535.5,78.8 V73.2 H559.6 V78.8" fill="none" stroke="#151515" stroke-width="1.9"/>
<text x="547.55" y="75.2" font-size="12.5" text-anchor="middle" fill="#1c1c1c" >*</text>
<path d="M599.5,78.8 V73.2 H623.6 V78.8" fill="none" stroke="#151515" stroke-width="1.9"/>
<text x="611.55" y="75.2" font-size="12.5" text-anchor="middle" fill="#1c1c1c" >*</text>
<line x1="635.4" y1="70.6" x2="651" y2="70.6" stroke="#222" stroke-width="0.95" />
<circle cx="643" cy="70.6" r="2.85" fill="#151515"/>
<text x="656.2" y="74.7" font-size="11.4" text-anchor="start" fill="#1c1c1c" >CTG<tspan font-size="6" dy="-4.6">-</tspan></text>
<line x1="635.4" y1="89.3" x2="651" y2="89.3" stroke="#222" stroke-width="0.95" />
<rect x="640.2" y="86.5" width="5.6" height="5.6" fill="#fff" stroke="#151515" stroke-width="1.2"/>
<text x="656.2" y="93.4" font-size="11.4" text-anchor="start" fill="#1c1c1c" >CTG<tspan font-size="6" dy="-4.6">+</tspan></text>
<line x1="179.8" y1="338.4" x2="179.8" y2="454.55" stroke="#262626" stroke-width="1.3" />
<line x1="179.15" y1="453.9" x2="298.6" y2="453.9" stroke="#262626" stroke-width="1.3" />
<line x1="175" y1="453.9" x2="179.8" y2="453.9" stroke="#262626" stroke-width="1.2" />
<text x="173.9" y="457.9" font-size="11.4" text-anchor="end" fill="#1c1c1c" >0</text>
<line x1="175" y1="415.6" x2="179.8" y2="415.6" stroke="#262626" stroke-width="1.2" />
<text x="173.9" y="419.6" font-size="11.4" text-anchor="end" fill="#1c1c1c" >5</text>
<line x1="175" y1="377.3" x2="179.8" y2="377.3" stroke="#262626" stroke-width="1.2" />
<text x="173.9" y="381.3" font-size="11.4" text-anchor="end" fill="#1c1c1c" >10</text>
<line x1="175" y1="339" x2="179.8" y2="339" stroke="#262626" stroke-width="1.2" />
<text x="173.9" y="343" font-size="11.4" text-anchor="end" fill="#1c1c1c" >15</text>
<line x1="207.55" y1="453.9" x2="207.55" y2="458.9" stroke="#262626" stroke-width="1.2" />
<text x="207.55" y="471" font-size="11.4" text-anchor="middle" fill="#1c1c1c" >BimS</text>
<line x1="271" y1="453.9" x2="271" y2="458.9" stroke="#262626" stroke-width="1.2" />
<text x="271" y="471" font-size="11.4" text-anchor="middle" fill="#1c1c1c" >RIPK3</text>
<text x="239.5" y="321.5" font-size="11.4" text-anchor="middle" fill="#1c1c1c" >cDC2</text>
<text x="0" y="0" font-size="12" text-anchor="middle" fill="#1c1c1c" transform="translate(155.7,392.3) rotate(-90)">CD80 MFI (x10<tspan font-size="6.5" dy="-4.5">4</tspan><tspan dy="4.5">)</tspan></text>
<line x1="195.5" y1="361.52" x2="219.6" y2="354.63" stroke="#303030" stroke-width="0.85" />
<line x1="195.5" y1="380.75" x2="219.6" y2="375" stroke="#303030" stroke-width="0.85" />
<line x1="195.5" y1="388.02" x2="219.6" y2="371.17" stroke="#303030" stroke-width="0.85" />
<line x1="195.5" y1="392.7" x2="219.6" y2="378.83" stroke="#303030" stroke-width="0.85" />
<line x1="195.5" y1="402.04" x2="219.6" y2="396.3" stroke="#303030" stroke-width="0.85" />
<circle cx="195.5" cy="361.52" r="2.6" fill="#151515"/>
<circle cx="195.5" cy="380.75" r="2.6" fill="#151515"/>
<circle cx="195.5" cy="388.02" r="2.6" fill="#151515"/>
<circle cx="195.5" cy="392.7" r="2.6" fill="#151515"/>
<circle cx="195.5" cy="402.04" r="2.6" fill="#151515"/>
<rect x="217.15" y="352.18" width="4.9" height="4.9" fill="#fff" stroke="#151515" stroke-width="1.15"/>
<rect x="217.15" y="372.55" width="4.9" height="4.9" fill="#fff" stroke="#151515" stroke-width="1.15"/>
<rect x="217.15" y="368.72" width="4.9" height="4.9" fill="#fff" stroke="#151515" stroke-width="1.15"/>
<rect x="217.15" y="376.38" width="4.9" height="4.9" fill="#fff" stroke="#151515" stroke-width="1.15"/>
<rect x="217.15" y="393.85" width="4.9" height="4.9" fill="#fff" stroke="#151515" stroke-width="1.15"/>
<line x1="259.1" y1="358.46" x2="282.9" y2="348.42" stroke="#303030" stroke-width="0.85" />
<line x1="259.1" y1="379.75" x2="282.9" y2="374.47" stroke="#303030" stroke-width="0.85" />
<line x1="259.1" y1="390.17" x2="282.9" y2="374.47" stroke="#303030" stroke-width="0.85" />
<line x1="259.1" y1="391.7" x2="282.9" y2="383.04" stroke="#303030" stroke-width="0.85" />
<line x1="259.1" y1="401.66" x2="282.9" y2="393.39" stroke="#303030" stroke-width="0.85" />
<circle cx="259.1" cy="358.46" r="2.6" fill="#151515"/>
<circle cx="259.1" cy="379.75" r="2.6" fill="#151515"/>
<circle cx="259.1" cy="390.17" r="2.6" fill="#151515"/>
<circle cx="259.1" cy="391.7" r="2.6" fill="#151515"/>
<circle cx="259.1" cy="401.66" r="2.6" fill="#151515"/>
<rect x="280.45" y="345.97" width="4.9" height="4.9" fill="#fff" stroke="#151515" stroke-width="1.15"/>
<rect x="280.45" y="372.02" width="4.9" height="4.9" fill="#fff" stroke="#151515" stroke-width="1.15"/>
<rect x="280.45" y="372.02" width="4.9" height="4.9" fill="#fff" stroke="#151515" stroke-width="1.15"/>
<rect x="280.45" y="380.59" width="4.9" height="4.9" fill="#fff" stroke="#151515" stroke-width="1.15"/>
<rect x="280.45" y="390.94" width="4.9" height="4.9" fill="#fff" stroke="#151515" stroke-width="1.15"/>
<path d="M195.5,342.7 V337.1 H219.6 V342.7" fill="none" stroke="#151515" stroke-width="1.9"/>
<text x="207.55" y="339.2" font-size="12.5" text-anchor="middle" fill="#1c1c1c" >**</text>
<path d="M259.1,342.7 V337.1 H282.9 V342.7" fill="none" stroke="#151515" stroke-width="1.9"/>
<text x="271" y="339.2" font-size="12.5" text-anchor="middle" fill="#1c1c1c" >**</text>
<line x1="294.9" y1="335.6" x2="310.5" y2="335.6" stroke="#222" stroke-width="0.95" />
<circle cx="302.5" cy="335.6" r="2.85" fill="#151515"/>
<text x="315.7" y="339.7" font-size="11.4" text-anchor="start" fill="#1c1c1c" >CTG<tspan font-size="6" dy="-4.6">-</tspan></text>
<line x1="294.9" y1="354.3" x2="310.5" y2="354.3" stroke="#222" stroke-width="0.95" />
<rect x="299.7" y="351.5" width="5.6" height="5.6" fill="#fff" stroke="#151515" stroke-width="1.2"/>
<text x="315.7" y="358.4" font-size="11.4" text-anchor="start" fill="#1c1c1c" >CTG<tspan font-size="6" dy="-4.6">+</tspan></text>
<line x1="519.8" y1="331.7" x2="519.8" y2="454.65" stroke="#262626" stroke-width="1.3" />
<line x1="519.15" y1="454" x2="640.7" y2="454" stroke="#262626" stroke-width="1.3" />
<line x1="515" y1="454" x2="519.8" y2="454" stroke="#262626" stroke-width="1.2" />
<text x="513.9" y="458" font-size="11.4" text-anchor="end" fill="#1c1c1c" >0</text>
<line x1="515" y1="413.43" x2="519.8" y2="413.43" stroke="#262626" stroke-width="1.2" />
<text x="513.9" y="417.43" font-size="11.4" text-anchor="end" fill="#1c1c1c" >5</text>
<line x1="515" y1="372.87" x2="519.8" y2="372.87" stroke="#262626" stroke-width="1.2" />
<text x="513.9" y="376.87" font-size="11.4" text-anchor="end" fill="#1c1c1c" >10</text>
<line x1="515" y1="332.3" x2="519.8" y2="332.3" stroke="#262626" stroke-width="1.2" />
<text x="513.9" y="336.3" font-size="11.4" text-anchor="end" fill="#1c1c1c" >15</text>
<line x1="547.75" y1="454" x2="547.75" y2="459" stroke="#262626" stroke-width="1.2" />
<text x="547.75" y="468.1" font-size="11.4" text-anchor="middle" fill="#1c1c1c" >BimS</text>
<line x1="612.05" y1="454" x2="612.05" y2="459" stroke="#262626" stroke-width="1.2" />
<text x="612.05" y="468.1" font-size="11.4" text-anchor="middle" fill="#1c1c1c" >RIPK3</text>
<text x="579.5" y="321.5" font-size="11.4" text-anchor="middle" fill="#1c1c1c" >cDC2</text>
<text x="0" y="0" font-size="12" text-anchor="middle" fill="#1c1c1c" transform="translate(495.5,388.7) rotate(-90)">CD86 MFI (x10<tspan font-size="6.5" dy="-4.5">4</tspan><tspan dy="4.5">)</tspan></text>
<line x1="535.5" y1="374.41" x2="560" y2="365.56" stroke="#303030" stroke-width="0.85" />
<line x1="535.5" y1="379.52" x2="560" y2="368.49" stroke="#303030" stroke-width="0.85" />
<line x1="535.5" y1="379.52" x2="560" y2="372.87" stroke="#303030" stroke-width="0.85" />
<line x1="535.5" y1="413.51" x2="560" y2="405.81" stroke="#303030" stroke-width="0.85" />
<line x1="535.5" y1="422.68" x2="560" y2="418.87" stroke="#303030" stroke-width="0.85" />
<circle cx="535.5" cy="374.41" r="2.6" fill="#151515"/>
<circle cx="535.5" cy="379.52" r="2.6" fill="#151515"/>
<circle cx="535.5" cy="379.52" r="2.6" fill="#151515"/>
<circle cx="535.5" cy="413.51" r="2.6" fill="#151515"/>
<circle cx="535.5" cy="422.68" r="2.6" fill="#151515"/>
<rect x="557.55" y="363.11" width="4.9" height="4.9" fill="#fff" stroke="#151515" stroke-width="1.15"/>
<rect x="557.55" y="366.04" width="4.9" height="4.9" fill="#fff" stroke="#151515" stroke-width="1.15"/>
<rect x="557.55" y="370.42" width="4.9" height="4.9" fill="#fff" stroke="#151515" stroke-width="1.15"/>
<rect x="557.55" y="403.36" width="4.9" height="4.9" fill="#fff" stroke="#151515" stroke-width="1.15"/>
<rect x="557.55" y="416.42" width="4.9" height="4.9" fill="#fff" stroke="#151515" stroke-width="1.15"/>
<line x1="600" y1="371.24" x2="624.1" y2="360.21" stroke="#303030" stroke-width="0.85" />
<line x1="600" y1="371.24" x2="624.1" y2="364.75" stroke="#303030" stroke-width="0.85" />
<line x1="600" y1="377.57" x2="624.1" y2="368.49" stroke="#303030" stroke-width="0.85" />
<line x1="600" y1="415.06" x2="624.1" y2="402.72" stroke="#303030" stroke-width="0.85" />
<line x1="600" y1="425.12" x2="624.1" y2="423.57" stroke="#303030" stroke-width="0.85" />
<circle cx="600" cy="371.24" r="2.6" fill="#151515"/>
<circle cx="600" cy="371.24" r="2.6" fill="#151515"/>
<circle cx="600" cy="377.57" r="2.6" fill="#151515"/>
<circle cx="600" cy="415.06" r="2.6" fill="#151515"/>
<circle cx="600" cy="425.12" r="2.6" fill="#151515"/>
<rect x="621.65" y="357.76" width="4.9" height="4.9" fill="#fff" stroke="#151515" stroke-width="1.15"/>
<rect x="621.65" y="362.3" width="4.9" height="4.9" fill="#fff" stroke="#151515" stroke-width="1.15"/>
<rect x="621.65" y="366.04" width="4.9" height="4.9" fill="#fff" stroke="#151515" stroke-width="1.15"/>
<rect x="621.65" y="400.27" width="4.9" height="4.9" fill="#fff" stroke="#151515" stroke-width="1.15"/>
<rect x="621.65" y="421.12" width="4.9" height="4.9" fill="#fff" stroke="#151515" stroke-width="1.15"/>
<path d="M535.5,354.1 V348.5 H560 V354.1" fill="none" stroke="#151515" stroke-width="1.9"/>
<text x="547.75" y="350.6" font-size="12.5" text-anchor="middle" fill="#1c1c1c" >**</text>
<path d="M600,354.1 V348.5 H624.1 V354.1" fill="none" stroke="#151515" stroke-width="1.9"/>
<text x="612.05" y="350.6" font-size="12.5" text-anchor="middle" fill="#1c1c1c" >**</text>
<line x1="635.4" y1="335.6" x2="651" y2="335.6" stroke="#222" stroke-width="0.95" />
<circle cx="643" cy="335.6" r="2.85" fill="#151515"/>
<text x="656.2" y="339.7" font-size="11.4" text-anchor="start" fill="#1c1c1c" >CTG<tspan font-size="6" dy="-4.6">-</tspan></text>
<line x1="635.4" y1="354.3" x2="651" y2="354.3" stroke="#222" stroke-width="0.95" />
<rect x="640.2" y="351.5" width="5.6" height="5.6" fill="#fff" stroke="#151515" stroke-width="1.2"/>
<text x="656.2" y="358.4" font-size="11.4" text-anchor="start" fill="#1c1c1c" >CTG<tspan font-size="6" dy="-4.6">+</tspan></text>
<line x1="179.6" y1="617.3" x2="179.6" y2="739.75" stroke="#262626" stroke-width="1.3" />
<line x1="178.95" y1="739.1" x2="300.7" y2="739.1" stroke="#262626" stroke-width="1.3" />
<line x1="174.8" y1="739.1" x2="179.6" y2="739.1" stroke="#262626" stroke-width="1.2" />
<text x="173.7" y="743.1" font-size="11.4" text-anchor="end" fill="#1c1c1c" >0</text>
<line x1="174.8" y1="708.8" x2="179.6" y2="708.8" stroke="#262626" stroke-width="1.2" />
<text x="173.7" y="712.8" font-size="11.4" text-anchor="end" fill="#1c1c1c" >1</text>
<line x1="174.8" y1="678.5" x2="179.6" y2="678.5" stroke="#262626" stroke-width="1.2" />
<text x="173.7" y="682.5" font-size="11.4" text-anchor="end" fill="#1c1c1c" >2</text>
<line x1="174.8" y1="648.2" x2="179.6" y2="648.2" stroke="#262626" stroke-width="1.2" />
<text x="173.7" y="652.2" font-size="11.4" text-anchor="end" fill="#1c1c1c" >3</text>
<line x1="174.8" y1="617.9" x2="179.6" y2="617.9" stroke="#262626" stroke-width="1.2" />
<text x="173.7" y="621.9" font-size="11.4" text-anchor="end" fill="#1c1c1c" >4</text>
<line x1="207.85" y1="739.1" x2="207.85" y2="744.1" stroke="#262626" stroke-width="1.2" />
<text x="207.85" y="753.1" font-size="11.4" text-anchor="middle" fill="#1c1c1c" >BimS</text>
<line x1="271.85" y1="739.1" x2="271.85" y2="744.1" stroke="#262626" stroke-width="1.2" />
<text x="271.85" y="753.1" font-size="11.4" text-anchor="middle" fill="#1c1c1c" >RIPK3</text>
<text x="239.5" y="595.3" font-size="11.4" text-anchor="middle" fill="#1c1c1c" >cDC1</text>
<text x="0" y="0" font-size="12" text-anchor="middle" fill="#1c1c1c" transform="translate(156.2,679.2) rotate(-90)">CCR7 MFI (x10<tspan font-size="6.5" dy="-4.5">4</tspan><tspan dy="4.5">)</tspan></text>
<line x1="195.6" y1="696.68" x2="220.1" y2="632.75" stroke="#303030" stroke-width="0.85" />
<line x1="195.6" y1="718.8" x2="220.1" y2="716.38" stroke="#303030" stroke-width="0.85" />
<line x1="195.6" y1="731.52" x2="220.1" y2="705.16" stroke="#303030" stroke-width="0.85" />
<line x1="195.6" y1="731.52" x2="220.1" y2="709.41" stroke="#303030" stroke-width="0.85" />
<circle cx="195.6" cy="696.68" r="2.6" fill="#151515"/>
<circle cx="195.6" cy="718.8" r="2.6" fill="#151515"/>
<circle cx="195.6" cy="731.52" r="2.6" fill="#151515"/>
<circle cx="195.6" cy="731.52" r="2.6" fill="#151515"/>
<rect x="217.65" y="630.3" width="4.9" height="4.9" fill="#fff" stroke="#151515" stroke-width="1.15"/>
<rect x="217.65" y="713.92" width="4.9" height="4.9" fill="#fff" stroke="#151515" stroke-width="1.15"/>
<rect x="217.65" y="702.71" width="4.9" height="4.9" fill="#fff" stroke="#151515" stroke-width="1.15"/>
<rect x="217.65" y="706.96" width="4.9" height="4.9" fill="#fff" stroke="#151515" stroke-width="1.15"/>
<line x1="259.7" y1="660.93" x2="284" y2="639.72" stroke="#303030" stroke-width="0.85" />
<line x1="259.7" y1="713.95" x2="284" y2="696.07" stroke="#303030" stroke-width="0.85" />
<line x1="259.7" y1="716.07" x2="284" y2="712.74" stroke="#303030" stroke-width="0.85" />
<line x1="259.7" y1="731.22" x2="284" y2="703.65" stroke="#303030" stroke-width="0.85" />
<circle cx="259.7" cy="660.93" r="2.6" fill="#151515"/>
<circle cx="259.7" cy="713.95" r="2.6" fill="#151515"/>
<circle cx="259.7" cy="716.07" r="2.6" fill="#151515"/>
<circle cx="259.7" cy="731.22" r="2.6" fill="#151515"/>
<rect x="281.55" y="637.27" width="4.9" height="4.9" fill="#fff" stroke="#151515" stroke-width="1.15"/>
<rect x="281.55" y="693.62" width="4.9" height="4.9" fill="#fff" stroke="#151515" stroke-width="1.15"/>
<rect x="281.55" y="710.29" width="4.9" height="4.9" fill="#fff" stroke="#151515" stroke-width="1.15"/>
<rect x="281.55" y="701.2" width="4.9" height="4.9" fill="#fff" stroke="#151515" stroke-width="1.15"/>
<path d="M195.6,628 V622.4 H220.1 V628" fill="none" stroke="#151515" stroke-width="1.9"/>
<text x="207.85" y="619.3" font-size="11.4" text-anchor="middle" fill="#1c1c1c" >p=0.05</text>
<path d="M259.7,628 V622.4 H284 V628" fill="none" stroke="#151515" stroke-width="1.9"/>
<text x="271.85" y="624.4" font-size="12.5" text-anchor="middle" fill="#1c1c1c" >*</text>
<line x1="297.5" y1="612.7" x2="313.1" y2="612.7" stroke="#222" stroke-width="0.95" />
<circle cx="305.1" cy="612.7" r="2.85" fill="#151515"/>
<text x="318.3" y="616.8" font-size="11.4" text-anchor="start" fill="#1c1c1c" >CTG<tspan font-size="6" dy="-4.6">-</tspan></text>
<line x1="297.5" y1="631.4" x2="313.1" y2="631.4" stroke="#222" stroke-width="0.95" />
<rect x="302.3" y="628.6" width="5.6" height="5.6" fill="#fff" stroke="#151515" stroke-width="1.2"/>
<text x="318.3" y="635.5" font-size="11.4" text-anchor="start" fill="#1c1c1c" >CTG<tspan font-size="6" dy="-4.6">+</tspan></text>
<line x1="519.6" y1="622.8" x2="519.6" y2="739.75" stroke="#262626" stroke-width="1.3" />
<line x1="518.95" y1="739.1" x2="641.6" y2="739.1" stroke="#262626" stroke-width="1.3" />
<line x1="514.8" y1="739.1" x2="519.6" y2="739.1" stroke="#262626" stroke-width="1.2" />
<text x="513.7" y="743.1" font-size="11.4" text-anchor="end" fill="#1c1c1c" >0</text>
<line x1="514.8" y1="715.96" x2="519.6" y2="715.96" stroke="#262626" stroke-width="1.2" />
<text x="513.7" y="719.96" font-size="11.4" text-anchor="end" fill="#1c1c1c" >1</text>
<line x1="514.8" y1="692.82" x2="519.6" y2="692.82" stroke="#262626" stroke-width="1.2" />
<text x="513.7" y="696.82" font-size="11.4" text-anchor="end" fill="#1c1c1c" >2</text>
<line x1="514.8" y1="669.68" x2="519.6" y2="669.68" stroke="#262626" stroke-width="1.2" />
<text x="513.7" y="673.68" font-size="11.4" text-anchor="end" fill="#1c1c1c" >3</text>
<line x1="514.8" y1="646.54" x2="519.6" y2="646.54" stroke="#262626" stroke-width="1.2" />
<text x="513.7" y="650.54" font-size="11.4" text-anchor="end" fill="#1c1c1c" >4</text>
<line x1="514.8" y1="623.4" x2="519.6" y2="623.4" stroke="#262626" stroke-width="1.2" />
<text x="513.7" y="627.4" font-size="11.4" text-anchor="end" fill="#1c1c1c" >5</text>
<line x1="548" y1="739.1" x2="548" y2="744.1" stroke="#262626" stroke-width="1.2" />
<text x="548" y="753.5" font-size="11.4" text-anchor="middle" fill="#1c1c1c" >BimS</text>
<line x1="612.6" y1="739.1" x2="612.6" y2="744.1" stroke="#262626" stroke-width="1.2" />
<text x="612.6" y="753.5" font-size="11.4" text-anchor="middle" fill="#1c1c1c" >RIPK3</text>
<text x="579.5" y="595.3" font-size="11.4" text-anchor="middle" fill="#1c1c1c" >cDC2</text>
<text x="0" y="0" font-size="12" text-anchor="middle" fill="#1c1c1c" transform="translate(496.8,679.7) rotate(-90)">CCR7 MFI (x10<tspan font-size="6.5" dy="-4.5">4</tspan><tspan dy="4.5">)</tspan></text>
<line x1="535.9" y1="645.85" x2="560.1" y2="648.85" stroke="#303030" stroke-width="0.85" />
<line x1="535.9" y1="680.56" x2="560.1" y2="693.28" stroke="#303030" stroke-width="0.85" />
<line x1="535.9" y1="708.32" x2="560.1" y2="708.56" stroke="#303030" stroke-width="0.85" />
<line x1="535.9" y1="721.28" x2="560.1" y2="717.81" stroke="#303030" stroke-width="0.85" />
<circle cx="535.9" cy="645.85" r="2.6" fill="#151515"/>
<circle cx="535.9" cy="680.56" r="2.6" fill="#151515"/>
<circle cx="535.9" cy="708.32" r="2.6" fill="#151515"/>
<circle cx="535.9" cy="721.28" r="2.6" fill="#151515"/>
<rect x="557.65" y="646.4" width="4.9" height="4.9" fill="#fff" stroke="#151515" stroke-width="1.15"/>
<rect x="557.65" y="690.83" width="4.9" height="4.9" fill="#fff" stroke="#151515" stroke-width="1.15"/>
<rect x="557.65" y="706.11" width="4.9" height="4.9" fill="#fff" stroke="#151515" stroke-width="1.15"/>
<rect x="557.65" y="715.36" width="4.9" height="4.9" fill="#fff" stroke="#151515" stroke-width="1.15"/>
<line x1="600.3" y1="650.01" x2="624.9" y2="631.73" stroke="#303030" stroke-width="0.85" />
<line x1="600.3" y1="683.33" x2="624.9" y2="699.76" stroke="#303030" stroke-width="0.85" />
<line x1="600.3" y1="714.57" x2="624.9" y2="712.72" stroke="#303030" stroke-width="0.85" />
<line x1="600.3" y1="718.04" x2="624.9" y2="716.19" stroke="#303030" stroke-width="0.85" />
<circle cx="600.3" cy="650.01" r="2.6" fill="#151515"/>
<circle cx="600.3" cy="683.33" r="2.6" fill="#151515"/>
<circle cx="600.3" cy="714.57" r="2.6" fill="#151515"/>
<circle cx="600.3" cy="718.04" r="2.6" fill="#151515"/>
<rect x="622.45" y="629.28" width="4.9" height="4.9" fill="#fff" stroke="#151515" stroke-width="1.15"/>
<rect x="622.45" y="697.31" width="4.9" height="4.9" fill="#fff" stroke="#151515" stroke-width="1.15"/>
<rect x="622.45" y="710.27" width="4.9" height="4.9" fill="#fff" stroke="#151515" stroke-width="1.15"/>
<rect x="622.45" y="713.74" width="4.9" height="4.9" fill="#fff" stroke="#151515" stroke-width="1.15"/>
<path d="M535.9,627.2 V621.6 H560.1 V627.2" fill="none" stroke="#151515" stroke-width="1.9"/>
<text x="548" y="618.7" font-size="11.4" text-anchor="middle" fill="#1c1c1c" >ns</text>
<path d="M600.3,627.2 V621.6 H624.9 V627.2" fill="none" stroke="#151515" stroke-width="1.9"/>
<text x="612.6" y="618.7" font-size="11.4" text-anchor="middle" fill="#1c1c1c" >ns</text>
<line x1="635.4" y1="618.8" x2="651" y2="618.8" stroke="#222" stroke-width="0.95" />
<circle cx="643" cy="618.8" r="2.85" fill="#151515"/>
<text x="656.2" y="622.9" font-size="11.4" text-anchor="start" fill="#1c1c1c" >CTG<tspan font-size="6" dy="-4.6">-</tspan></text>
<line x1="635.4" y1="637.7" x2="651" y2="637.7" stroke="#222" stroke-width="0.95" />
<rect x="640.2" y="634.9" width="5.6" height="5.6" fill="#fff" stroke="#151515" stroke-width="1.2"/>
<text x="656.2" y="641.8" font-size="11.4" text-anchor="start" fill="#1c1c1c" >CTG<tspan font-size="6" dy="-4.6">+</tspan></text>
</svg></body></html>
